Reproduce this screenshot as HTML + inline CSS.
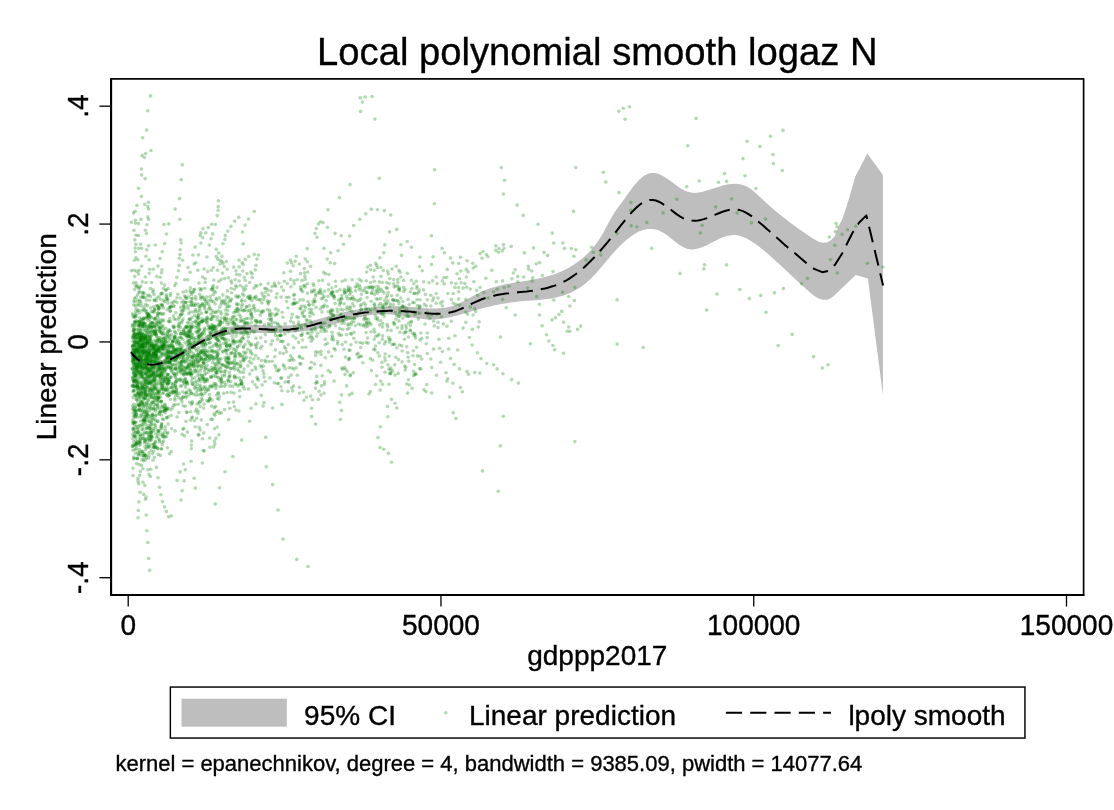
<!DOCTYPE html>
<html><head><meta charset="utf-8"><title>Local polynomial smooth logaz N</title>
<style>
html,body{margin:0;padding:0;background:#fff;width:1114px;height:810px;overflow:hidden}
svg{display:block}
text{font-family:"Liberation Sans",Arial,Helvetica,sans-serif;fill:#000;stroke:#000;stroke-width:0.35px}
.t28{font-size:28px} .t38{font-size:38.2px} .t22{font-size:22px}
.sc circle{r:1.8px;fill:#008000;fill-opacity:0.3}
</style></head><body>
<svg width="1114" height="810" viewBox="0 0 1114 810"><rect x="0" y="0" width="1114" height="810" fill="#fff"/><path d="M130.9,349.4 L134.9,354.3 L138.9,357.9 L142.9,360.3 L146.9,361.7 L150.9,362.2 L154.9,362.0 L158.9,361.1 L162.9,359.8 L166.9,358.2 L170.9,356.3 L174.9,354.3 L178.9,352.1 L182.9,349.8 L186.9,347.4 L190.9,344.9 L194.9,342.5 L198.9,340.1 L202.9,337.8 L206.9,335.5 L210.9,333.5 L214.9,331.6 L218.9,329.9 L222.9,328.5 L226.9,327.3 L230.9,326.4 L234.9,325.8 L238.9,325.3 L242.9,325.0 L246.9,324.9 L250.9,324.9 L254.9,325.0 L258.9,325.1 L262.9,325.3 L266.9,325.5 L270.9,325.6 L274.9,325.8 L278.9,325.8 L282.9,325.7 L286.9,325.5 L290.9,325.2 L294.9,324.7 L298.9,324.0 L302.9,323.2 L306.9,322.2 L310.9,321.2 L314.9,320.1 L318.9,319.0 L322.9,317.9 L326.9,316.7 L330.9,315.6 L334.9,314.4 L338.9,313.4 L342.9,312.4 L346.9,311.5 L350.9,310.7 L354.9,309.9 L358.9,309.2 L362.9,308.5 L366.9,308.0 L370.9,307.5 L374.9,307.1 L378.9,306.8 L382.9,306.5 L386.9,306.3 L390.9,306.2 L394.9,306.2 L398.9,306.2 L402.9,306.4 L406.9,306.6 L410.9,306.9 L414.9,307.2 L418.9,307.6 L422.9,307.9 L426.9,308.2 L430.9,308.4 L434.9,308.5 L438.9,308.3 L442.9,308.0 L446.9,307.4 L450.9,306.4 L454.9,305.2 L458.9,303.6 L462.9,301.6 L466.9,299.5 L470.9,297.3 L474.9,295.1 L478.9,293.0 L482.9,291.1 L486.9,289.5 L490.9,288.1 L494.9,286.9 L498.9,285.8 L502.9,284.8 L506.9,284.0 L510.9,283.3 L514.9,282.6 L518.9,281.9 L522.9,281.3 L526.9,280.7 L530.9,280.0 L534.9,279.3 L538.9,278.5 L542.9,277.6 L546.9,276.6 L550.9,275.4 L554.9,274.1 L558.9,272.5 L562.9,270.8 L566.9,268.8 L570.9,266.5 L574.9,264.0 L578.9,261.1 L582.9,257.9 L586.9,254.3 L590.9,250.3 L594.9,245.6 L598.9,240.1 L602.9,233.6 L606.9,226.0 L610.9,218.5 L614.9,212.0 L618.9,206.3 L622.9,200.9 L626.9,195.3 L630.9,189.8 L634.9,184.5 L638.9,180.0 L642.9,176.6 L646.9,174.2 L650.9,173.0 L654.9,173.0 L658.9,174.0 L662.9,175.9 L666.9,178.5 L670.9,181.3 L674.9,184.3 L678.9,187.2 L682.9,189.7 L686.9,191.5 L690.9,192.6 L694.9,192.9 L698.9,192.5 L702.9,191.8 L706.9,190.6 L710.9,189.3 L714.9,188.0 L718.9,186.7 L722.9,185.5 L726.9,184.6 L730.9,184.0 L734.9,183.8 L738.9,184.1 L742.9,185.0 L746.9,186.6 L750.9,189.1 L754.9,192.2 L758.9,195.9 L762.9,199.7 L766.9,203.4 L770.9,207.0 L774.9,210.4 L778.9,213.8 L782.9,217.0 L786.9,220.1 L790.9,223.2 L794.9,226.1 L798.9,229.0 L802.9,231.8 L806.9,234.6 L810.9,237.3 L814.9,239.8 L818.9,241.8 L822.9,242.8 L826.9,242.4 L830.9,240.3 L834.9,236.0 L837.4,229.0 L842.3,219.1 L847.3,204.3 L851.6,189.5 L855.3,176.5 L860.9,166.0 L867.3,153.6 L882.9,174.9 L882.9,394.7 L867.9,278.4 L855.7,275.1 L835.3,294.6 L834.9,295.1 L830.9,298.3 L826.9,299.8 L822.9,299.7 L818.9,298.5 L814.9,296.2 L810.9,293.3 L806.9,289.8 L802.9,286.1 L798.9,282.4 L794.9,278.7 L790.9,274.9 L786.9,271.2 L782.9,267.5 L778.9,263.8 L774.9,260.2 L770.9,256.6 L766.9,253.1 L762.9,249.7 L758.9,246.5 L754.9,243.5 L750.9,240.9 L746.9,238.6 L742.9,236.9 L738.9,235.6 L734.9,235.1 L730.9,235.2 L726.9,236.0 L722.9,237.3 L718.9,239.1 L714.9,241.1 L710.9,243.1 L706.9,245.2 L702.9,246.9 L698.9,248.3 L694.9,249.2 L690.9,249.4 L686.9,248.7 L682.9,247.1 L678.9,244.6 L674.9,241.5 L670.9,238.3 L666.9,235.1 L662.9,232.4 L658.9,230.5 L654.9,229.3 L650.9,228.9 L646.9,229.1 L642.9,230.1 L638.9,231.6 L634.9,233.7 L630.9,236.4 L626.9,239.5 L622.9,243.0 L618.9,247.0 L614.9,251.2 L610.9,255.7 L606.9,260.5 L602.9,265.2 L598.9,269.9 L594.9,274.4 L590.9,278.5 L586.9,282.2 L582.9,285.4 L578.9,288.2 L574.9,290.6 L570.9,292.6 L566.9,294.3 L562.9,295.7 L558.9,296.8 L554.9,297.7 L550.9,298.5 L546.9,299.0 L542.9,299.5 L538.9,299.9 L534.9,300.2 L530.9,300.5 L526.9,300.8 L522.9,301.1 L518.9,301.6 L514.9,302.0 L510.9,302.6 L506.9,303.2 L502.9,303.8 L498.9,304.6 L494.9,305.3 L490.9,306.2 L486.9,307.1 L482.9,308.1 L478.9,309.2 L474.9,310.3 L470.9,311.4 L466.9,312.6 L462.9,313.8 L458.9,314.9 L454.9,316.0 L450.9,316.9 L446.9,317.8 L442.9,318.5 L438.9,319.0 L434.9,319.4 L430.9,319.5 L426.9,319.4 L422.9,319.1 L418.9,318.6 L414.9,318.0 L410.9,317.4 L406.9,316.7 L402.9,316.0 L398.9,315.4 L394.9,314.9 L390.9,314.4 L386.9,314.2 L382.9,314.1 L378.9,314.3 L374.9,314.6 L370.9,315.1 L366.9,315.8 L362.9,316.6 L358.9,317.5 L354.9,318.5 L350.9,319.6 L346.9,320.7 L342.9,321.8 L338.9,323.0 L334.9,324.2 L330.9,325.3 L326.9,326.5 L322.9,327.5 L318.9,328.5 L314.9,329.4 L310.9,330.2 L306.9,330.8 L302.9,331.4 L298.9,331.8 L294.9,332.2 L290.9,332.4 L286.9,332.6 L282.9,332.8 L278.9,332.9 L274.9,332.9 L270.9,332.9 L266.9,332.9 L262.9,332.9 L258.9,332.9 L254.9,332.9 L250.9,332.9 L246.9,333.0 L242.9,333.2 L238.9,333.4 L234.9,333.8 L230.9,334.3 L226.9,334.9 L222.9,335.7 L218.9,336.7 L214.9,337.8 L210.9,339.2 L206.9,340.9 L202.9,342.7 L198.9,344.9 L194.9,347.2 L190.9,349.8 L186.9,352.5 L182.9,355.2 L178.9,357.8 L174.9,360.3 L170.9,362.5 L166.9,364.4 L162.9,366.0 L158.9,367.1 L154.9,367.6 L150.9,367.5 L146.9,366.7 L142.9,365.1 L138.9,362.6 L134.9,359.1 L130.9,354.7Z" fill="#bebebe"/><g class="sc" fill="#008000" fill-opacity="0.3"><circle cx="150.6" cy="95.9" r="1.8"/><circle cx="147.7" cy="110.7" r="1.8"/><circle cx="146.7" cy="130.1" r="1.8"/><circle cx="142.6" cy="137.8" r="1.8"/><circle cx="151.0" cy="150.5" r="1.8"/><circle cx="145.6" cy="153.5" r="1.8"/><circle cx="142.0" cy="155.4" r="1.8"/><circle cx="144.3" cy="157.4" r="1.8"/><circle cx="182.3" cy="164.9" r="1.8"/><circle cx="141.5" cy="169.1" r="1.8"/><circle cx="141.7" cy="174.9" r="1.8"/><circle cx="145.1" cy="178.6" r="1.8"/><circle cx="181.2" cy="179.8" r="1.8"/><circle cx="138.5" cy="188.3" r="1.8"/><circle cx="360.2" cy="97.9" r="1.8"/><circle cx="365.2" cy="97.0" r="1.8"/><circle cx="372.1" cy="96.5" r="1.8"/><circle cx="362.4" cy="102.1" r="1.8"/><circle cx="360.6" cy="111.4" r="1.8"/><circle cx="374.9" cy="119.1" r="1.8"/><circle cx="379.2" cy="178.2" r="1.8"/><circle cx="350.0" cy="184.6" r="1.8"/><circle cx="434.5" cy="169.7" r="1.8"/><circle cx="501.3" cy="167.6" r="1.8"/><circle cx="504.6" cy="180.3" r="1.8"/><circle cx="575.8" cy="167.6" r="1.8"/><circle cx="603.3" cy="172.3" r="1.8"/><circle cx="605.8" cy="182.0" r="1.8"/><circle cx="618.9" cy="111.2" r="1.8"/><circle cx="623.3" cy="108.3" r="1.8"/><circle cx="629.4" cy="106.7" r="1.8"/><circle cx="625.1" cy="119.3" r="1.8"/><circle cx="696.1" cy="118.4" r="1.8"/><circle cx="687.7" cy="145.7" r="1.8"/><circle cx="747.1" cy="141.2" r="1.8"/><circle cx="759.9" cy="146.6" r="1.8"/><circle cx="770.5" cy="136.2" r="1.8"/><circle cx="783.0" cy="130.4" r="1.8"/><circle cx="743.0" cy="158.6" r="1.8"/><circle cx="773.0" cy="154.5" r="1.8"/><circle cx="773.5" cy="163.5" r="1.8"/><circle cx="782.3" cy="170.5" r="1.8"/><circle cx="724.5" cy="173.5" r="1.8"/><circle cx="745.0" cy="175.8" r="1.8"/><circle cx="699.2" cy="181.0" r="1.8"/><circle cx="718.4" cy="182.3" r="1.8"/><circle cx="726.7" cy="181.4" r="1.8"/><circle cx="618.9" cy="192.6" r="1.8"/><circle cx="503.5" cy="194.0" r="1.8"/><circle cx="434.4" cy="203.7" r="1.8"/><circle cx="517.1" cy="205.1" r="1.8"/><circle cx="573.5" cy="211.4" r="1.8"/><circle cx="523.2" cy="215.4" r="1.8"/><circle cx="538.1" cy="224.3" r="1.8"/><circle cx="431.5" cy="235.7" r="1.8"/><circle cx="552.3" cy="233.1" r="1.8"/><circle cx="553.8" cy="243.0" r="1.8"/><circle cx="562.9" cy="243.0" r="1.8"/><circle cx="564.5" cy="248.4" r="1.8"/><circle cx="571.3" cy="248.6" r="1.8"/><circle cx="575.8" cy="249.7" r="1.8"/><circle cx="495.9" cy="245.9" r="1.8"/><circle cx="503.5" cy="244.6" r="1.8"/><circle cx="499.0" cy="248.6" r="1.8"/><circle cx="504.0" cy="248.2" r="1.8"/><circle cx="495.8" cy="250.4" r="1.8"/><circle cx="498.5" cy="252.2" r="1.8"/><circle cx="502.2" cy="250.9" r="1.8"/><circle cx="511.2" cy="246.4" r="1.8"/><circle cx="533.5" cy="247.9" r="1.8"/><circle cx="524.3" cy="252.9" r="1.8"/><circle cx="544.1" cy="252.4" r="1.8"/><circle cx="547.6" cy="255.4" r="1.8"/><circle cx="573.9" cy="256.3" r="1.8"/><circle cx="591.6" cy="247.3" r="1.8"/><circle cx="593.3" cy="252.2" r="1.8"/><circle cx="600.4" cy="250.9" r="1.8"/><circle cx="600.8" cy="255.0" r="1.8"/><circle cx="586.1" cy="259.9" r="1.8"/><circle cx="617.1" cy="233.5" r="1.8"/><circle cx="442.1" cy="248.4" r="1.8"/><circle cx="444.4" cy="252.7" r="1.8"/><circle cx="433.1" cy="256.7" r="1.8"/><circle cx="420.0" cy="257.2" r="1.8"/><circle cx="450.5" cy="258.1" r="1.8"/><circle cx="460.4" cy="257.2" r="1.8"/><circle cx="458.6" cy="263.5" r="1.8"/><circle cx="467.0" cy="260.8" r="1.8"/><circle cx="452.7" cy="262.9" r="1.8"/><circle cx="431.5" cy="264.4" r="1.8"/><circle cx="480.1" cy="253.6" r="1.8"/><circle cx="483.0" cy="251.5" r="1.8"/><circle cx="486.4" cy="254.5" r="1.8"/><circle cx="487.9" cy="256.8" r="1.8"/><circle cx="482.1" cy="258.3" r="1.8"/><circle cx="472.8" cy="263.3" r="1.8"/><circle cx="475.7" cy="266.2" r="1.8"/><circle cx="473.3" cy="268.0" r="1.8"/><circle cx="422.2" cy="270.7" r="1.8"/><circle cx="447.3" cy="269.4" r="1.8"/><circle cx="466.3" cy="269.4" r="1.8"/><circle cx="468.1" cy="271.9" r="1.8"/><circle cx="460.9" cy="271.0" r="1.8"/><circle cx="457.0" cy="273.7" r="1.8"/><circle cx="491.8" cy="270.3" r="1.8"/><circle cx="515.2" cy="269.8" r="1.8"/><circle cx="513.4" cy="273.0" r="1.8"/><circle cx="528.3" cy="266.2" r="1.8"/><circle cx="528.6" cy="269.2" r="1.8"/><circle cx="531.7" cy="271.0" r="1.8"/><circle cx="536.3" cy="263.7" r="1.8"/><circle cx="539.6" cy="262.6" r="1.8"/><circle cx="553.0" cy="271.6" r="1.8"/><circle cx="542.3" cy="275.5" r="1.8"/><circle cx="436.2" cy="277.0" r="1.8"/><circle cx="443.9" cy="277.5" r="1.8"/><circle cx="446.6" cy="277.5" r="1.8"/><circle cx="466.3" cy="277.0" r="1.8"/><circle cx="459.5" cy="278.7" r="1.8"/><circle cx="485.9" cy="278.2" r="1.8"/><circle cx="517.8" cy="276.4" r="1.8"/><circle cx="523.8" cy="277.0" r="1.8"/><circle cx="532.7" cy="277.8" r="1.8"/><circle cx="511.9" cy="278.7" r="1.8"/><circle cx="498.3" cy="491.3" r="1.8"/><circle cx="836.1" cy="223.5" r="1.8"/><circle cx="837.0" cy="226.7" r="1.8"/><circle cx="835.3" cy="231.6" r="1.8"/><circle cx="829.3" cy="237.1" r="1.8"/><circle cx="842.1" cy="234.3" r="1.8"/><circle cx="847.6" cy="229.7" r="1.8"/><circle cx="855.7" cy="226.2" r="1.8"/><circle cx="834.8" cy="245.2" r="1.8"/><circle cx="830.4" cy="259.6" r="1.8"/><circle cx="837.2" cy="272.9" r="1.8"/><circle cx="867.4" cy="263.2" r="1.8"/><circle cx="882.9" cy="267.0" r="1.8"/><circle cx="813.6" cy="356.6" r="1.8"/><circle cx="822.3" cy="368.0" r="1.8"/><circle cx="828.0" cy="364.8" r="1.8"/><circle cx="141.4" cy="196.5" r="1.8"/><circle cx="148.4" cy="202.3" r="1.8"/><circle cx="144.8" cy="204.4" r="1.8"/><circle cx="179.6" cy="198.6" r="1.8"/><circle cx="218.4" cy="200.8" r="1.8"/><circle cx="137.0" cy="205.4" r="1.8"/><circle cx="135.1" cy="211.2" r="1.8"/><circle cx="133.6" cy="213.1" r="1.8"/><circle cx="135.4" cy="220.2" r="1.8"/><circle cx="131.4" cy="222.3" r="1.8"/><circle cx="135.4" cy="223.3" r="1.8"/><circle cx="138.5" cy="223.6" r="1.8"/><circle cx="147.8" cy="206.6" r="1.8"/><circle cx="148.6" cy="209.1" r="1.8"/><circle cx="147.8" cy="216.9" r="1.8"/><circle cx="148.6" cy="219.3" r="1.8"/><circle cx="141.0" cy="219.3" r="1.8"/><circle cx="146.9" cy="224.8" r="1.8"/><circle cx="175.1" cy="209.1" r="1.8"/><circle cx="164.1" cy="224.5" r="1.8"/><circle cx="168.8" cy="223.9" r="1.8"/><circle cx="179.9" cy="219.2" r="1.8"/><circle cx="218.1" cy="206.6" r="1.8"/><circle cx="218.1" cy="210.3" r="1.8"/><circle cx="217.3" cy="215.6" r="1.8"/><circle cx="211.6" cy="224.3" r="1.8"/><circle cx="215.3" cy="224.5" r="1.8"/><circle cx="134.0" cy="230.3" r="1.8"/><circle cx="136.0" cy="235.2" r="1.8"/><circle cx="138.5" cy="235.5" r="1.8"/><circle cx="134.8" cy="239.9" r="1.8"/><circle cx="135.8" cy="244.3" r="1.8"/><circle cx="145.4" cy="230.3" r="1.8"/><circle cx="146.5" cy="233.5" r="1.8"/><circle cx="140.6" cy="244.3" r="1.8"/><circle cx="166.5" cy="234.0" r="1.8"/><circle cx="164.6" cy="243.6" r="1.8"/><circle cx="180.7" cy="239.7" r="1.8"/><circle cx="181.2" cy="243.0" r="1.8"/><circle cx="203.0" cy="228.7" r="1.8"/><circle cx="208.3" cy="227.6" r="1.8"/><circle cx="205.8" cy="232.9" r="1.8"/><circle cx="200.7" cy="232.7" r="1.8"/><circle cx="200.2" cy="235.6" r="1.8"/><circle cx="202.7" cy="237.7" r="1.8"/><circle cx="212.6" cy="233.9" r="1.8"/><circle cx="211.0" cy="238.8" r="1.8"/><circle cx="200.9" cy="243.0" r="1.8"/><circle cx="135.1" cy="248.0" r="1.8"/><circle cx="135.4" cy="251.7" r="1.8"/><circle cx="136.0" cy="257.8" r="1.8"/><circle cx="134.6" cy="260.3" r="1.8"/><circle cx="137.9" cy="259.7" r="1.8"/><circle cx="138.5" cy="248.2" r="1.8"/><circle cx="141.6" cy="248.2" r="1.8"/><circle cx="148.6" cy="245.7" r="1.8"/><circle cx="146.8" cy="249.9" r="1.8"/><circle cx="145.9" cy="256.2" r="1.8"/><circle cx="149.1" cy="259.9" r="1.8"/><circle cx="155.3" cy="245.0" r="1.8"/><circle cx="162.2" cy="251.8" r="1.8"/><circle cx="160.1" cy="258.5" r="1.8"/><circle cx="180.2" cy="249.7" r="1.8"/><circle cx="179.9" cy="254.5" r="1.8"/><circle cx="179.3" cy="258.2" r="1.8"/><circle cx="182.6" cy="260.2" r="1.8"/><circle cx="192.8" cy="255.0" r="1.8"/><circle cx="195.1" cy="247.1" r="1.8"/><circle cx="198.5" cy="254.9" r="1.8"/><circle cx="209.3" cy="245.1" r="1.8"/><circle cx="207.0" cy="257.0" r="1.8"/><circle cx="216.3" cy="249.2" r="1.8"/><circle cx="218.8" cy="252.9" r="1.8"/><circle cx="217.5" cy="259.1" r="1.8"/><circle cx="216.3" cy="256.6" r="1.8"/><circle cx="220.0" cy="264.0" r="1.8"/><circle cx="131.4" cy="270.6" r="1.8"/><circle cx="134.2" cy="270.2" r="1.8"/><circle cx="139.1" cy="270.4" r="1.8"/><circle cx="134.8" cy="276.4" r="1.8"/><circle cx="133.6" cy="283.1" r="1.8"/><circle cx="136.0" cy="282.5" r="1.8"/><circle cx="138.5" cy="273.9" r="1.8"/><circle cx="136.7" cy="271.4" r="1.8"/><circle cx="141.6" cy="266.2" r="1.8"/><circle cx="149.6" cy="269.3" r="1.8"/><circle cx="153.3" cy="269.3" r="1.8"/><circle cx="149.3" cy="273.3" r="1.8"/><circle cx="145.3" cy="277.0" r="1.8"/><circle cx="142.2" cy="281.9" r="1.8"/><circle cx="145.9" cy="282.5" r="1.8"/><circle cx="151.5" cy="282.5" r="1.8"/><circle cx="158.0" cy="266.1" r="1.8"/><circle cx="162.0" cy="269.8" r="1.8"/><circle cx="161.5" cy="272.7" r="1.8"/><circle cx="156.8" cy="276.4" r="1.8"/><circle cx="160.2" cy="277.3" r="1.8"/><circle cx="161.4" cy="283.1" r="1.8"/><circle cx="179.3" cy="265.4" r="1.8"/><circle cx="178.4" cy="270.7" r="1.8"/><circle cx="176.8" cy="277.3" r="1.8"/><circle cx="175.8" cy="283.4" r="1.8"/><circle cx="184.7" cy="279.8" r="1.8"/><circle cx="187.7" cy="279.8" r="1.8"/><circle cx="188.0" cy="267.5" r="1.8"/><circle cx="190.1" cy="272.3" r="1.8"/><circle cx="194.1" cy="264.0" r="1.8"/><circle cx="195.9" cy="262.8" r="1.8"/><circle cx="197.8" cy="270.2" r="1.8"/><circle cx="204.0" cy="269.0" r="1.8"/><circle cx="207.7" cy="271.4" r="1.8"/><circle cx="211.4" cy="270.2" r="1.8"/><circle cx="213.3" cy="267.5" r="1.8"/><circle cx="202.7" cy="277.0" r="1.8"/><circle cx="205.2" cy="278.8" r="1.8"/><circle cx="205.2" cy="282.5" r="1.8"/><circle cx="199.0" cy="283.1" r="1.8"/><circle cx="217.5" cy="270.2" r="1.8"/><circle cx="213.8" cy="280.1" r="1.8"/><circle cx="218.8" cy="281.3" r="1.8"/><circle cx="254.3" cy="211.5" r="1.8"/><circle cx="238.8" cy="217.3" r="1.8"/><circle cx="248.5" cy="219.0" r="1.8"/><circle cx="234.6" cy="221.2" r="1.8"/><circle cx="245.1" cy="225.1" r="1.8"/><circle cx="230.9" cy="226.4" r="1.8"/><circle cx="242.6" cy="232.0" r="1.8"/><circle cx="227.8" cy="231.3" r="1.8"/><circle cx="225.3" cy="235.4" r="1.8"/><circle cx="224.9" cy="239.4" r="1.8"/><circle cx="223.0" cy="243.8" r="1.8"/><circle cx="243.2" cy="243.9" r="1.8"/><circle cx="318.5" cy="223.9" r="1.8"/><circle cx="316.3" cy="228.5" r="1.8"/><circle cx="315.1" cy="233.5" r="1.8"/><circle cx="317.0" cy="237.3" r="1.8"/><circle cx="307.2" cy="248.6" r="1.8"/><circle cx="221.9" cy="256.4" r="1.8"/><circle cx="220.0" cy="260.3" r="1.8"/><circle cx="221.9" cy="261.5" r="1.8"/><circle cx="223.1" cy="263.4" r="1.8"/><circle cx="226.4" cy="261.5" r="1.8"/><circle cx="239.1" cy="260.1" r="1.8"/><circle cx="245.3" cy="259.3" r="1.8"/><circle cx="248.6" cy="256.5" r="1.8"/><circle cx="254.3" cy="254.4" r="1.8"/><circle cx="258.5" cy="255.0" r="1.8"/><circle cx="257.0" cy="259.1" r="1.8"/><circle cx="242.2" cy="262.5" r="1.8"/><circle cx="243.2" cy="264.6" r="1.8"/><circle cx="256.0" cy="265.4" r="1.8"/><circle cx="224.3" cy="266.5" r="1.8"/><circle cx="227.2" cy="269.2" r="1.8"/><circle cx="233.8" cy="267.1" r="1.8"/><circle cx="239.1" cy="266.9" r="1.8"/><circle cx="236.0" cy="270.9" r="1.8"/><circle cx="242.8" cy="271.0" r="1.8"/><circle cx="255.3" cy="269.9" r="1.8"/><circle cx="250.9" cy="272.0" r="1.8"/><circle cx="252.1" cy="273.9" r="1.8"/><circle cx="246.9" cy="273.6" r="1.8"/><circle cx="222.5" cy="273.1" r="1.8"/><circle cx="239.8" cy="274.9" r="1.8"/><circle cx="236.7" cy="274.5" r="1.8"/><circle cx="252.3" cy="277.6" r="1.8"/><circle cx="244.1" cy="277.3" r="1.8"/><circle cx="224.7" cy="278.6" r="1.8"/><circle cx="221.2" cy="279.4" r="1.8"/><circle cx="228.4" cy="277.8" r="1.8"/><circle cx="235.1" cy="279.8" r="1.8"/><circle cx="231.1" cy="280.7" r="1.8"/><circle cx="239.1" cy="281.0" r="1.8"/><circle cx="245.3" cy="280.3" r="1.8"/><circle cx="249.6" cy="282.5" r="1.8"/><circle cx="231.7" cy="283.1" r="1.8"/><circle cx="296.3" cy="256.2" r="1.8"/><circle cx="290.4" cy="260.3" r="1.8"/><circle cx="287.3" cy="263.1" r="1.8"/><circle cx="291.6" cy="262.8" r="1.8"/><circle cx="295.1" cy="261.3" r="1.8"/><circle cx="293.2" cy="265.7" r="1.8"/><circle cx="299.4" cy="264.0" r="1.8"/><circle cx="305.2" cy="259.1" r="1.8"/><circle cx="307.4" cy="261.8" r="1.8"/><circle cx="310.5" cy="266.2" r="1.8"/><circle cx="304.3" cy="268.6" r="1.8"/><circle cx="290.5" cy="271.2" r="1.8"/><circle cx="283.8" cy="272.8" r="1.8"/><circle cx="300.5" cy="273.6" r="1.8"/><circle cx="304.6" cy="272.9" r="1.8"/><circle cx="307.7" cy="272.0" r="1.8"/><circle cx="304.9" cy="276.4" r="1.8"/><circle cx="305.2" cy="279.4" r="1.8"/><circle cx="302.1" cy="280.4" r="1.8"/><circle cx="290.7" cy="279.4" r="1.8"/><circle cx="294.1" cy="280.7" r="1.8"/><circle cx="297.2" cy="279.8" r="1.8"/><circle cx="307.4" cy="283.8" r="1.8"/><circle cx="313.2" cy="283.8" r="1.8"/><circle cx="318.8" cy="280.7" r="1.8"/><circle cx="279.0" cy="283.1" r="1.8"/><circle cx="274.3" cy="283.1" r="1.8"/><circle cx="268.1" cy="283.5" r="1.8"/><circle cx="284.2" cy="281.3" r="1.8"/><circle cx="287.3" cy="283.5" r="1.8"/><circle cx="294.1" cy="283.8" r="1.8"/><circle cx="260.7" cy="284.4" r="1.8"/><circle cx="339.5" cy="197.6" r="1.8"/><circle cx="328.0" cy="209.7" r="1.8"/><circle cx="371.2" cy="209.3" r="1.8"/><circle cx="377.4" cy="209.8" r="1.8"/><circle cx="384.4" cy="210.6" r="1.8"/><circle cx="365.8" cy="213.8" r="1.8"/><circle cx="390.7" cy="215.0" r="1.8"/><circle cx="359.8" cy="219.2" r="1.8"/><circle cx="320.6" cy="221.8" r="1.8"/><circle cx="323.1" cy="222.7" r="1.8"/><circle cx="353.7" cy="225.5" r="1.8"/><circle cx="327.4" cy="227.2" r="1.8"/><circle cx="396.8" cy="229.4" r="1.8"/><circle cx="389.6" cy="231.9" r="1.8"/><circle cx="335.1" cy="233.4" r="1.8"/><circle cx="341.2" cy="235.7" r="1.8"/><circle cx="349.6" cy="236.0" r="1.8"/><circle cx="343.5" cy="244.3" r="1.8"/><circle cx="324.1" cy="248.2" r="1.8"/><circle cx="384.8" cy="244.8" r="1.8"/><circle cx="407.2" cy="241.5" r="1.8"/><circle cx="400.9" cy="244.8" r="1.8"/><circle cx="411.4" cy="247.3" r="1.8"/><circle cx="338.1" cy="250.8" r="1.8"/><circle cx="330.7" cy="252.8" r="1.8"/><circle cx="383.8" cy="252.8" r="1.8"/><circle cx="401.5" cy="255.4" r="1.8"/><circle cx="379.9" cy="257.8" r="1.8"/><circle cx="327.2" cy="259.1" r="1.8"/><circle cx="330.2" cy="262.8" r="1.8"/><circle cx="334.6" cy="263.6" r="1.8"/><circle cx="375.6" cy="263.4" r="1.8"/><circle cx="370.6" cy="265.2" r="1.8"/><circle cx="367.5" cy="267.1" r="1.8"/><circle cx="376.8" cy="265.2" r="1.8"/><circle cx="377.4" cy="267.7" r="1.8"/><circle cx="380.9" cy="267.5" r="1.8"/><circle cx="370.6" cy="269.6" r="1.8"/><circle cx="374.3" cy="270.2" r="1.8"/><circle cx="366.7" cy="272.0" r="1.8"/><circle cx="383.2" cy="270.6" r="1.8"/><circle cx="387.7" cy="271.2" r="1.8"/><circle cx="392.0" cy="269.0" r="1.8"/><circle cx="396.3" cy="266.2" r="1.8"/><circle cx="399.0" cy="270.2" r="1.8"/><circle cx="400.0" cy="272.3" r="1.8"/><circle cx="388.3" cy="274.1" r="1.8"/><circle cx="407.4" cy="273.3" r="1.8"/><circle cx="419.4" cy="266.5" r="1.8"/><circle cx="323.7" cy="272.4" r="1.8"/><circle cx="325.6" cy="273.9" r="1.8"/><circle cx="329.0" cy="274.5" r="1.8"/><circle cx="381.1" cy="276.4" r="1.8"/><circle cx="373.1" cy="277.0" r="1.8"/><circle cx="400.9" cy="277.0" r="1.8"/><circle cx="389.8" cy="278.6" r="1.8"/><circle cx="393.8" cy="279.6" r="1.8"/><circle cx="397.8" cy="279.4" r="1.8"/><circle cx="403.7" cy="280.3" r="1.8"/><circle cx="411.4" cy="280.3" r="1.8"/><circle cx="416.3" cy="281.3" r="1.8"/><circle cx="413.8" cy="283.8" r="1.8"/><circle cx="322.5" cy="280.4" r="1.8"/><circle cx="335.4" cy="281.3" r="1.8"/><circle cx="342.2" cy="281.3" r="1.8"/><circle cx="345.3" cy="280.1" r="1.8"/><circle cx="352.1" cy="279.8" r="1.8"/><circle cx="359.3" cy="279.4" r="1.8"/><circle cx="361.4" cy="281.0" r="1.8"/><circle cx="366.3" cy="280.7" r="1.8"/><circle cx="370.6" cy="282.5" r="1.8"/><circle cx="374.3" cy="281.3" r="1.8"/><circle cx="379.3" cy="281.9" r="1.8"/><circle cx="382.3" cy="282.5" r="1.8"/><circle cx="386.7" cy="282.5" r="1.8"/><circle cx="389.1" cy="283.8" r="1.8"/><circle cx="393.5" cy="283.8" r="1.8"/><circle cx="397.8" cy="282.5" r="1.8"/><circle cx="357.0" cy="283.8" r="1.8"/><circle cx="328.6" cy="284.4" r="1.8"/><circle cx="423.6" cy="281.8" r="1.8"/><circle cx="429.0" cy="282.7" r="1.8"/><circle cx="432.6" cy="280.9" r="1.8"/><circle cx="437.1" cy="283.6" r="1.8"/><circle cx="442.4" cy="280.9" r="1.8"/><circle cx="444.2" cy="283.9" r="1.8"/><circle cx="451.4" cy="282.7" r="1.8"/><circle cx="455.9" cy="283.6" r="1.8"/><circle cx="461.3" cy="282.7" r="1.8"/><circle cx="464.9" cy="283.6" r="1.8"/><circle cx="473.9" cy="281.8" r="1.8"/><circle cx="455.0" cy="287.5" r="1.8"/><circle cx="458.6" cy="287.5" r="1.8"/><circle cx="466.7" cy="287.2" r="1.8"/><circle cx="470.3" cy="289.0" r="1.8"/><circle cx="463.1" cy="288.1" r="1.8"/><circle cx="480.1" cy="287.5" r="1.8"/><circle cx="476.6" cy="290.4" r="1.8"/><circle cx="423.6" cy="289.9" r="1.8"/><circle cx="425.4" cy="294.4" r="1.8"/><circle cx="430.8" cy="295.3" r="1.8"/><circle cx="436.2" cy="293.5" r="1.8"/><circle cx="433.5" cy="298.0" r="1.8"/><circle cx="438.0" cy="298.0" r="1.8"/><circle cx="447.8" cy="293.5" r="1.8"/><circle cx="453.2" cy="293.5" r="1.8"/><circle cx="458.6" cy="291.7" r="1.8"/><circle cx="465.8" cy="299.4" r="1.8"/><circle cx="420.0" cy="299.7" r="1.8"/><circle cx="427.2" cy="299.7" r="1.8"/><circle cx="432.6" cy="300.6" r="1.8"/><circle cx="442.4" cy="301.5" r="1.8"/><circle cx="451.4" cy="299.4" r="1.8"/><circle cx="455.9" cy="304.2" r="1.8"/><circle cx="458.6" cy="298.9" r="1.8"/><circle cx="424.5" cy="304.2" r="1.8"/><circle cx="426.3" cy="306.0" r="1.8"/><circle cx="430.8" cy="306.0" r="1.8"/><circle cx="436.2" cy="303.3" r="1.8"/><circle cx="440.6" cy="303.3" r="1.8"/><circle cx="442.4" cy="306.0" r="1.8"/><circle cx="453.2" cy="303.3" r="1.8"/><circle cx="459.5" cy="305.1" r="1.8"/><circle cx="427.2" cy="312.3" r="1.8"/><circle cx="420.0" cy="313.2" r="1.8"/><circle cx="428.1" cy="315.9" r="1.8"/><circle cx="431.7" cy="315.0" r="1.8"/><circle cx="441.5" cy="316.8" r="1.8"/><circle cx="437.1" cy="314.1" r="1.8"/><circle cx="429.9" cy="318.6" r="1.8"/><circle cx="470.3" cy="306.9" r="1.8"/><circle cx="474.8" cy="308.7" r="1.8"/><circle cx="475.7" cy="311.4" r="1.8"/><circle cx="465.8" cy="312.3" r="1.8"/><circle cx="467.6" cy="314.1" r="1.8"/><circle cx="473.0" cy="315.0" r="1.8"/><circle cx="477.5" cy="295.3" r="1.8"/><circle cx="488.2" cy="298.0" r="1.8"/><circle cx="483.7" cy="292.6" r="1.8"/><circle cx="493.6" cy="291.7" r="1.8"/><circle cx="497.2" cy="289.3" r="1.8"/><circle cx="504.4" cy="287.5" r="1.8"/><circle cx="508.9" cy="286.3" r="1.8"/><circle cx="496.3" cy="281.8" r="1.8"/><circle cx="502.6" cy="280.9" r="1.8"/><circle cx="517.8" cy="281.8" r="1.8"/><circle cx="527.7" cy="288.1" r="1.8"/><circle cx="532.2" cy="280.9" r="1.8"/><circle cx="536.7" cy="296.5" r="1.8"/><circle cx="539.4" cy="304.2" r="1.8"/><circle cx="502.6" cy="299.4" r="1.8"/><circle cx="506.2" cy="307.8" r="1.8"/><circle cx="515.2" cy="315.0" r="1.8"/><circle cx="539.4" cy="315.0" r="1.8"/><circle cx="553.8" cy="300.1" r="1.8"/><circle cx="562.7" cy="292.2" r="1.8"/><circle cx="568.7" cy="296.5" r="1.8"/><circle cx="574.4" cy="300.6" r="1.8"/><circle cx="574.8" cy="287.5" r="1.8"/><circle cx="569.9" cy="306.0" r="1.8"/><circle cx="561.8" cy="311.4" r="1.8"/><circle cx="559.1" cy="314.5" r="1.8"/><circle cx="555.5" cy="317.7" r="1.8"/><circle cx="552.0" cy="319.9" r="1.8"/><circle cx="563.6" cy="322.2" r="1.8"/><circle cx="542.1" cy="325.8" r="1.8"/><circle cx="568.7" cy="327.0" r="1.8"/><circle cx="567.2" cy="331.2" r="1.8"/><circle cx="569.9" cy="331.2" r="1.8"/><circle cx="577.5" cy="329.4" r="1.8"/><circle cx="580.7" cy="326.1" r="1.8"/><circle cx="546.6" cy="334.8" r="1.8"/><circle cx="548.9" cy="341.0" r="1.8"/><circle cx="552.9" cy="345.5" r="1.8"/><circle cx="554.6" cy="349.7" r="1.8"/><circle cx="563.6" cy="353.2" r="1.8"/><circle cx="530.4" cy="343.7" r="1.8"/><circle cx="500.4" cy="337.1" r="1.8"/><circle cx="617.1" cy="299.7" r="1.8"/><circle cx="617.1" cy="344.1" r="1.8"/><circle cx="433.5" cy="321.3" r="1.8"/><circle cx="438.0" cy="322.2" r="1.8"/><circle cx="443.3" cy="324.0" r="1.8"/><circle cx="446.9" cy="326.3" r="1.8"/><circle cx="451.4" cy="321.3" r="1.8"/><circle cx="465.8" cy="322.2" r="1.8"/><circle cx="463.1" cy="328.1" r="1.8"/><circle cx="479.2" cy="321.7" r="1.8"/><circle cx="478.3" cy="327.0" r="1.8"/><circle cx="472.4" cy="329.4" r="1.8"/><circle cx="425.0" cy="324.0" r="1.8"/><circle cx="434.4" cy="325.8" r="1.8"/><circle cx="438.0" cy="327.6" r="1.8"/><circle cx="420.9" cy="333.0" r="1.8"/><circle cx="427.2" cy="333.0" r="1.8"/><circle cx="427.2" cy="337.5" r="1.8"/><circle cx="421.8" cy="338.3" r="1.8"/><circle cx="420.0" cy="340.1" r="1.8"/><circle cx="426.3" cy="343.7" r="1.8"/><circle cx="438.9" cy="339.2" r="1.8"/><circle cx="448.7" cy="338.3" r="1.8"/><circle cx="455.0" cy="335.7" r="1.8"/><circle cx="469.4" cy="337.5" r="1.8"/><circle cx="472.1" cy="345.0" r="1.8"/><circle cx="433.5" cy="349.1" r="1.8"/><circle cx="439.7" cy="348.2" r="1.8"/><circle cx="442.4" cy="351.5" r="1.8"/><circle cx="448.7" cy="349.1" r="1.8"/><circle cx="457.7" cy="350.0" r="1.8"/><circle cx="427.2" cy="353.6" r="1.8"/><circle cx="420.0" cy="356.3" r="1.8"/><circle cx="421.8" cy="359.0" r="1.8"/><circle cx="430.8" cy="359.0" r="1.8"/><circle cx="450.5" cy="358.5" r="1.8"/><circle cx="440.6" cy="362.2" r="1.8"/><circle cx="454.1" cy="364.4" r="1.8"/><circle cx="477.5" cy="352.7" r="1.8"/><circle cx="481.0" cy="358.6" r="1.8"/><circle cx="486.8" cy="363.5" r="1.8"/><circle cx="493.6" cy="364.7" r="1.8"/><circle cx="497.2" cy="368.9" r="1.8"/><circle cx="502.9" cy="373.7" r="1.8"/><circle cx="431.7" cy="367.6" r="1.8"/><circle cx="420.9" cy="368.9" r="1.8"/><circle cx="459.5" cy="368.9" r="1.8"/><circle cx="467.0" cy="371.6" r="1.8"/><circle cx="468.5" cy="374.3" r="1.8"/><circle cx="474.8" cy="372.5" r="1.8"/><circle cx="479.8" cy="373.0" r="1.8"/><circle cx="446.0" cy="372.8" r="1.8"/><circle cx="436.5" cy="375.2" r="1.8"/><circle cx="447.8" cy="378.7" r="1.8"/><circle cx="511.6" cy="379.6" r="1.8"/><circle cx="221.8" cy="385.9" r="1.8"/><circle cx="224.5" cy="386.4" r="1.8"/><circle cx="229.9" cy="385.9" r="1.8"/><circle cx="232.6" cy="386.4" r="1.8"/><circle cx="238.0" cy="385.9" r="1.8"/><circle cx="243.3" cy="386.4" r="1.8"/><circle cx="244.2" cy="388.9" r="1.8"/><circle cx="248.4" cy="388.9" r="1.8"/><circle cx="256.8" cy="387.5" r="1.8"/><circle cx="262.2" cy="385.0" r="1.8"/><circle cx="281.0" cy="386.8" r="1.8"/><circle cx="281.9" cy="390.7" r="1.8"/><circle cx="287.9" cy="391.3" r="1.8"/><circle cx="291.8" cy="387.7" r="1.8"/><circle cx="292.7" cy="390.9" r="1.8"/><circle cx="293.6" cy="385.9" r="1.8"/><circle cx="299.4" cy="387.2" r="1.8"/><circle cx="299.4" cy="393.1" r="1.8"/><circle cx="303.5" cy="392.2" r="1.8"/><circle cx="306.5" cy="397.2" r="1.8"/><circle cx="310.7" cy="396.1" r="1.8"/><circle cx="304.0" cy="400.3" r="1.8"/><circle cx="312.5" cy="399.7" r="1.8"/><circle cx="315.5" cy="388.1" r="1.8"/><circle cx="318.4" cy="399.4" r="1.8"/><circle cx="319.1" cy="391.3" r="1.8"/><circle cx="320.9" cy="394.9" r="1.8"/><circle cx="321.4" cy="385.9" r="1.8"/><circle cx="324.1" cy="393.1" r="1.8"/><circle cx="346.6" cy="385.9" r="1.8"/><circle cx="341.5" cy="394.9" r="1.8"/><circle cx="349.3" cy="394.9" r="1.8"/><circle cx="352.0" cy="393.4" r="1.8"/><circle cx="369.0" cy="394.0" r="1.8"/><circle cx="370.4" cy="391.6" r="1.8"/><circle cx="380.1" cy="390.0" r="1.8"/><circle cx="407.6" cy="393.1" r="1.8"/><circle cx="412.1" cy="388.2" r="1.8"/><circle cx="409.4" cy="385.0" r="1.8"/><circle cx="223.6" cy="393.4" r="1.8"/><circle cx="227.2" cy="392.5" r="1.8"/><circle cx="231.1" cy="392.2" r="1.8"/><circle cx="234.0" cy="393.1" r="1.8"/><circle cx="239.7" cy="390.7" r="1.8"/><circle cx="239.7" cy="396.7" r="1.8"/><circle cx="261.3" cy="395.4" r="1.8"/><circle cx="228.6" cy="402.6" r="1.8"/><circle cx="233.5" cy="402.1" r="1.8"/><circle cx="234.4" cy="406.5" r="1.8"/><circle cx="229.9" cy="408.3" r="1.8"/><circle cx="224.5" cy="409.6" r="1.8"/><circle cx="235.8" cy="410.1" r="1.8"/><circle cx="238.9" cy="411.0" r="1.8"/><circle cx="221.4" cy="412.8" r="1.8"/><circle cx="255.9" cy="403.9" r="1.8"/><circle cx="264.0" cy="402.6" r="1.8"/><circle cx="263.1" cy="406.0" r="1.8"/><circle cx="251.1" cy="408.3" r="1.8"/><circle cx="272.6" cy="408.0" r="1.8"/><circle cx="281.9" cy="404.4" r="1.8"/><circle cx="311.6" cy="408.3" r="1.8"/><circle cx="311.6" cy="416.4" r="1.8"/><circle cx="315.5" cy="424.1" r="1.8"/><circle cx="339.7" cy="402.2" r="1.8"/><circle cx="341.5" cy="410.5" r="1.8"/><circle cx="340.3" cy="419.5" r="1.8"/><circle cx="391.5" cy="399.4" r="1.8"/><circle cx="395.0" cy="403.3" r="1.8"/><circle cx="396.8" cy="408.0" r="1.8"/><circle cx="387.5" cy="406.5" r="1.8"/><circle cx="387.9" cy="416.8" r="1.8"/><circle cx="380.3" cy="426.7" r="1.8"/><circle cx="378.0" cy="437.6" r="1.8"/><circle cx="380.1" cy="447.5" r="1.8"/><circle cx="383.7" cy="449.3" r="1.8"/><circle cx="388.4" cy="453.4" r="1.8"/><circle cx="391.5" cy="462.2" r="1.8"/><circle cx="228.6" cy="419.6" r="1.8"/><circle cx="249.6" cy="421.3" r="1.8"/><circle cx="241.5" cy="440.1" r="1.8"/><circle cx="265.8" cy="437.4" r="1.8"/><circle cx="232.9" cy="456.5" r="1.8"/><circle cx="266.3" cy="466.7" r="1.8"/><circle cx="225.0" cy="471.7" r="1.8"/><circle cx="272.6" cy="484.6" r="1.8"/><circle cx="138.0" cy="481.4" r="1.8"/><circle cx="138.9" cy="483.9" r="1.8"/><circle cx="143.0" cy="482.2" r="1.8"/><circle cx="144.8" cy="485.4" r="1.8"/><circle cx="140.1" cy="492.2" r="1.8"/><circle cx="143.7" cy="494.4" r="1.8"/><circle cx="146.0" cy="497.1" r="1.8"/><circle cx="145.5" cy="499.2" r="1.8"/><circle cx="138.9" cy="501.9" r="1.8"/><circle cx="138.3" cy="510.5" r="1.8"/><circle cx="146.2" cy="515.0" r="1.8"/><circle cx="138.1" cy="517.7" r="1.8"/><circle cx="146.9" cy="530.8" r="1.8"/><circle cx="147.8" cy="542.5" r="1.8"/><circle cx="148.7" cy="558.5" r="1.8"/><circle cx="149.6" cy="570.3" r="1.8"/><circle cx="159.5" cy="487.2" r="1.8"/><circle cx="160.9" cy="494.7" r="1.8"/><circle cx="162.5" cy="501.5" r="1.8"/><circle cx="164.5" cy="506.9" r="1.8"/><circle cx="166.3" cy="511.4" r="1.8"/><circle cx="168.5" cy="516.8" r="1.8"/><circle cx="171.2" cy="515.9" r="1.8"/><circle cx="177.1" cy="480.4" r="1.8"/><circle cx="184.1" cy="480.9" r="1.8"/><circle cx="182.1" cy="490.8" r="1.8"/><circle cx="181.0" cy="500.1" r="1.8"/><circle cx="195.4" cy="488.1" r="1.8"/><circle cx="219.6" cy="487.7" r="1.8"/><circle cx="215.2" cy="503.9" r="1.8"/><circle cx="278.0" cy="510.0" r="1.8"/><circle cx="283.0" cy="539.1" r="1.8"/><circle cx="296.8" cy="559.4" r="1.8"/><circle cx="308.0" cy="566.5" r="1.8"/><circle cx="426.8" cy="384.5" r="1.8"/><circle cx="423.9" cy="389.7" r="1.8"/><circle cx="425.9" cy="391.5" r="1.8"/><circle cx="431.7" cy="393.0" r="1.8"/><circle cx="446.9" cy="381.3" r="1.8"/><circle cx="452.9" cy="383.3" r="1.8"/><circle cx="460.4" cy="387.6" r="1.8"/><circle cx="462.5" cy="391.7" r="1.8"/><circle cx="449.4" cy="397.1" r="1.8"/><circle cx="453.2" cy="412.7" r="1.8"/><circle cx="455.9" cy="418.6" r="1.8"/><circle cx="518.4" cy="383.1" r="1.8"/><circle cx="503.3" cy="416.3" r="1.8"/><circle cx="500.4" cy="445.9" r="1.8"/><circle cx="482.5" cy="470.9" r="1.8"/><circle cx="574.8" cy="441.6" r="1.8"/><circle cx="686.7" cy="186.8" r="1.8"/><circle cx="755.8" cy="188.6" r="1.8"/><circle cx="631.0" cy="202.4" r="1.8"/><circle cx="676.8" cy="199.2" r="1.8"/><circle cx="731.5" cy="198.9" r="1.8"/><circle cx="630.6" cy="210.2" r="1.8"/><circle cx="663.0" cy="212.9" r="1.8"/><circle cx="715.6" cy="206.9" r="1.8"/><circle cx="737.1" cy="212.9" r="1.8"/><circle cx="765.5" cy="219.1" r="1.8"/><circle cx="646.8" cy="222.5" r="1.8"/><circle cx="631.2" cy="225.8" r="1.8"/><circle cx="636.9" cy="226.7" r="1.8"/><circle cx="702.1" cy="225.2" r="1.8"/><circle cx="751.5" cy="222.7" r="1.8"/><circle cx="700.3" cy="233.0" r="1.8"/><circle cx="651.8" cy="248.2" r="1.8"/><circle cx="704.6" cy="264.7" r="1.8"/><circle cx="703.9" cy="268.9" r="1.8"/><circle cx="726.5" cy="264.9" r="1.8"/><circle cx="680.0" cy="273.4" r="1.8"/><circle cx="739.8" cy="289.5" r="1.8"/><circle cx="783.4" cy="288.6" r="1.8"/><circle cx="801.6" cy="283.8" r="1.8"/><circle cx="807.5" cy="278.4" r="1.8"/><circle cx="717.0" cy="294.0" r="1.8"/><circle cx="749.3" cy="298.6" r="1.8"/><circle cx="760.8" cy="295.6" r="1.8"/><circle cx="774.5" cy="292.9" r="1.8"/><circle cx="706.6" cy="310.0" r="1.8"/><circle cx="766.0" cy="312.3" r="1.8"/><circle cx="792.2" cy="334.4" r="1.8"/><circle cx="778.2" cy="345.5" r="1.8"/><circle cx="643.2" cy="347.5" r="1.8"/><circle cx="133.4" cy="459.1" r="1.8"/><circle cx="137.1" cy="458.3" r="1.8"/><circle cx="138.2" cy="455.0" r="1.8"/><circle cx="141.9" cy="455.7" r="1.8"/><circle cx="143.8" cy="457.2" r="1.8"/><circle cx="145.3" cy="455.6" r="1.8"/><circle cx="149.0" cy="455.7" r="1.8"/><circle cx="154.5" cy="457.2" r="1.8"/><circle cx="153.0" cy="460.3" r="1.8"/><circle cx="143.4" cy="460.6" r="1.8"/><circle cx="160.4" cy="455.4" r="1.8"/><circle cx="136.4" cy="463.5" r="1.8"/><circle cx="139.0" cy="464.6" r="1.8"/><circle cx="141.6" cy="465.4" r="1.8"/><circle cx="133.0" cy="468.2" r="1.8"/><circle cx="143.0" cy="468.7" r="1.8"/><circle cx="147.9" cy="469.8" r="1.8"/><circle cx="150.8" cy="469.2" r="1.8"/><circle cx="156.4" cy="467.4" r="1.8"/><circle cx="140.4" cy="471.4" r="1.8"/><circle cx="133.0" cy="475.6" r="1.8"/><circle cx="139.7" cy="475.4" r="1.8"/><circle cx="149.0" cy="474.4" r="1.8"/><circle cx="150.4" cy="476.5" r="1.8"/><circle cx="158.0" cy="477.8" r="1.8"/><circle cx="137.9" cy="478.6" r="1.8"/><circle cx="183.6" cy="464.0" r="1.8"/><circle cx="185.3" cy="469.8" r="1.8"/><circle cx="180.1" cy="471.9" r="1.8"/><circle cx="135.6" cy="286.2" r="1.8"/><circle cx="134.6" cy="289.6" r="1.8"/><circle cx="134.5" cy="298.4" r="1.8"/><circle cx="136.1" cy="297.4" r="1.8"/><circle cx="135.2" cy="301.8" r="1.8"/><circle cx="133.7" cy="301.1" r="1.8"/><circle cx="133.7" cy="304.9" r="1.8"/><circle cx="136.1" cy="308.5" r="1.8"/><circle cx="135.4" cy="305.7" r="1.8"/><circle cx="135.8" cy="311.3" r="1.8"/><circle cx="135.8" cy="313.9" r="1.8"/><circle cx="135.5" cy="315.2" r="1.8"/><circle cx="133.0" cy="315.4" r="1.8"/><circle cx="134.4" cy="316.8" r="1.8"/><circle cx="132.5" cy="313.7" r="1.8"/><circle cx="136.2" cy="316.3" r="1.8"/><circle cx="133.6" cy="317.2" r="1.8"/><circle cx="135.1" cy="317.3" r="1.8"/><circle cx="136.3" cy="320.7" r="1.8"/><circle cx="134.8" cy="322.3" r="1.8"/><circle cx="134.7" cy="322.7" r="1.8"/><circle cx="136.1" cy="321.8" r="1.8"/><circle cx="135.4" cy="323.8" r="1.8"/><circle cx="134.5" cy="321.3" r="1.8"/><circle cx="133.0" cy="324.9" r="1.8"/><circle cx="132.3" cy="325.0" r="1.8"/><circle cx="134.3" cy="325.7" r="1.8"/><circle cx="134.7" cy="328.2" r="1.8"/><circle cx="132.7" cy="327.0" r="1.8"/><circle cx="133.6" cy="330.6" r="1.8"/><circle cx="133.0" cy="331.7" r="1.8"/><circle cx="134.4" cy="330.0" r="1.8"/><circle cx="134.0" cy="331.8" r="1.8"/><circle cx="133.6" cy="329.3" r="1.8"/><circle cx="134.1" cy="329.8" r="1.8"/><circle cx="135.5" cy="334.0" r="1.8"/><circle cx="134.0" cy="334.5" r="1.8"/><circle cx="134.4" cy="335.3" r="1.8"/><circle cx="134.8" cy="333.3" r="1.8"/><circle cx="133.8" cy="335.8" r="1.8"/><circle cx="132.4" cy="336.0" r="1.8"/><circle cx="135.0" cy="334.6" r="1.8"/><circle cx="134.1" cy="334.1" r="1.8"/><circle cx="134.7" cy="337.8" r="1.8"/><circle cx="133.9" cy="337.7" r="1.8"/><circle cx="133.7" cy="340.6" r="1.8"/><circle cx="135.2" cy="340.4" r="1.8"/><circle cx="132.6" cy="338.2" r="1.8"/><circle cx="135.4" cy="337.2" r="1.8"/><circle cx="133.1" cy="337.3" r="1.8"/><circle cx="135.6" cy="337.9" r="1.8"/><circle cx="134.0" cy="337.1" r="1.8"/><circle cx="132.9" cy="341.8" r="1.8"/><circle cx="134.6" cy="342.4" r="1.8"/><circle cx="136.2" cy="342.1" r="1.8"/><circle cx="135.7" cy="341.4" r="1.8"/><circle cx="134.4" cy="343.2" r="1.8"/><circle cx="134.9" cy="342.6" r="1.8"/><circle cx="135.6" cy="347.6" r="1.8"/><circle cx="132.4" cy="346.9" r="1.8"/><circle cx="132.5" cy="346.3" r="1.8"/><circle cx="135.5" cy="345.5" r="1.8"/><circle cx="134.6" cy="345.2" r="1.8"/><circle cx="132.7" cy="348.8" r="1.8"/><circle cx="132.7" cy="345.7" r="1.8"/><circle cx="136.1" cy="346.2" r="1.8"/><circle cx="133.2" cy="345.4" r="1.8"/><circle cx="134.3" cy="345.2" r="1.8"/><circle cx="133.2" cy="345.9" r="1.8"/><circle cx="135.4" cy="352.1" r="1.8"/><circle cx="134.5" cy="349.5" r="1.8"/><circle cx="133.4" cy="349.9" r="1.8"/><circle cx="136.2" cy="349.9" r="1.8"/><circle cx="133.8" cy="351.8" r="1.8"/><circle cx="135.0" cy="351.2" r="1.8"/><circle cx="134.9" cy="352.5" r="1.8"/><circle cx="136.0" cy="349.4" r="1.8"/><circle cx="132.4" cy="352.7" r="1.8"/><circle cx="135.9" cy="350.5" r="1.8"/><circle cx="133.9" cy="351.7" r="1.8"/><circle cx="134.0" cy="349.4" r="1.8"/><circle cx="133.3" cy="350.2" r="1.8"/><circle cx="134.6" cy="349.7" r="1.8"/><circle cx="135.2" cy="352.9" r="1.8"/><circle cx="133.9" cy="353.9" r="1.8"/><circle cx="134.5" cy="354.0" r="1.8"/><circle cx="132.7" cy="356.2" r="1.8"/><circle cx="133.3" cy="355.2" r="1.8"/><circle cx="132.4" cy="355.3" r="1.8"/><circle cx="135.5" cy="356.1" r="1.8"/><circle cx="133.6" cy="353.5" r="1.8"/><circle cx="134.7" cy="354.2" r="1.8"/><circle cx="133.4" cy="353.8" r="1.8"/><circle cx="133.9" cy="355.7" r="1.8"/><circle cx="133.9" cy="355.6" r="1.8"/><circle cx="135.2" cy="356.2" r="1.8"/><circle cx="134.6" cy="357.0" r="1.8"/><circle cx="133.9" cy="359.6" r="1.8"/><circle cx="135.3" cy="357.9" r="1.8"/><circle cx="134.8" cy="360.0" r="1.8"/><circle cx="132.9" cy="357.1" r="1.8"/><circle cx="132.9" cy="359.7" r="1.8"/><circle cx="136.0" cy="358.5" r="1.8"/><circle cx="133.5" cy="359.5" r="1.8"/><circle cx="133.6" cy="357.2" r="1.8"/><circle cx="133.3" cy="359.4" r="1.8"/><circle cx="134.1" cy="358.4" r="1.8"/><circle cx="133.9" cy="357.5" r="1.8"/><circle cx="135.4" cy="358.5" r="1.8"/><circle cx="135.1" cy="359.3" r="1.8"/><circle cx="135.9" cy="360.2" r="1.8"/><circle cx="132.8" cy="358.8" r="1.8"/><circle cx="133.0" cy="361.2" r="1.8"/><circle cx="135.1" cy="363.7" r="1.8"/><circle cx="135.3" cy="364.1" r="1.8"/><circle cx="132.8" cy="361.3" r="1.8"/><circle cx="134.9" cy="361.0" r="1.8"/><circle cx="133.6" cy="363.4" r="1.8"/><circle cx="134.9" cy="363.5" r="1.8"/><circle cx="136.1" cy="364.9" r="1.8"/><circle cx="133.5" cy="362.3" r="1.8"/><circle cx="132.4" cy="361.5" r="1.8"/><circle cx="134.1" cy="363.6" r="1.8"/><circle cx="136.0" cy="368.7" r="1.8"/><circle cx="135.5" cy="365.9" r="1.8"/><circle cx="136.2" cy="368.2" r="1.8"/><circle cx="132.9" cy="365.1" r="1.8"/><circle cx="133.8" cy="367.3" r="1.8"/><circle cx="132.4" cy="368.8" r="1.8"/><circle cx="135.0" cy="367.1" r="1.8"/><circle cx="134.3" cy="365.4" r="1.8"/><circle cx="135.3" cy="368.0" r="1.8"/><circle cx="132.4" cy="368.2" r="1.8"/><circle cx="134.2" cy="371.2" r="1.8"/><circle cx="134.5" cy="369.5" r="1.8"/><circle cx="132.4" cy="369.6" r="1.8"/><circle cx="135.9" cy="369.5" r="1.8"/><circle cx="135.0" cy="371.2" r="1.8"/><circle cx="134.7" cy="372.7" r="1.8"/><circle cx="133.3" cy="371.8" r="1.8"/><circle cx="134.9" cy="375.3" r="1.8"/><circle cx="135.5" cy="374.6" r="1.8"/><circle cx="136.1" cy="375.9" r="1.8"/><circle cx="134.1" cy="373.5" r="1.8"/><circle cx="133.3" cy="373.5" r="1.8"/><circle cx="134.4" cy="376.2" r="1.8"/><circle cx="135.3" cy="375.5" r="1.8"/><circle cx="134.0" cy="374.1" r="1.8"/><circle cx="135.5" cy="375.7" r="1.8"/><circle cx="132.7" cy="378.9" r="1.8"/><circle cx="134.7" cy="378.4" r="1.8"/><circle cx="134.3" cy="381.0" r="1.8"/><circle cx="136.0" cy="377.3" r="1.8"/><circle cx="136.1" cy="380.2" r="1.8"/><circle cx="135.5" cy="380.2" r="1.8"/><circle cx="133.1" cy="377.5" r="1.8"/><circle cx="134.9" cy="380.3" r="1.8"/><circle cx="132.7" cy="377.1" r="1.8"/><circle cx="136.1" cy="380.6" r="1.8"/><circle cx="133.3" cy="380.3" r="1.8"/><circle cx="133.5" cy="380.4" r="1.8"/><circle cx="134.9" cy="381.4" r="1.8"/><circle cx="134.1" cy="381.3" r="1.8"/><circle cx="133.8" cy="381.6" r="1.8"/><circle cx="133.6" cy="382.9" r="1.8"/><circle cx="132.4" cy="386.4" r="1.8"/><circle cx="136.1" cy="386.9" r="1.8"/><circle cx="135.6" cy="386.5" r="1.8"/><circle cx="134.7" cy="385.3" r="1.8"/><circle cx="133.1" cy="385.4" r="1.8"/><circle cx="133.9" cy="386.3" r="1.8"/><circle cx="134.5" cy="387.6" r="1.8"/><circle cx="133.3" cy="386.1" r="1.8"/><circle cx="132.4" cy="385.5" r="1.8"/><circle cx="134.7" cy="390.7" r="1.8"/><circle cx="133.6" cy="390.6" r="1.8"/><circle cx="133.4" cy="390.6" r="1.8"/><circle cx="133.0" cy="391.9" r="1.8"/><circle cx="135.4" cy="394.8" r="1.8"/><circle cx="134.5" cy="395.6" r="1.8"/><circle cx="135.5" cy="395.1" r="1.8"/><circle cx="133.0" cy="397.6" r="1.8"/><circle cx="136.1" cy="399.3" r="1.8"/><circle cx="133.9" cy="404.3" r="1.8"/><circle cx="135.4" cy="407.0" r="1.8"/><circle cx="135.2" cy="407.3" r="1.8"/><circle cx="132.7" cy="406.1" r="1.8"/><circle cx="133.6" cy="408.1" r="1.8"/><circle cx="135.7" cy="410.8" r="1.8"/><circle cx="136.1" cy="411.9" r="1.8"/><circle cx="134.6" cy="410.7" r="1.8"/><circle cx="135.0" cy="410.0" r="1.8"/><circle cx="133.7" cy="410.3" r="1.8"/><circle cx="135.6" cy="412.8" r="1.8"/><circle cx="132.7" cy="409.1" r="1.8"/><circle cx="134.6" cy="415.5" r="1.8"/><circle cx="133.1" cy="413.1" r="1.8"/><circle cx="135.0" cy="417.0" r="1.8"/><circle cx="134.9" cy="413.8" r="1.8"/><circle cx="135.8" cy="414.3" r="1.8"/><circle cx="133.7" cy="416.3" r="1.8"/><circle cx="135.5" cy="416.7" r="1.8"/><circle cx="133.2" cy="419.3" r="1.8"/><circle cx="134.4" cy="424.8" r="1.8"/><circle cx="134.8" cy="422.3" r="1.8"/><circle cx="132.7" cy="421.5" r="1.8"/><circle cx="132.8" cy="423.8" r="1.8"/><circle cx="133.6" cy="422.7" r="1.8"/><circle cx="136.2" cy="422.3" r="1.8"/><circle cx="134.9" cy="422.4" r="1.8"/><circle cx="133.8" cy="422.7" r="1.8"/><circle cx="132.7" cy="428.9" r="1.8"/><circle cx="136.2" cy="426.1" r="1.8"/><circle cx="133.7" cy="428.1" r="1.8"/><circle cx="135.5" cy="432.5" r="1.8"/><circle cx="135.8" cy="432.2" r="1.8"/><circle cx="134.9" cy="429.1" r="1.8"/><circle cx="133.8" cy="431.8" r="1.8"/><circle cx="133.3" cy="429.3" r="1.8"/><circle cx="135.0" cy="436.6" r="1.8"/><circle cx="134.4" cy="435.3" r="1.8"/><circle cx="132.7" cy="434.3" r="1.8"/><circle cx="134.7" cy="436.2" r="1.8"/><circle cx="133.6" cy="436.3" r="1.8"/><circle cx="132.8" cy="438.7" r="1.8"/><circle cx="135.8" cy="440.5" r="1.8"/><circle cx="136.1" cy="437.8" r="1.8"/><circle cx="133.7" cy="441.9" r="1.8"/><circle cx="136.0" cy="443.9" r="1.8"/><circle cx="136.0" cy="443.9" r="1.8"/><circle cx="136.2" cy="443.9" r="1.8"/><circle cx="135.6" cy="444.7" r="1.8"/><circle cx="132.3" cy="446.4" r="1.8"/><circle cx="133.4" cy="445.0" r="1.8"/><circle cx="133.6" cy="446.0" r="1.8"/><circle cx="132.7" cy="446.0" r="1.8"/><circle cx="135.7" cy="445.9" r="1.8"/><circle cx="135.1" cy="449.5" r="1.8"/><circle cx="133.0" cy="450.2" r="1.8"/><circle cx="135.5" cy="453.3" r="1.8"/><circle cx="133.7" cy="457.0" r="1.8"/><circle cx="134.6" cy="458.3" r="1.8"/><circle cx="137.0" cy="285.2" r="1.8"/><circle cx="137.1" cy="287.0" r="1.8"/><circle cx="139.1" cy="288.4" r="1.8"/><circle cx="139.2" cy="287.6" r="1.8"/><circle cx="139.0" cy="292.3" r="1.8"/><circle cx="139.7" cy="291.9" r="1.8"/><circle cx="137.6" cy="294.8" r="1.8"/><circle cx="137.8" cy="300.3" r="1.8"/><circle cx="138.0" cy="303.9" r="1.8"/><circle cx="139.3" cy="301.0" r="1.8"/><circle cx="138.6" cy="305.4" r="1.8"/><circle cx="137.8" cy="310.7" r="1.8"/><circle cx="138.6" cy="310.4" r="1.8"/><circle cx="139.1" cy="313.0" r="1.8"/><circle cx="139.8" cy="317.8" r="1.8"/><circle cx="139.5" cy="321.2" r="1.8"/><circle cx="139.8" cy="325.0" r="1.8"/><circle cx="139.2" cy="323.4" r="1.8"/><circle cx="139.2" cy="321.3" r="1.8"/><circle cx="139.8" cy="321.3" r="1.8"/><circle cx="137.3" cy="322.1" r="1.8"/><circle cx="139.1" cy="322.6" r="1.8"/><circle cx="136.7" cy="325.5" r="1.8"/><circle cx="139.3" cy="325.3" r="1.8"/><circle cx="139.3" cy="325.0" r="1.8"/><circle cx="139.0" cy="326.0" r="1.8"/><circle cx="138.9" cy="328.0" r="1.8"/><circle cx="138.9" cy="325.3" r="1.8"/><circle cx="138.2" cy="332.3" r="1.8"/><circle cx="137.1" cy="329.5" r="1.8"/><circle cx="140.0" cy="330.7" r="1.8"/><circle cx="138.1" cy="330.2" r="1.8"/><circle cx="137.4" cy="334.1" r="1.8"/><circle cx="136.8" cy="336.2" r="1.8"/><circle cx="139.1" cy="336.2" r="1.8"/><circle cx="138.9" cy="334.0" r="1.8"/><circle cx="136.6" cy="334.0" r="1.8"/><circle cx="139.5" cy="333.1" r="1.8"/><circle cx="138.4" cy="334.3" r="1.8"/><circle cx="137.5" cy="334.3" r="1.8"/><circle cx="138.7" cy="333.7" r="1.8"/><circle cx="136.9" cy="336.4" r="1.8"/><circle cx="139.3" cy="334.4" r="1.8"/><circle cx="139.0" cy="340.5" r="1.8"/><circle cx="138.2" cy="337.6" r="1.8"/><circle cx="137.5" cy="337.8" r="1.8"/><circle cx="139.7" cy="339.9" r="1.8"/><circle cx="137.5" cy="338.2" r="1.8"/><circle cx="136.8" cy="338.8" r="1.8"/><circle cx="140.2" cy="340.0" r="1.8"/><circle cx="140.0" cy="337.3" r="1.8"/><circle cx="140.0" cy="340.7" r="1.8"/><circle cx="139.1" cy="342.2" r="1.8"/><circle cx="136.8" cy="342.2" r="1.8"/><circle cx="138.1" cy="344.4" r="1.8"/><circle cx="138.2" cy="341.5" r="1.8"/><circle cx="139.6" cy="343.7" r="1.8"/><circle cx="138.5" cy="344.6" r="1.8"/><circle cx="137.9" cy="342.5" r="1.8"/><circle cx="136.5" cy="343.8" r="1.8"/><circle cx="138.8" cy="344.8" r="1.8"/><circle cx="136.3" cy="342.7" r="1.8"/><circle cx="138.0" cy="342.7" r="1.8"/><circle cx="138.7" cy="347.2" r="1.8"/><circle cx="139.0" cy="345.4" r="1.8"/><circle cx="138.8" cy="347.6" r="1.8"/><circle cx="136.6" cy="348.9" r="1.8"/><circle cx="139.7" cy="348.2" r="1.8"/><circle cx="139.4" cy="347.0" r="1.8"/><circle cx="140.0" cy="345.6" r="1.8"/><circle cx="139.3" cy="348.9" r="1.8"/><circle cx="136.6" cy="347.6" r="1.8"/><circle cx="136.9" cy="351.0" r="1.8"/><circle cx="138.5" cy="352.0" r="1.8"/><circle cx="137.1" cy="351.2" r="1.8"/><circle cx="136.5" cy="352.9" r="1.8"/><circle cx="136.4" cy="351.2" r="1.8"/><circle cx="137.0" cy="350.1" r="1.8"/><circle cx="137.9" cy="350.0" r="1.8"/><circle cx="137.3" cy="350.2" r="1.8"/><circle cx="138.3" cy="352.8" r="1.8"/><circle cx="137.1" cy="349.7" r="1.8"/><circle cx="136.5" cy="352.7" r="1.8"/><circle cx="139.4" cy="352.3" r="1.8"/><circle cx="136.9" cy="350.8" r="1.8"/><circle cx="139.0" cy="351.1" r="1.8"/><circle cx="139.2" cy="349.8" r="1.8"/><circle cx="139.9" cy="351.4" r="1.8"/><circle cx="139.0" cy="354.6" r="1.8"/><circle cx="138.9" cy="354.0" r="1.8"/><circle cx="136.8" cy="355.7" r="1.8"/><circle cx="139.6" cy="353.8" r="1.8"/><circle cx="136.4" cy="356.5" r="1.8"/><circle cx="139.3" cy="356.1" r="1.8"/><circle cx="139.5" cy="354.7" r="1.8"/><circle cx="140.1" cy="356.2" r="1.8"/><circle cx="139.2" cy="357.2" r="1.8"/><circle cx="139.8" cy="358.2" r="1.8"/><circle cx="140.2" cy="357.2" r="1.8"/><circle cx="139.3" cy="357.4" r="1.8"/><circle cx="139.8" cy="360.3" r="1.8"/><circle cx="138.3" cy="359.3" r="1.8"/><circle cx="137.2" cy="358.5" r="1.8"/><circle cx="136.9" cy="358.6" r="1.8"/><circle cx="136.9" cy="359.5" r="1.8"/><circle cx="138.3" cy="358.4" r="1.8"/><circle cx="137.7" cy="360.8" r="1.8"/><circle cx="140.1" cy="360.9" r="1.8"/><circle cx="137.8" cy="357.3" r="1.8"/><circle cx="139.7" cy="361.1" r="1.8"/><circle cx="136.7" cy="362.7" r="1.8"/><circle cx="138.9" cy="362.6" r="1.8"/><circle cx="137.4" cy="364.3" r="1.8"/><circle cx="139.7" cy="363.6" r="1.8"/><circle cx="136.8" cy="364.0" r="1.8"/><circle cx="138.7" cy="363.9" r="1.8"/><circle cx="139.2" cy="363.3" r="1.8"/><circle cx="137.8" cy="364.3" r="1.8"/><circle cx="140.0" cy="364.8" r="1.8"/><circle cx="137.5" cy="361.8" r="1.8"/><circle cx="137.2" cy="368.1" r="1.8"/><circle cx="137.2" cy="367.2" r="1.8"/><circle cx="140.0" cy="366.7" r="1.8"/><circle cx="137.2" cy="368.5" r="1.8"/><circle cx="140.2" cy="365.3" r="1.8"/><circle cx="139.6" cy="368.9" r="1.8"/><circle cx="137.5" cy="366.4" r="1.8"/><circle cx="137.1" cy="365.9" r="1.8"/><circle cx="139.4" cy="366.8" r="1.8"/><circle cx="137.5" cy="366.5" r="1.8"/><circle cx="139.9" cy="369.0" r="1.8"/><circle cx="137.6" cy="366.1" r="1.8"/><circle cx="137.4" cy="368.1" r="1.8"/><circle cx="139.9" cy="365.8" r="1.8"/><circle cx="136.7" cy="366.3" r="1.8"/><circle cx="136.7" cy="372.7" r="1.8"/><circle cx="138.0" cy="371.0" r="1.8"/><circle cx="137.1" cy="371.1" r="1.8"/><circle cx="137.3" cy="372.8" r="1.8"/><circle cx="139.8" cy="371.9" r="1.8"/><circle cx="138.6" cy="371.9" r="1.8"/><circle cx="136.6" cy="370.4" r="1.8"/><circle cx="139.8" cy="372.2" r="1.8"/><circle cx="137.6" cy="370.5" r="1.8"/><circle cx="139.5" cy="373.7" r="1.8"/><circle cx="138.1" cy="375.2" r="1.8"/><circle cx="137.0" cy="374.1" r="1.8"/><circle cx="139.7" cy="377.9" r="1.8"/><circle cx="138.0" cy="378.6" r="1.8"/><circle cx="137.5" cy="383.9" r="1.8"/><circle cx="136.9" cy="383.5" r="1.8"/><circle cx="138.3" cy="381.3" r="1.8"/><circle cx="138.3" cy="382.4" r="1.8"/><circle cx="136.3" cy="382.8" r="1.8"/><circle cx="137.1" cy="381.4" r="1.8"/><circle cx="137.7" cy="387.2" r="1.8"/><circle cx="139.5" cy="388.5" r="1.8"/><circle cx="138.0" cy="386.1" r="1.8"/><circle cx="139.4" cy="387.8" r="1.8"/><circle cx="137.4" cy="386.8" r="1.8"/><circle cx="137.3" cy="387.1" r="1.8"/><circle cx="137.1" cy="385.3" r="1.8"/><circle cx="137.4" cy="385.3" r="1.8"/><circle cx="137.5" cy="386.3" r="1.8"/><circle cx="137.5" cy="388.7" r="1.8"/><circle cx="138.2" cy="389.3" r="1.8"/><circle cx="137.4" cy="392.8" r="1.8"/><circle cx="138.4" cy="392.9" r="1.8"/><circle cx="138.1" cy="390.3" r="1.8"/><circle cx="139.0" cy="393.3" r="1.8"/><circle cx="137.7" cy="393.5" r="1.8"/><circle cx="138.8" cy="393.5" r="1.8"/><circle cx="136.7" cy="395.9" r="1.8"/><circle cx="139.0" cy="396.4" r="1.8"/><circle cx="139.9" cy="395.9" r="1.8"/><circle cx="139.6" cy="394.2" r="1.8"/><circle cx="138.1" cy="395.2" r="1.8"/><circle cx="136.9" cy="400.1" r="1.8"/><circle cx="139.8" cy="397.8" r="1.8"/><circle cx="136.7" cy="397.9" r="1.8"/><circle cx="139.8" cy="398.8" r="1.8"/><circle cx="139.1" cy="405.0" r="1.8"/><circle cx="139.3" cy="404.3" r="1.8"/><circle cx="138.0" cy="401.2" r="1.8"/><circle cx="137.2" cy="404.4" r="1.8"/><circle cx="139.9" cy="405.3" r="1.8"/><circle cx="139.2" cy="405.1" r="1.8"/><circle cx="139.7" cy="406.3" r="1.8"/><circle cx="138.5" cy="405.2" r="1.8"/><circle cx="139.0" cy="409.0" r="1.8"/><circle cx="139.0" cy="410.1" r="1.8"/><circle cx="139.2" cy="409.3" r="1.8"/><circle cx="136.8" cy="410.3" r="1.8"/><circle cx="136.7" cy="414.5" r="1.8"/><circle cx="136.5" cy="415.2" r="1.8"/><circle cx="137.6" cy="417.2" r="1.8"/><circle cx="138.2" cy="428.3" r="1.8"/><circle cx="137.1" cy="426.9" r="1.8"/><circle cx="139.9" cy="426.1" r="1.8"/><circle cx="139.4" cy="425.3" r="1.8"/><circle cx="137.6" cy="429.8" r="1.8"/><circle cx="137.6" cy="432.4" r="1.8"/><circle cx="138.6" cy="432.4" r="1.8"/><circle cx="138.6" cy="431.7" r="1.8"/><circle cx="137.2" cy="434.3" r="1.8"/><circle cx="140.0" cy="436.9" r="1.8"/><circle cx="140.2" cy="435.2" r="1.8"/><circle cx="140.1" cy="440.5" r="1.8"/><circle cx="139.4" cy="439.1" r="1.8"/><circle cx="139.6" cy="442.8" r="1.8"/><circle cx="139.7" cy="442.0" r="1.8"/><circle cx="140.2" cy="443.9" r="1.8"/><circle cx="137.1" cy="443.7" r="1.8"/><circle cx="137.5" cy="441.4" r="1.8"/><circle cx="136.8" cy="442.7" r="1.8"/><circle cx="140.1" cy="442.0" r="1.8"/><circle cx="138.5" cy="442.8" r="1.8"/><circle cx="136.5" cy="448.4" r="1.8"/><circle cx="139.3" cy="445.2" r="1.8"/><circle cx="139.1" cy="449.2" r="1.8"/><circle cx="139.9" cy="451.6" r="1.8"/><circle cx="137.9" cy="452.3" r="1.8"/><circle cx="138.9" cy="454.7" r="1.8"/><circle cx="139.8" cy="453.6" r="1.8"/><circle cx="137.3" cy="458.8" r="1.8"/><circle cx="137.4" cy="458.5" r="1.8"/><circle cx="140.8" cy="286.1" r="1.8"/><circle cx="143.1" cy="292.5" r="1.8"/><circle cx="142.7" cy="292.8" r="1.8"/><circle cx="142.6" cy="295.6" r="1.8"/><circle cx="144.3" cy="293.6" r="1.8"/><circle cx="142.6" cy="297.3" r="1.8"/><circle cx="140.9" cy="297.2" r="1.8"/><circle cx="143.7" cy="297.5" r="1.8"/><circle cx="140.6" cy="301.0" r="1.8"/><circle cx="141.0" cy="303.3" r="1.8"/><circle cx="141.4" cy="306.1" r="1.8"/><circle cx="143.6" cy="309.4" r="1.8"/><circle cx="141.9" cy="310.7" r="1.8"/><circle cx="142.9" cy="319.6" r="1.8"/><circle cx="141.2" cy="320.0" r="1.8"/><circle cx="143.9" cy="319.4" r="1.8"/><circle cx="143.4" cy="318.1" r="1.8"/><circle cx="143.7" cy="318.3" r="1.8"/><circle cx="141.5" cy="319.3" r="1.8"/><circle cx="140.8" cy="324.4" r="1.8"/><circle cx="143.1" cy="322.3" r="1.8"/><circle cx="143.5" cy="323.7" r="1.8"/><circle cx="142.1" cy="323.1" r="1.8"/><circle cx="144.1" cy="323.2" r="1.8"/><circle cx="140.7" cy="322.8" r="1.8"/><circle cx="141.5" cy="324.8" r="1.8"/><circle cx="142.0" cy="322.6" r="1.8"/><circle cx="143.4" cy="324.1" r="1.8"/><circle cx="142.3" cy="325.8" r="1.8"/><circle cx="142.5" cy="326.6" r="1.8"/><circle cx="143.8" cy="325.3" r="1.8"/><circle cx="142.2" cy="326.2" r="1.8"/><circle cx="140.7" cy="328.4" r="1.8"/><circle cx="142.9" cy="326.4" r="1.8"/><circle cx="140.7" cy="332.4" r="1.8"/><circle cx="143.4" cy="330.2" r="1.8"/><circle cx="140.4" cy="332.5" r="1.8"/><circle cx="140.6" cy="330.0" r="1.8"/><circle cx="141.5" cy="335.9" r="1.8"/><circle cx="142.6" cy="337.0" r="1.8"/><circle cx="142.4" cy="333.8" r="1.8"/><circle cx="143.5" cy="334.8" r="1.8"/><circle cx="140.8" cy="336.8" r="1.8"/><circle cx="142.3" cy="333.7" r="1.8"/><circle cx="141.1" cy="334.0" r="1.8"/><circle cx="144.0" cy="336.3" r="1.8"/><circle cx="140.4" cy="335.8" r="1.8"/><circle cx="141.6" cy="334.8" r="1.8"/><circle cx="143.3" cy="334.2" r="1.8"/><circle cx="141.5" cy="336.7" r="1.8"/><circle cx="144.2" cy="338.9" r="1.8"/><circle cx="140.8" cy="340.4" r="1.8"/><circle cx="141.8" cy="340.8" r="1.8"/><circle cx="140.4" cy="340.0" r="1.8"/><circle cx="143.0" cy="339.9" r="1.8"/><circle cx="140.4" cy="339.0" r="1.8"/><circle cx="142.3" cy="338.2" r="1.8"/><circle cx="140.7" cy="339.5" r="1.8"/><circle cx="141.8" cy="340.9" r="1.8"/><circle cx="141.2" cy="338.6" r="1.8"/><circle cx="142.9" cy="337.5" r="1.8"/><circle cx="140.9" cy="337.4" r="1.8"/><circle cx="143.7" cy="340.1" r="1.8"/><circle cx="140.8" cy="338.1" r="1.8"/><circle cx="143.0" cy="337.2" r="1.8"/><circle cx="140.5" cy="337.8" r="1.8"/><circle cx="141.6" cy="344.6" r="1.8"/><circle cx="141.0" cy="342.6" r="1.8"/><circle cx="143.4" cy="341.3" r="1.8"/><circle cx="143.4" cy="344.6" r="1.8"/><circle cx="142.8" cy="344.7" r="1.8"/><circle cx="142.1" cy="344.1" r="1.8"/><circle cx="144.3" cy="343.0" r="1.8"/><circle cx="142.1" cy="344.8" r="1.8"/><circle cx="143.1" cy="343.0" r="1.8"/><circle cx="141.9" cy="343.9" r="1.8"/><circle cx="141.1" cy="346.1" r="1.8"/><circle cx="140.5" cy="346.7" r="1.8"/><circle cx="142.6" cy="346.4" r="1.8"/><circle cx="143.0" cy="346.5" r="1.8"/><circle cx="142.2" cy="345.8" r="1.8"/><circle cx="142.4" cy="345.9" r="1.8"/><circle cx="141.2" cy="346.7" r="1.8"/><circle cx="142.8" cy="347.1" r="1.8"/><circle cx="141.2" cy="347.3" r="1.8"/><circle cx="143.1" cy="345.9" r="1.8"/><circle cx="140.8" cy="348.5" r="1.8"/><circle cx="141.7" cy="347.2" r="1.8"/><circle cx="142.3" cy="347.0" r="1.8"/><circle cx="141.6" cy="345.6" r="1.8"/><circle cx="143.1" cy="347.7" r="1.8"/><circle cx="142.8" cy="352.8" r="1.8"/><circle cx="141.3" cy="351.0" r="1.8"/><circle cx="142.0" cy="351.0" r="1.8"/><circle cx="143.6" cy="352.5" r="1.8"/><circle cx="142.6" cy="350.9" r="1.8"/><circle cx="143.9" cy="350.8" r="1.8"/><circle cx="141.5" cy="350.9" r="1.8"/><circle cx="142.9" cy="349.9" r="1.8"/><circle cx="143.3" cy="350.5" r="1.8"/><circle cx="140.5" cy="351.8" r="1.8"/><circle cx="143.8" cy="352.6" r="1.8"/><circle cx="144.2" cy="349.2" r="1.8"/><circle cx="144.2" cy="352.6" r="1.8"/><circle cx="143.1" cy="355.1" r="1.8"/><circle cx="141.9" cy="353.3" r="1.8"/><circle cx="143.2" cy="353.0" r="1.8"/><circle cx="142.6" cy="353.4" r="1.8"/><circle cx="142.1" cy="355.3" r="1.8"/><circle cx="141.3" cy="356.0" r="1.8"/><circle cx="141.3" cy="356.5" r="1.8"/><circle cx="141.3" cy="358.9" r="1.8"/><circle cx="143.8" cy="360.2" r="1.8"/><circle cx="141.5" cy="359.4" r="1.8"/><circle cx="142.8" cy="359.9" r="1.8"/><circle cx="142.8" cy="357.3" r="1.8"/><circle cx="140.9" cy="360.2" r="1.8"/><circle cx="141.3" cy="359.3" r="1.8"/><circle cx="140.5" cy="359.3" r="1.8"/><circle cx="141.5" cy="357.2" r="1.8"/><circle cx="142.7" cy="363.8" r="1.8"/><circle cx="140.6" cy="362.0" r="1.8"/><circle cx="143.8" cy="363.7" r="1.8"/><circle cx="141.0" cy="363.2" r="1.8"/><circle cx="141.8" cy="361.6" r="1.8"/><circle cx="141.9" cy="363.1" r="1.8"/><circle cx="141.7" cy="366.3" r="1.8"/><circle cx="142.1" cy="368.8" r="1.8"/><circle cx="141.5" cy="365.9" r="1.8"/><circle cx="142.0" cy="366.3" r="1.8"/><circle cx="141.9" cy="367.1" r="1.8"/><circle cx="140.8" cy="368.0" r="1.8"/><circle cx="142.8" cy="368.0" r="1.8"/><circle cx="142.1" cy="365.7" r="1.8"/><circle cx="143.3" cy="368.5" r="1.8"/><circle cx="143.9" cy="367.9" r="1.8"/><circle cx="140.8" cy="366.2" r="1.8"/><circle cx="142.8" cy="369.0" r="1.8"/><circle cx="141.5" cy="371.9" r="1.8"/><circle cx="142.2" cy="372.0" r="1.8"/><circle cx="141.3" cy="371.9" r="1.8"/><circle cx="140.9" cy="371.5" r="1.8"/><circle cx="143.5" cy="369.3" r="1.8"/><circle cx="142.5" cy="374.8" r="1.8"/><circle cx="143.0" cy="374.1" r="1.8"/><circle cx="142.2" cy="376.5" r="1.8"/><circle cx="141.0" cy="376.6" r="1.8"/><circle cx="140.7" cy="373.7" r="1.8"/><circle cx="141.2" cy="375.2" r="1.8"/><circle cx="141.5" cy="374.9" r="1.8"/><circle cx="140.5" cy="374.2" r="1.8"/><circle cx="142.1" cy="377.1" r="1.8"/><circle cx="143.3" cy="377.4" r="1.8"/><circle cx="143.1" cy="378.6" r="1.8"/><circle cx="141.7" cy="381.6" r="1.8"/><circle cx="143.9" cy="382.4" r="1.8"/><circle cx="140.8" cy="382.9" r="1.8"/><circle cx="141.8" cy="384.3" r="1.8"/><circle cx="140.5" cy="384.1" r="1.8"/><circle cx="140.8" cy="387.2" r="1.8"/><circle cx="142.4" cy="386.4" r="1.8"/><circle cx="143.2" cy="388.5" r="1.8"/><circle cx="142.3" cy="386.5" r="1.8"/><circle cx="142.3" cy="388.0" r="1.8"/><circle cx="141.5" cy="388.3" r="1.8"/><circle cx="142.9" cy="387.8" r="1.8"/><circle cx="142.7" cy="385.3" r="1.8"/><circle cx="142.9" cy="388.5" r="1.8"/><circle cx="141.1" cy="390.0" r="1.8"/><circle cx="141.3" cy="391.6" r="1.8"/><circle cx="141.9" cy="392.7" r="1.8"/><circle cx="143.0" cy="391.8" r="1.8"/><circle cx="143.9" cy="392.4" r="1.8"/><circle cx="140.4" cy="390.7" r="1.8"/><circle cx="140.5" cy="394.7" r="1.8"/><circle cx="141.0" cy="393.1" r="1.8"/><circle cx="141.9" cy="395.5" r="1.8"/><circle cx="142.9" cy="396.4" r="1.8"/><circle cx="141.4" cy="394.1" r="1.8"/><circle cx="143.9" cy="393.2" r="1.8"/><circle cx="143.6" cy="398.2" r="1.8"/><circle cx="144.0" cy="399.5" r="1.8"/><circle cx="143.4" cy="397.8" r="1.8"/><circle cx="142.8" cy="404.9" r="1.8"/><circle cx="141.2" cy="401.5" r="1.8"/><circle cx="141.1" cy="401.4" r="1.8"/><circle cx="142.3" cy="401.8" r="1.8"/><circle cx="143.8" cy="404.6" r="1.8"/><circle cx="143.8" cy="403.1" r="1.8"/><circle cx="142.1" cy="403.7" r="1.8"/><circle cx="141.9" cy="403.3" r="1.8"/><circle cx="140.5" cy="403.2" r="1.8"/><circle cx="143.9" cy="409.0" r="1.8"/><circle cx="143.1" cy="406.3" r="1.8"/><circle cx="141.6" cy="408.7" r="1.8"/><circle cx="144.3" cy="411.8" r="1.8"/><circle cx="142.4" cy="411.3" r="1.8"/><circle cx="143.9" cy="412.4" r="1.8"/><circle cx="140.5" cy="410.3" r="1.8"/><circle cx="140.3" cy="410.7" r="1.8"/><circle cx="141.1" cy="414.3" r="1.8"/><circle cx="141.3" cy="415.9" r="1.8"/><circle cx="143.4" cy="414.2" r="1.8"/><circle cx="143.9" cy="418.4" r="1.8"/><circle cx="140.5" cy="421.0" r="1.8"/><circle cx="144.3" cy="419.7" r="1.8"/><circle cx="140.5" cy="417.0" r="1.8"/><circle cx="143.4" cy="419.8" r="1.8"/><circle cx="143.7" cy="420.8" r="1.8"/><circle cx="142.8" cy="420.3" r="1.8"/><circle cx="142.9" cy="424.5" r="1.8"/><circle cx="142.1" cy="424.6" r="1.8"/><circle cx="143.4" cy="422.0" r="1.8"/><circle cx="142.7" cy="427.3" r="1.8"/><circle cx="141.8" cy="429.5" r="1.8"/><circle cx="143.1" cy="430.0" r="1.8"/><circle cx="140.5" cy="435.0" r="1.8"/><circle cx="142.9" cy="435.8" r="1.8"/><circle cx="142.2" cy="433.7" r="1.8"/><circle cx="143.0" cy="438.4" r="1.8"/><circle cx="142.9" cy="438.7" r="1.8"/><circle cx="141.0" cy="438.9" r="1.8"/><circle cx="141.7" cy="451.4" r="1.8"/><circle cx="142.6" cy="451.5" r="1.8"/><circle cx="142.6" cy="452.9" r="1.8"/><circle cx="143.4" cy="455.2" r="1.8"/><circle cx="144.2" cy="453.5" r="1.8"/><circle cx="142.0" cy="459.8" r="1.8"/><circle cx="147.4" cy="295.9" r="1.8"/><circle cx="144.6" cy="297.7" r="1.8"/><circle cx="146.6" cy="300.1" r="1.8"/><circle cx="145.9" cy="304.3" r="1.8"/><circle cx="147.5" cy="305.7" r="1.8"/><circle cx="144.4" cy="306.9" r="1.8"/><circle cx="146.6" cy="310.9" r="1.8"/><circle cx="144.3" cy="310.1" r="1.8"/><circle cx="145.8" cy="311.9" r="1.8"/><circle cx="148.3" cy="315.4" r="1.8"/><circle cx="146.9" cy="313.9" r="1.8"/><circle cx="148.0" cy="313.6" r="1.8"/><circle cx="147.1" cy="316.7" r="1.8"/><circle cx="147.5" cy="313.9" r="1.8"/><circle cx="148.2" cy="316.4" r="1.8"/><circle cx="148.3" cy="316.2" r="1.8"/><circle cx="146.2" cy="317.7" r="1.8"/><circle cx="147.9" cy="320.3" r="1.8"/><circle cx="145.7" cy="318.0" r="1.8"/><circle cx="145.6" cy="323.8" r="1.8"/><circle cx="144.5" cy="323.2" r="1.8"/><circle cx="148.0" cy="327.1" r="1.8"/><circle cx="145.8" cy="325.7" r="1.8"/><circle cx="144.7" cy="326.3" r="1.8"/><circle cx="144.4" cy="328.5" r="1.8"/><circle cx="147.9" cy="328.4" r="1.8"/><circle cx="146.2" cy="326.4" r="1.8"/><circle cx="145.1" cy="331.1" r="1.8"/><circle cx="146.3" cy="329.6" r="1.8"/><circle cx="146.6" cy="332.6" r="1.8"/><circle cx="147.3" cy="331.2" r="1.8"/><circle cx="145.4" cy="335.8" r="1.8"/><circle cx="145.8" cy="334.6" r="1.8"/><circle cx="148.0" cy="336.5" r="1.8"/><circle cx="148.3" cy="335.2" r="1.8"/><circle cx="145.8" cy="335.4" r="1.8"/><circle cx="145.9" cy="336.9" r="1.8"/><circle cx="145.4" cy="336.3" r="1.8"/><circle cx="147.2" cy="339.3" r="1.8"/><circle cx="145.9" cy="338.1" r="1.8"/><circle cx="144.6" cy="338.0" r="1.8"/><circle cx="146.0" cy="338.7" r="1.8"/><circle cx="144.9" cy="339.8" r="1.8"/><circle cx="144.3" cy="337.7" r="1.8"/><circle cx="145.4" cy="337.7" r="1.8"/><circle cx="147.6" cy="340.8" r="1.8"/><circle cx="146.2" cy="338.3" r="1.8"/><circle cx="147.7" cy="340.0" r="1.8"/><circle cx="146.9" cy="340.7" r="1.8"/><circle cx="144.6" cy="339.4" r="1.8"/><circle cx="145.1" cy="343.5" r="1.8"/><circle cx="148.2" cy="342.0" r="1.8"/><circle cx="147.0" cy="342.1" r="1.8"/><circle cx="145.8" cy="343.5" r="1.8"/><circle cx="147.4" cy="343.0" r="1.8"/><circle cx="148.0" cy="343.6" r="1.8"/><circle cx="144.4" cy="343.5" r="1.8"/><circle cx="144.4" cy="342.0" r="1.8"/><circle cx="146.4" cy="342.6" r="1.8"/><circle cx="147.0" cy="342.6" r="1.8"/><circle cx="147.5" cy="343.2" r="1.8"/><circle cx="145.1" cy="347.8" r="1.8"/><circle cx="146.1" cy="345.6" r="1.8"/><circle cx="146.9" cy="345.7" r="1.8"/><circle cx="145.5" cy="345.8" r="1.8"/><circle cx="147.0" cy="347.0" r="1.8"/><circle cx="144.4" cy="347.8" r="1.8"/><circle cx="145.0" cy="346.0" r="1.8"/><circle cx="144.5" cy="352.2" r="1.8"/><circle cx="146.5" cy="351.9" r="1.8"/><circle cx="144.5" cy="350.9" r="1.8"/><circle cx="145.7" cy="351.1" r="1.8"/><circle cx="147.1" cy="350.0" r="1.8"/><circle cx="147.2" cy="351.8" r="1.8"/><circle cx="144.6" cy="352.4" r="1.8"/><circle cx="146.8" cy="350.1" r="1.8"/><circle cx="147.9" cy="349.2" r="1.8"/><circle cx="146.6" cy="352.4" r="1.8"/><circle cx="147.2" cy="352.7" r="1.8"/><circle cx="146.2" cy="352.7" r="1.8"/><circle cx="146.2" cy="355.6" r="1.8"/><circle cx="147.2" cy="356.8" r="1.8"/><circle cx="145.0" cy="355.1" r="1.8"/><circle cx="146.8" cy="354.6" r="1.8"/><circle cx="148.0" cy="355.0" r="1.8"/><circle cx="144.6" cy="355.6" r="1.8"/><circle cx="147.3" cy="355.8" r="1.8"/><circle cx="146.3" cy="354.9" r="1.8"/><circle cx="147.7" cy="355.8" r="1.8"/><circle cx="147.7" cy="360.3" r="1.8"/><circle cx="145.7" cy="358.6" r="1.8"/><circle cx="147.5" cy="359.6" r="1.8"/><circle cx="146.0" cy="360.8" r="1.8"/><circle cx="146.4" cy="357.4" r="1.8"/><circle cx="145.8" cy="358.4" r="1.8"/><circle cx="144.9" cy="359.5" r="1.8"/><circle cx="146.5" cy="359.8" r="1.8"/><circle cx="147.9" cy="357.8" r="1.8"/><circle cx="145.4" cy="359.6" r="1.8"/><circle cx="147.3" cy="359.8" r="1.8"/><circle cx="144.5" cy="360.2" r="1.8"/><circle cx="145.3" cy="357.3" r="1.8"/><circle cx="148.2" cy="357.5" r="1.8"/><circle cx="148.1" cy="357.9" r="1.8"/><circle cx="145.1" cy="360.7" r="1.8"/><circle cx="144.8" cy="363.2" r="1.8"/><circle cx="147.6" cy="365.0" r="1.8"/><circle cx="147.2" cy="361.0" r="1.8"/><circle cx="147.9" cy="363.4" r="1.8"/><circle cx="144.8" cy="363.8" r="1.8"/><circle cx="148.1" cy="362.1" r="1.8"/><circle cx="146.6" cy="363.5" r="1.8"/><circle cx="146.7" cy="362.3" r="1.8"/><circle cx="146.5" cy="364.7" r="1.8"/><circle cx="146.5" cy="361.7" r="1.8"/><circle cx="146.6" cy="364.0" r="1.8"/><circle cx="144.6" cy="364.4" r="1.8"/><circle cx="147.6" cy="368.0" r="1.8"/><circle cx="145.0" cy="366.3" r="1.8"/><circle cx="144.6" cy="367.2" r="1.8"/><circle cx="146.4" cy="367.5" r="1.8"/><circle cx="147.7" cy="368.4" r="1.8"/><circle cx="145.7" cy="366.7" r="1.8"/><circle cx="144.9" cy="367.3" r="1.8"/><circle cx="145.9" cy="367.8" r="1.8"/><circle cx="145.5" cy="366.4" r="1.8"/><circle cx="144.6" cy="371.7" r="1.8"/><circle cx="147.1" cy="370.0" r="1.8"/><circle cx="146.4" cy="372.3" r="1.8"/><circle cx="147.3" cy="369.0" r="1.8"/><circle cx="145.6" cy="369.9" r="1.8"/><circle cx="147.8" cy="371.8" r="1.8"/><circle cx="147.3" cy="369.1" r="1.8"/><circle cx="147.3" cy="369.6" r="1.8"/><circle cx="145.9" cy="373.4" r="1.8"/><circle cx="147.9" cy="373.5" r="1.8"/><circle cx="144.5" cy="373.1" r="1.8"/><circle cx="147.5" cy="376.5" r="1.8"/><circle cx="145.6" cy="373.8" r="1.8"/><circle cx="145.4" cy="374.7" r="1.8"/><circle cx="146.8" cy="374.1" r="1.8"/><circle cx="147.3" cy="375.9" r="1.8"/><circle cx="148.0" cy="376.8" r="1.8"/><circle cx="144.5" cy="380.1" r="1.8"/><circle cx="145.4" cy="378.2" r="1.8"/><circle cx="146.0" cy="380.3" r="1.8"/><circle cx="147.1" cy="381.0" r="1.8"/><circle cx="144.3" cy="378.7" r="1.8"/><circle cx="146.8" cy="378.8" r="1.8"/><circle cx="145.9" cy="380.6" r="1.8"/><circle cx="146.3" cy="377.6" r="1.8"/><circle cx="148.0" cy="383.5" r="1.8"/><circle cx="147.8" cy="384.6" r="1.8"/><circle cx="146.2" cy="381.8" r="1.8"/><circle cx="145.7" cy="384.5" r="1.8"/><circle cx="146.0" cy="382.6" r="1.8"/><circle cx="145.2" cy="384.1" r="1.8"/><circle cx="144.3" cy="384.5" r="1.8"/><circle cx="144.9" cy="381.9" r="1.8"/><circle cx="146.8" cy="387.3" r="1.8"/><circle cx="144.6" cy="388.9" r="1.8"/><circle cx="146.7" cy="386.9" r="1.8"/><circle cx="145.1" cy="387.1" r="1.8"/><circle cx="147.7" cy="387.8" r="1.8"/><circle cx="144.6" cy="386.3" r="1.8"/><circle cx="145.4" cy="389.9" r="1.8"/><circle cx="145.3" cy="391.7" r="1.8"/><circle cx="145.6" cy="389.1" r="1.8"/><circle cx="144.5" cy="390.6" r="1.8"/><circle cx="146.0" cy="391.2" r="1.8"/><circle cx="145.6" cy="392.2" r="1.8"/><circle cx="144.3" cy="395.1" r="1.8"/><circle cx="145.1" cy="393.7" r="1.8"/><circle cx="145.8" cy="394.6" r="1.8"/><circle cx="147.3" cy="395.8" r="1.8"/><circle cx="147.5" cy="396.1" r="1.8"/><circle cx="145.9" cy="394.4" r="1.8"/><circle cx="145.8" cy="395.1" r="1.8"/><circle cx="146.2" cy="395.3" r="1.8"/><circle cx="148.0" cy="394.4" r="1.8"/><circle cx="144.9" cy="398.4" r="1.8"/><circle cx="145.4" cy="397.7" r="1.8"/><circle cx="148.0" cy="399.8" r="1.8"/><circle cx="148.1" cy="400.8" r="1.8"/><circle cx="145.4" cy="398.2" r="1.8"/><circle cx="148.0" cy="404.4" r="1.8"/><circle cx="146.6" cy="402.5" r="1.8"/><circle cx="146.7" cy="403.2" r="1.8"/><circle cx="147.6" cy="407.9" r="1.8"/><circle cx="145.1" cy="406.3" r="1.8"/><circle cx="146.4" cy="405.6" r="1.8"/><circle cx="145.1" cy="411.3" r="1.8"/><circle cx="146.5" cy="412.4" r="1.8"/><circle cx="147.5" cy="411.9" r="1.8"/><circle cx="146.6" cy="409.9" r="1.8"/><circle cx="146.7" cy="415.3" r="1.8"/><circle cx="147.6" cy="416.2" r="1.8"/><circle cx="147.9" cy="414.9" r="1.8"/><circle cx="147.8" cy="414.8" r="1.8"/><circle cx="146.1" cy="415.0" r="1.8"/><circle cx="146.7" cy="413.1" r="1.8"/><circle cx="145.2" cy="416.4" r="1.8"/><circle cx="144.4" cy="416.6" r="1.8"/><circle cx="145.9" cy="417.7" r="1.8"/><circle cx="145.5" cy="420.9" r="1.8"/><circle cx="146.8" cy="418.3" r="1.8"/><circle cx="144.7" cy="420.4" r="1.8"/><circle cx="148.0" cy="421.0" r="1.8"/><circle cx="144.5" cy="420.2" r="1.8"/><circle cx="145.5" cy="424.7" r="1.8"/><circle cx="144.9" cy="422.5" r="1.8"/><circle cx="147.9" cy="427.4" r="1.8"/><circle cx="146.3" cy="428.4" r="1.8"/><circle cx="146.7" cy="428.6" r="1.8"/><circle cx="146.6" cy="432.5" r="1.8"/><circle cx="147.3" cy="432.8" r="1.8"/><circle cx="145.3" cy="432.4" r="1.8"/><circle cx="144.5" cy="433.8" r="1.8"/><circle cx="144.9" cy="438.2" r="1.8"/><circle cx="145.1" cy="440.1" r="1.8"/><circle cx="148.1" cy="439.2" r="1.8"/><circle cx="146.5" cy="439.3" r="1.8"/><circle cx="145.0" cy="441.3" r="1.8"/><circle cx="147.6" cy="442.8" r="1.8"/><circle cx="145.0" cy="441.2" r="1.8"/><circle cx="144.4" cy="442.7" r="1.8"/><circle cx="146.6" cy="444.7" r="1.8"/><circle cx="144.9" cy="446.8" r="1.8"/><circle cx="146.7" cy="447.7" r="1.8"/><circle cx="148.0" cy="446.4" r="1.8"/><circle cx="145.4" cy="449.8" r="1.8"/><circle cx="146.2" cy="455.6" r="1.8"/><circle cx="145.2" cy="455.1" r="1.8"/><circle cx="144.5" cy="455.6" r="1.8"/><circle cx="146.5" cy="458.1" r="1.8"/><circle cx="145.2" cy="460.0" r="1.8"/><circle cx="150.3" cy="288.6" r="1.8"/><circle cx="148.9" cy="295.0" r="1.8"/><circle cx="150.4" cy="296.5" r="1.8"/><circle cx="149.6" cy="300.3" r="1.8"/><circle cx="150.7" cy="307.9" r="1.8"/><circle cx="151.7" cy="311.6" r="1.8"/><circle cx="150.4" cy="316.6" r="1.8"/><circle cx="149.4" cy="316.1" r="1.8"/><circle cx="149.3" cy="314.0" r="1.8"/><circle cx="148.5" cy="314.6" r="1.8"/><circle cx="149.6" cy="319.1" r="1.8"/><circle cx="148.4" cy="318.1" r="1.8"/><circle cx="151.6" cy="317.4" r="1.8"/><circle cx="150.6" cy="322.4" r="1.8"/><circle cx="151.5" cy="323.2" r="1.8"/><circle cx="152.0" cy="322.4" r="1.8"/><circle cx="150.1" cy="324.3" r="1.8"/><circle cx="148.3" cy="329.0" r="1.8"/><circle cx="151.9" cy="327.6" r="1.8"/><circle cx="152.2" cy="325.6" r="1.8"/><circle cx="149.5" cy="326.6" r="1.8"/><circle cx="149.0" cy="325.7" r="1.8"/><circle cx="151.7" cy="327.0" r="1.8"/><circle cx="149.9" cy="326.6" r="1.8"/><circle cx="151.1" cy="327.8" r="1.8"/><circle cx="149.9" cy="325.4" r="1.8"/><circle cx="148.9" cy="332.7" r="1.8"/><circle cx="152.2" cy="330.5" r="1.8"/><circle cx="150.1" cy="330.1" r="1.8"/><circle cx="151.0" cy="332.6" r="1.8"/><circle cx="150.6" cy="331.8" r="1.8"/><circle cx="148.3" cy="332.4" r="1.8"/><circle cx="151.5" cy="335.5" r="1.8"/><circle cx="150.9" cy="336.6" r="1.8"/><circle cx="151.9" cy="334.3" r="1.8"/><circle cx="148.9" cy="335.8" r="1.8"/><circle cx="149.1" cy="337.1" r="1.8"/><circle cx="150.1" cy="339.8" r="1.8"/><circle cx="149.2" cy="337.5" r="1.8"/><circle cx="150.3" cy="337.9" r="1.8"/><circle cx="150.6" cy="338.7" r="1.8"/><circle cx="149.4" cy="340.3" r="1.8"/><circle cx="149.4" cy="339.2" r="1.8"/><circle cx="152.0" cy="343.6" r="1.8"/><circle cx="151.1" cy="341.2" r="1.8"/><circle cx="149.8" cy="343.4" r="1.8"/><circle cx="149.3" cy="344.0" r="1.8"/><circle cx="150.6" cy="341.8" r="1.8"/><circle cx="151.8" cy="343.6" r="1.8"/><circle cx="149.3" cy="342.4" r="1.8"/><circle cx="149.6" cy="347.0" r="1.8"/><circle cx="150.0" cy="345.6" r="1.8"/><circle cx="151.5" cy="345.5" r="1.8"/><circle cx="149.4" cy="348.0" r="1.8"/><circle cx="151.8" cy="345.4" r="1.8"/><circle cx="151.4" cy="346.0" r="1.8"/><circle cx="152.0" cy="345.4" r="1.8"/><circle cx="152.3" cy="346.1" r="1.8"/><circle cx="149.3" cy="348.3" r="1.8"/><circle cx="149.6" cy="345.6" r="1.8"/><circle cx="149.0" cy="352.7" r="1.8"/><circle cx="150.3" cy="350.1" r="1.8"/><circle cx="150.7" cy="350.6" r="1.8"/><circle cx="148.5" cy="352.8" r="1.8"/><circle cx="149.7" cy="350.9" r="1.8"/><circle cx="149.7" cy="352.2" r="1.8"/><circle cx="149.7" cy="350.3" r="1.8"/><circle cx="150.1" cy="352.9" r="1.8"/><circle cx="148.5" cy="353.7" r="1.8"/><circle cx="148.8" cy="353.9" r="1.8"/><circle cx="151.1" cy="355.2" r="1.8"/><circle cx="150.2" cy="355.2" r="1.8"/><circle cx="149.0" cy="353.7" r="1.8"/><circle cx="150.8" cy="356.9" r="1.8"/><circle cx="149.1" cy="355.1" r="1.8"/><circle cx="149.1" cy="353.2" r="1.8"/><circle cx="152.2" cy="356.1" r="1.8"/><circle cx="151.5" cy="355.6" r="1.8"/><circle cx="148.6" cy="354.4" r="1.8"/><circle cx="152.2" cy="354.9" r="1.8"/><circle cx="151.1" cy="356.8" r="1.8"/><circle cx="149.8" cy="358.8" r="1.8"/><circle cx="149.2" cy="360.6" r="1.8"/><circle cx="150.9" cy="360.8" r="1.8"/><circle cx="150.8" cy="357.8" r="1.8"/><circle cx="148.6" cy="358.2" r="1.8"/><circle cx="150.5" cy="360.5" r="1.8"/><circle cx="151.6" cy="360.7" r="1.8"/><circle cx="151.3" cy="359.1" r="1.8"/><circle cx="148.8" cy="361.1" r="1.8"/><circle cx="150.1" cy="362.0" r="1.8"/><circle cx="151.7" cy="361.3" r="1.8"/><circle cx="150.3" cy="362.9" r="1.8"/><circle cx="151.0" cy="361.8" r="1.8"/><circle cx="150.2" cy="368.4" r="1.8"/><circle cx="148.7" cy="368.4" r="1.8"/><circle cx="151.0" cy="368.0" r="1.8"/><circle cx="151.3" cy="365.1" r="1.8"/><circle cx="149.9" cy="368.3" r="1.8"/><circle cx="151.1" cy="368.0" r="1.8"/><circle cx="148.9" cy="372.2" r="1.8"/><circle cx="149.4" cy="370.6" r="1.8"/><circle cx="151.4" cy="371.7" r="1.8"/><circle cx="148.5" cy="370.6" r="1.8"/><circle cx="149.2" cy="370.8" r="1.8"/><circle cx="149.9" cy="370.5" r="1.8"/><circle cx="151.4" cy="370.9" r="1.8"/><circle cx="150.8" cy="369.8" r="1.8"/><circle cx="149.5" cy="370.9" r="1.8"/><circle cx="152.2" cy="376.6" r="1.8"/><circle cx="150.9" cy="375.1" r="1.8"/><circle cx="151.8" cy="375.7" r="1.8"/><circle cx="150.7" cy="373.2" r="1.8"/><circle cx="150.4" cy="376.4" r="1.8"/><circle cx="150.0" cy="376.8" r="1.8"/><circle cx="149.8" cy="374.7" r="1.8"/><circle cx="151.5" cy="374.7" r="1.8"/><circle cx="149.1" cy="375.5" r="1.8"/><circle cx="149.9" cy="377.1" r="1.8"/><circle cx="151.7" cy="380.4" r="1.8"/><circle cx="148.6" cy="378.4" r="1.8"/><circle cx="149.3" cy="379.6" r="1.8"/><circle cx="149.6" cy="383.3" r="1.8"/><circle cx="148.5" cy="383.1" r="1.8"/><circle cx="148.7" cy="383.4" r="1.8"/><circle cx="152.1" cy="381.1" r="1.8"/><circle cx="149.6" cy="381.1" r="1.8"/><circle cx="149.7" cy="382.4" r="1.8"/><circle cx="148.3" cy="381.6" r="1.8"/><circle cx="150.8" cy="382.9" r="1.8"/><circle cx="151.0" cy="382.4" r="1.8"/><circle cx="151.2" cy="383.6" r="1.8"/><circle cx="151.4" cy="382.2" r="1.8"/><circle cx="151.6" cy="388.7" r="1.8"/><circle cx="151.3" cy="386.1" r="1.8"/><circle cx="149.9" cy="388.0" r="1.8"/><circle cx="149.9" cy="391.2" r="1.8"/><circle cx="151.2" cy="390.5" r="1.8"/><circle cx="152.2" cy="389.6" r="1.8"/><circle cx="149.9" cy="389.8" r="1.8"/><circle cx="149.0" cy="392.4" r="1.8"/><circle cx="152.0" cy="392.8" r="1.8"/><circle cx="150.5" cy="389.2" r="1.8"/><circle cx="148.5" cy="390.0" r="1.8"/><circle cx="151.4" cy="395.9" r="1.8"/><circle cx="150.6" cy="395.2" r="1.8"/><circle cx="151.1" cy="393.7" r="1.8"/><circle cx="149.7" cy="394.6" r="1.8"/><circle cx="151.8" cy="397.3" r="1.8"/><circle cx="149.8" cy="397.8" r="1.8"/><circle cx="151.4" cy="397.7" r="1.8"/><circle cx="151.3" cy="403.9" r="1.8"/><circle cx="151.8" cy="402.4" r="1.8"/><circle cx="150.9" cy="408.7" r="1.8"/><circle cx="149.5" cy="407.2" r="1.8"/><circle cx="150.6" cy="405.3" r="1.8"/><circle cx="150.8" cy="408.1" r="1.8"/><circle cx="149.7" cy="410.7" r="1.8"/><circle cx="151.9" cy="415.2" r="1.8"/><circle cx="150.0" cy="416.1" r="1.8"/><circle cx="149.9" cy="418.6" r="1.8"/><circle cx="152.0" cy="417.6" r="1.8"/><circle cx="151.0" cy="422.0" r="1.8"/><circle cx="151.3" cy="422.8" r="1.8"/><circle cx="149.3" cy="421.6" r="1.8"/><circle cx="151.3" cy="424.7" r="1.8"/><circle cx="148.4" cy="425.4" r="1.8"/><circle cx="150.8" cy="428.8" r="1.8"/><circle cx="150.2" cy="428.7" r="1.8"/><circle cx="149.1" cy="427.8" r="1.8"/><circle cx="150.9" cy="425.5" r="1.8"/><circle cx="149.5" cy="427.9" r="1.8"/><circle cx="151.6" cy="432.4" r="1.8"/><circle cx="150.9" cy="433.0" r="1.8"/><circle cx="150.9" cy="432.5" r="1.8"/><circle cx="150.4" cy="432.3" r="1.8"/><circle cx="149.7" cy="430.7" r="1.8"/><circle cx="149.4" cy="434.3" r="1.8"/><circle cx="150.2" cy="436.3" r="1.8"/><circle cx="151.8" cy="435.5" r="1.8"/><circle cx="148.6" cy="434.6" r="1.8"/><circle cx="151.1" cy="436.5" r="1.8"/><circle cx="148.9" cy="436.5" r="1.8"/><circle cx="151.5" cy="436.2" r="1.8"/><circle cx="151.4" cy="439.8" r="1.8"/><circle cx="148.4" cy="437.5" r="1.8"/><circle cx="151.8" cy="437.2" r="1.8"/><circle cx="150.0" cy="439.2" r="1.8"/><circle cx="151.7" cy="437.9" r="1.8"/><circle cx="149.6" cy="440.4" r="1.8"/><circle cx="150.0" cy="440.0" r="1.8"/><circle cx="150.3" cy="444.8" r="1.8"/><circle cx="149.1" cy="447.5" r="1.8"/><circle cx="148.9" cy="446.3" r="1.8"/><circle cx="148.9" cy="452.7" r="1.8"/><circle cx="151.2" cy="450.5" r="1.8"/><circle cx="148.6" cy="458.0" r="1.8"/><circle cx="153.2" cy="289.9" r="1.8"/><circle cx="153.0" cy="291.9" r="1.8"/><circle cx="154.0" cy="294.6" r="1.8"/><circle cx="154.3" cy="300.0" r="1.8"/><circle cx="156.2" cy="300.8" r="1.8"/><circle cx="154.4" cy="300.4" r="1.8"/><circle cx="154.6" cy="308.7" r="1.8"/><circle cx="153.6" cy="306.6" r="1.8"/><circle cx="154.1" cy="312.2" r="1.8"/><circle cx="154.4" cy="310.4" r="1.8"/><circle cx="152.7" cy="311.7" r="1.8"/><circle cx="154.7" cy="309.5" r="1.8"/><circle cx="155.1" cy="318.3" r="1.8"/><circle cx="155.1" cy="319.7" r="1.8"/><circle cx="155.5" cy="318.1" r="1.8"/><circle cx="154.0" cy="318.7" r="1.8"/><circle cx="153.2" cy="322.7" r="1.8"/><circle cx="153.2" cy="323.3" r="1.8"/><circle cx="155.8" cy="327.1" r="1.8"/><circle cx="154.5" cy="325.1" r="1.8"/><circle cx="154.3" cy="326.8" r="1.8"/><circle cx="152.6" cy="326.7" r="1.8"/><circle cx="154.2" cy="326.9" r="1.8"/><circle cx="156.3" cy="325.3" r="1.8"/><circle cx="153.5" cy="331.4" r="1.8"/><circle cx="155.1" cy="331.4" r="1.8"/><circle cx="153.4" cy="331.7" r="1.8"/><circle cx="154.2" cy="330.9" r="1.8"/><circle cx="156.0" cy="330.1" r="1.8"/><circle cx="155.7" cy="331.8" r="1.8"/><circle cx="155.1" cy="333.1" r="1.8"/><circle cx="154.2" cy="333.4" r="1.8"/><circle cx="155.0" cy="334.2" r="1.8"/><circle cx="154.8" cy="334.5" r="1.8"/><circle cx="155.6" cy="333.1" r="1.8"/><circle cx="156.2" cy="335.8" r="1.8"/><circle cx="154.2" cy="340.6" r="1.8"/><circle cx="153.2" cy="344.1" r="1.8"/><circle cx="154.6" cy="344.5" r="1.8"/><circle cx="155.6" cy="341.1" r="1.8"/><circle cx="154.7" cy="345.8" r="1.8"/><circle cx="152.7" cy="347.9" r="1.8"/><circle cx="154.2" cy="345.7" r="1.8"/><circle cx="156.2" cy="345.1" r="1.8"/><circle cx="155.0" cy="348.6" r="1.8"/><circle cx="155.3" cy="346.9" r="1.8"/><circle cx="153.3" cy="347.6" r="1.8"/><circle cx="152.9" cy="348.8" r="1.8"/><circle cx="154.4" cy="346.6" r="1.8"/><circle cx="154.1" cy="348.9" r="1.8"/><circle cx="152.8" cy="347.9" r="1.8"/><circle cx="152.9" cy="346.0" r="1.8"/><circle cx="153.3" cy="347.7" r="1.8"/><circle cx="154.8" cy="346.1" r="1.8"/><circle cx="154.4" cy="348.3" r="1.8"/><circle cx="155.3" cy="351.6" r="1.8"/><circle cx="156.1" cy="352.5" r="1.8"/><circle cx="154.9" cy="350.7" r="1.8"/><circle cx="154.0" cy="352.8" r="1.8"/><circle cx="153.3" cy="350.0" r="1.8"/><circle cx="152.4" cy="349.3" r="1.8"/><circle cx="155.6" cy="350.2" r="1.8"/><circle cx="153.8" cy="352.8" r="1.8"/><circle cx="153.3" cy="352.5" r="1.8"/><circle cx="153.7" cy="352.4" r="1.8"/><circle cx="156.1" cy="351.1" r="1.8"/><circle cx="155.9" cy="350.3" r="1.8"/><circle cx="153.0" cy="353.6" r="1.8"/><circle cx="155.5" cy="355.2" r="1.8"/><circle cx="155.6" cy="353.3" r="1.8"/><circle cx="153.0" cy="355.9" r="1.8"/><circle cx="154.4" cy="353.6" r="1.8"/><circle cx="155.1" cy="355.2" r="1.8"/><circle cx="153.3" cy="354.0" r="1.8"/><circle cx="154.8" cy="357.0" r="1.8"/><circle cx="153.7" cy="353.9" r="1.8"/><circle cx="154.9" cy="355.8" r="1.8"/><circle cx="155.0" cy="354.7" r="1.8"/><circle cx="155.6" cy="354.1" r="1.8"/><circle cx="155.7" cy="356.7" r="1.8"/><circle cx="156.2" cy="355.1" r="1.8"/><circle cx="153.2" cy="355.7" r="1.8"/><circle cx="154.6" cy="361.0" r="1.8"/><circle cx="155.8" cy="358.7" r="1.8"/><circle cx="154.3" cy="357.5" r="1.8"/><circle cx="154.6" cy="357.8" r="1.8"/><circle cx="152.6" cy="358.9" r="1.8"/><circle cx="152.5" cy="358.4" r="1.8"/><circle cx="154.5" cy="360.3" r="1.8"/><circle cx="155.9" cy="362.7" r="1.8"/><circle cx="154.7" cy="363.2" r="1.8"/><circle cx="154.5" cy="361.2" r="1.8"/><circle cx="152.4" cy="362.2" r="1.8"/><circle cx="155.8" cy="361.1" r="1.8"/><circle cx="154.6" cy="361.6" r="1.8"/><circle cx="152.3" cy="361.6" r="1.8"/><circle cx="153.1" cy="368.3" r="1.8"/><circle cx="153.2" cy="366.4" r="1.8"/><circle cx="155.3" cy="367.3" r="1.8"/><circle cx="153.8" cy="365.8" r="1.8"/><circle cx="152.5" cy="366.7" r="1.8"/><circle cx="154.8" cy="368.1" r="1.8"/><circle cx="152.7" cy="366.6" r="1.8"/><circle cx="152.9" cy="368.5" r="1.8"/><circle cx="152.5" cy="371.3" r="1.8"/><circle cx="154.4" cy="372.4" r="1.8"/><circle cx="155.7" cy="371.6" r="1.8"/><circle cx="154.1" cy="369.5" r="1.8"/><circle cx="153.5" cy="372.4" r="1.8"/><circle cx="153.7" cy="374.1" r="1.8"/><circle cx="153.3" cy="373.1" r="1.8"/><circle cx="153.9" cy="374.6" r="1.8"/><circle cx="155.8" cy="375.9" r="1.8"/><circle cx="154.5" cy="376.8" r="1.8"/><circle cx="153.1" cy="375.1" r="1.8"/><circle cx="156.2" cy="373.1" r="1.8"/><circle cx="153.0" cy="373.6" r="1.8"/><circle cx="153.0" cy="374.9" r="1.8"/><circle cx="154.8" cy="376.9" r="1.8"/><circle cx="154.4" cy="380.6" r="1.8"/><circle cx="153.6" cy="380.7" r="1.8"/><circle cx="154.8" cy="378.0" r="1.8"/><circle cx="153.0" cy="379.4" r="1.8"/><circle cx="154.8" cy="379.3" r="1.8"/><circle cx="153.3" cy="378.7" r="1.8"/><circle cx="155.1" cy="378.8" r="1.8"/><circle cx="154.4" cy="384.0" r="1.8"/><circle cx="154.6" cy="381.6" r="1.8"/><circle cx="154.4" cy="384.9" r="1.8"/><circle cx="154.2" cy="381.3" r="1.8"/><circle cx="153.2" cy="385.9" r="1.8"/><circle cx="154.6" cy="388.0" r="1.8"/><circle cx="153.6" cy="388.7" r="1.8"/><circle cx="154.5" cy="386.9" r="1.8"/><circle cx="154.8" cy="387.2" r="1.8"/><circle cx="155.3" cy="388.7" r="1.8"/><circle cx="155.2" cy="389.2" r="1.8"/><circle cx="153.0" cy="390.5" r="1.8"/><circle cx="153.1" cy="391.6" r="1.8"/><circle cx="154.5" cy="393.5" r="1.8"/><circle cx="153.5" cy="394.6" r="1.8"/><circle cx="155.4" cy="395.9" r="1.8"/><circle cx="155.8" cy="400.0" r="1.8"/><circle cx="154.2" cy="398.5" r="1.8"/><circle cx="154.0" cy="398.2" r="1.8"/><circle cx="154.4" cy="397.1" r="1.8"/><circle cx="154.2" cy="401.9" r="1.8"/><circle cx="153.0" cy="401.8" r="1.8"/><circle cx="153.1" cy="402.5" r="1.8"/><circle cx="155.7" cy="404.8" r="1.8"/><circle cx="153.7" cy="408.2" r="1.8"/><circle cx="153.6" cy="408.1" r="1.8"/><circle cx="154.3" cy="405.1" r="1.8"/><circle cx="153.5" cy="409.8" r="1.8"/><circle cx="155.4" cy="409.2" r="1.8"/><circle cx="155.6" cy="411.2" r="1.8"/><circle cx="156.2" cy="415.1" r="1.8"/><circle cx="152.4" cy="413.9" r="1.8"/><circle cx="152.9" cy="415.0" r="1.8"/><circle cx="153.1" cy="415.6" r="1.8"/><circle cx="155.5" cy="415.8" r="1.8"/><circle cx="152.4" cy="420.3" r="1.8"/><circle cx="154.9" cy="418.9" r="1.8"/><circle cx="155.6" cy="420.7" r="1.8"/><circle cx="153.0" cy="418.7" r="1.8"/><circle cx="154.2" cy="424.4" r="1.8"/><circle cx="155.6" cy="427.7" r="1.8"/><circle cx="155.3" cy="425.4" r="1.8"/><circle cx="153.3" cy="428.5" r="1.8"/><circle cx="154.1" cy="430.5" r="1.8"/><circle cx="152.6" cy="431.1" r="1.8"/><circle cx="155.6" cy="433.7" r="1.8"/><circle cx="155.4" cy="441.4" r="1.8"/><circle cx="155.5" cy="442.5" r="1.8"/><circle cx="153.3" cy="444.7" r="1.8"/><circle cx="154.0" cy="443.5" r="1.8"/><circle cx="153.9" cy="444.5" r="1.8"/><circle cx="152.9" cy="447.2" r="1.8"/><circle cx="155.2" cy="446.0" r="1.8"/><circle cx="155.4" cy="447.8" r="1.8"/><circle cx="155.2" cy="447.3" r="1.8"/><circle cx="154.2" cy="447.3" r="1.8"/><circle cx="154.2" cy="447.2" r="1.8"/><circle cx="153.7" cy="451.2" r="1.8"/><circle cx="152.5" cy="453.8" r="1.8"/><circle cx="158.9" cy="296.7" r="1.8"/><circle cx="156.8" cy="298.1" r="1.8"/><circle cx="157.8" cy="306.6" r="1.8"/><circle cx="158.5" cy="308.1" r="1.8"/><circle cx="159.0" cy="306.7" r="1.8"/><circle cx="159.0" cy="308.8" r="1.8"/><circle cx="156.6" cy="305.5" r="1.8"/><circle cx="157.6" cy="305.7" r="1.8"/><circle cx="159.5" cy="308.3" r="1.8"/><circle cx="158.1" cy="309.8" r="1.8"/><circle cx="160.2" cy="313.5" r="1.8"/><circle cx="157.6" cy="315.4" r="1.8"/><circle cx="158.3" cy="313.1" r="1.8"/><circle cx="157.5" cy="315.7" r="1.8"/><circle cx="157.6" cy="313.2" r="1.8"/><circle cx="157.0" cy="321.0" r="1.8"/><circle cx="158.6" cy="318.9" r="1.8"/><circle cx="158.4" cy="322.0" r="1.8"/><circle cx="158.9" cy="322.5" r="1.8"/><circle cx="156.5" cy="323.0" r="1.8"/><circle cx="156.8" cy="324.0" r="1.8"/><circle cx="159.1" cy="325.0" r="1.8"/><circle cx="159.5" cy="328.9" r="1.8"/><circle cx="159.6" cy="327.8" r="1.8"/><circle cx="158.7" cy="326.8" r="1.8"/><circle cx="156.6" cy="330.2" r="1.8"/><circle cx="160.1" cy="331.5" r="1.8"/><circle cx="160.0" cy="331.9" r="1.8"/><circle cx="159.4" cy="331.0" r="1.8"/><circle cx="156.4" cy="334.7" r="1.8"/><circle cx="156.5" cy="333.7" r="1.8"/><circle cx="157.4" cy="340.6" r="1.8"/><circle cx="157.0" cy="337.2" r="1.8"/><circle cx="158.0" cy="339.8" r="1.8"/><circle cx="159.1" cy="337.4" r="1.8"/><circle cx="158.0" cy="339.2" r="1.8"/><circle cx="159.2" cy="339.8" r="1.8"/><circle cx="159.0" cy="341.1" r="1.8"/><circle cx="157.2" cy="345.0" r="1.8"/><circle cx="159.7" cy="343.0" r="1.8"/><circle cx="156.7" cy="342.5" r="1.8"/><circle cx="157.1" cy="342.0" r="1.8"/><circle cx="158.8" cy="348.6" r="1.8"/><circle cx="158.6" cy="346.5" r="1.8"/><circle cx="157.5" cy="348.0" r="1.8"/><circle cx="159.0" cy="347.6" r="1.8"/><circle cx="158.9" cy="347.5" r="1.8"/><circle cx="158.3" cy="348.9" r="1.8"/><circle cx="156.7" cy="345.2" r="1.8"/><circle cx="158.3" cy="348.7" r="1.8"/><circle cx="158.9" cy="351.5" r="1.8"/><circle cx="159.9" cy="352.5" r="1.8"/><circle cx="158.9" cy="351.3" r="1.8"/><circle cx="159.3" cy="349.8" r="1.8"/><circle cx="156.4" cy="351.7" r="1.8"/><circle cx="157.9" cy="350.6" r="1.8"/><circle cx="156.9" cy="349.8" r="1.8"/><circle cx="158.5" cy="350.6" r="1.8"/><circle cx="160.1" cy="351.2" r="1.8"/><circle cx="157.5" cy="350.3" r="1.8"/><circle cx="156.4" cy="352.2" r="1.8"/><circle cx="156.3" cy="352.0" r="1.8"/><circle cx="156.6" cy="349.6" r="1.8"/><circle cx="156.7" cy="354.2" r="1.8"/><circle cx="156.6" cy="355.6" r="1.8"/><circle cx="158.5" cy="356.4" r="1.8"/><circle cx="156.4" cy="355.5" r="1.8"/><circle cx="156.8" cy="356.9" r="1.8"/><circle cx="156.4" cy="359.1" r="1.8"/><circle cx="160.0" cy="357.6" r="1.8"/><circle cx="157.6" cy="358.9" r="1.8"/><circle cx="158.5" cy="360.8" r="1.8"/><circle cx="157.4" cy="358.4" r="1.8"/><circle cx="159.1" cy="358.5" r="1.8"/><circle cx="158.8" cy="362.2" r="1.8"/><circle cx="158.3" cy="363.8" r="1.8"/><circle cx="156.9" cy="361.7" r="1.8"/><circle cx="157.2" cy="363.9" r="1.8"/><circle cx="158.7" cy="365.0" r="1.8"/><circle cx="157.7" cy="363.0" r="1.8"/><circle cx="159.8" cy="367.1" r="1.8"/><circle cx="159.3" cy="368.7" r="1.8"/><circle cx="159.4" cy="365.6" r="1.8"/><circle cx="157.0" cy="367.8" r="1.8"/><circle cx="158.8" cy="368.5" r="1.8"/><circle cx="159.2" cy="366.2" r="1.8"/><circle cx="158.7" cy="367.4" r="1.8"/><circle cx="160.1" cy="368.9" r="1.8"/><circle cx="157.9" cy="371.1" r="1.8"/><circle cx="159.2" cy="369.7" r="1.8"/><circle cx="157.4" cy="372.1" r="1.8"/><circle cx="157.5" cy="370.4" r="1.8"/><circle cx="159.9" cy="369.1" r="1.8"/><circle cx="157.8" cy="369.7" r="1.8"/><circle cx="160.2" cy="372.7" r="1.8"/><circle cx="158.4" cy="376.0" r="1.8"/><circle cx="160.0" cy="375.7" r="1.8"/><circle cx="158.8" cy="377.0" r="1.8"/><circle cx="156.4" cy="375.9" r="1.8"/><circle cx="156.7" cy="375.2" r="1.8"/><circle cx="157.3" cy="374.5" r="1.8"/><circle cx="159.6" cy="374.3" r="1.8"/><circle cx="159.9" cy="375.5" r="1.8"/><circle cx="159.9" cy="375.5" r="1.8"/><circle cx="158.7" cy="375.2" r="1.8"/><circle cx="157.2" cy="380.6" r="1.8"/><circle cx="160.2" cy="377.7" r="1.8"/><circle cx="157.0" cy="384.2" r="1.8"/><circle cx="156.9" cy="383.4" r="1.8"/><circle cx="159.7" cy="381.9" r="1.8"/><circle cx="156.8" cy="386.7" r="1.8"/><circle cx="159.0" cy="391.6" r="1.8"/><circle cx="158.6" cy="391.5" r="1.8"/><circle cx="157.3" cy="391.9" r="1.8"/><circle cx="159.3" cy="391.4" r="1.8"/><circle cx="157.7" cy="390.4" r="1.8"/><circle cx="157.4" cy="389.2" r="1.8"/><circle cx="158.7" cy="393.1" r="1.8"/><circle cx="157.7" cy="397.0" r="1.8"/><circle cx="159.7" cy="394.6" r="1.8"/><circle cx="157.1" cy="393.3" r="1.8"/><circle cx="156.9" cy="393.9" r="1.8"/><circle cx="156.9" cy="400.1" r="1.8"/><circle cx="158.8" cy="397.4" r="1.8"/><circle cx="158.0" cy="398.2" r="1.8"/><circle cx="158.2" cy="397.9" r="1.8"/><circle cx="157.1" cy="397.0" r="1.8"/><circle cx="158.9" cy="398.2" r="1.8"/><circle cx="157.5" cy="399.5" r="1.8"/><circle cx="157.2" cy="404.2" r="1.8"/><circle cx="157.9" cy="401.6" r="1.8"/><circle cx="159.5" cy="401.3" r="1.8"/><circle cx="157.5" cy="408.4" r="1.8"/><circle cx="157.8" cy="405.4" r="1.8"/><circle cx="160.0" cy="408.2" r="1.8"/><circle cx="157.6" cy="406.7" r="1.8"/><circle cx="159.5" cy="412.0" r="1.8"/><circle cx="159.0" cy="413.4" r="1.8"/><circle cx="159.3" cy="414.4" r="1.8"/><circle cx="157.6" cy="421.4" r="1.8"/><circle cx="157.8" cy="421.4" r="1.8"/><circle cx="158.2" cy="430.9" r="1.8"/><circle cx="159.9" cy="431.1" r="1.8"/><circle cx="157.9" cy="430.2" r="1.8"/><circle cx="158.3" cy="431.4" r="1.8"/><circle cx="158.1" cy="433.4" r="1.8"/><circle cx="157.8" cy="436.4" r="1.8"/><circle cx="156.5" cy="437.1" r="1.8"/><circle cx="158.7" cy="439.3" r="1.8"/><circle cx="159.6" cy="440.0" r="1.8"/><circle cx="159.3" cy="442.0" r="1.8"/><circle cx="157.7" cy="448.6" r="1.8"/><circle cx="156.8" cy="447.0" r="1.8"/><circle cx="158.0" cy="448.7" r="1.8"/><circle cx="158.1" cy="454.4" r="1.8"/><circle cx="163.2" cy="288.5" r="1.8"/><circle cx="161.3" cy="293.4" r="1.8"/><circle cx="161.0" cy="294.1" r="1.8"/><circle cx="162.5" cy="293.4" r="1.8"/><circle cx="160.4" cy="299.3" r="1.8"/><circle cx="163.5" cy="300.4" r="1.8"/><circle cx="161.9" cy="305.0" r="1.8"/><circle cx="161.0" cy="304.3" r="1.8"/><circle cx="163.4" cy="307.9" r="1.8"/><circle cx="162.4" cy="305.0" r="1.8"/><circle cx="162.1" cy="306.0" r="1.8"/><circle cx="163.8" cy="313.6" r="1.8"/><circle cx="162.5" cy="314.4" r="1.8"/><circle cx="160.4" cy="313.4" r="1.8"/><circle cx="161.1" cy="320.3" r="1.8"/><circle cx="162.9" cy="319.7" r="1.8"/><circle cx="163.7" cy="321.0" r="1.8"/><circle cx="160.5" cy="323.1" r="1.8"/><circle cx="160.6" cy="322.3" r="1.8"/><circle cx="162.8" cy="325.8" r="1.8"/><circle cx="161.9" cy="326.2" r="1.8"/><circle cx="160.3" cy="328.9" r="1.8"/><circle cx="163.1" cy="328.2" r="1.8"/><circle cx="160.3" cy="327.7" r="1.8"/><circle cx="163.1" cy="330.7" r="1.8"/><circle cx="161.7" cy="332.7" r="1.8"/><circle cx="161.5" cy="333.0" r="1.8"/><circle cx="163.0" cy="333.8" r="1.8"/><circle cx="162.3" cy="334.2" r="1.8"/><circle cx="163.3" cy="338.4" r="1.8"/><circle cx="163.4" cy="338.2" r="1.8"/><circle cx="160.7" cy="340.6" r="1.8"/><circle cx="163.3" cy="340.9" r="1.8"/><circle cx="164.3" cy="337.7" r="1.8"/><circle cx="160.6" cy="338.0" r="1.8"/><circle cx="161.4" cy="340.1" r="1.8"/><circle cx="163.8" cy="344.9" r="1.8"/><circle cx="163.2" cy="344.1" r="1.8"/><circle cx="161.0" cy="342.5" r="1.8"/><circle cx="164.3" cy="342.4" r="1.8"/><circle cx="163.5" cy="342.9" r="1.8"/><circle cx="163.7" cy="344.8" r="1.8"/><circle cx="163.7" cy="344.7" r="1.8"/><circle cx="161.8" cy="341.5" r="1.8"/><circle cx="162.8" cy="348.9" r="1.8"/><circle cx="161.8" cy="345.1" r="1.8"/><circle cx="161.9" cy="347.3" r="1.8"/><circle cx="161.3" cy="348.6" r="1.8"/><circle cx="160.3" cy="346.2" r="1.8"/><circle cx="163.5" cy="346.0" r="1.8"/><circle cx="161.0" cy="346.2" r="1.8"/><circle cx="161.1" cy="347.9" r="1.8"/><circle cx="163.8" cy="345.9" r="1.8"/><circle cx="163.7" cy="348.4" r="1.8"/><circle cx="161.9" cy="346.6" r="1.8"/><circle cx="163.8" cy="346.1" r="1.8"/><circle cx="163.0" cy="348.8" r="1.8"/><circle cx="162.6" cy="346.0" r="1.8"/><circle cx="162.5" cy="347.3" r="1.8"/><circle cx="162.2" cy="345.8" r="1.8"/><circle cx="163.0" cy="350.1" r="1.8"/><circle cx="161.5" cy="349.2" r="1.8"/><circle cx="162.0" cy="356.0" r="1.8"/><circle cx="164.2" cy="355.0" r="1.8"/><circle cx="161.6" cy="353.7" r="1.8"/><circle cx="163.3" cy="353.8" r="1.8"/><circle cx="161.0" cy="355.4" r="1.8"/><circle cx="162.3" cy="353.2" r="1.8"/><circle cx="164.0" cy="362.7" r="1.8"/><circle cx="162.6" cy="364.0" r="1.8"/><circle cx="160.8" cy="361.7" r="1.8"/><circle cx="163.7" cy="362.0" r="1.8"/><circle cx="164.1" cy="367.6" r="1.8"/><circle cx="161.2" cy="366.6" r="1.8"/><circle cx="160.8" cy="365.0" r="1.8"/><circle cx="162.4" cy="366.6" r="1.8"/><circle cx="161.7" cy="368.3" r="1.8"/><circle cx="163.4" cy="368.4" r="1.8"/><circle cx="163.0" cy="368.7" r="1.8"/><circle cx="162.1" cy="370.1" r="1.8"/><circle cx="161.8" cy="371.8" r="1.8"/><circle cx="160.4" cy="371.7" r="1.8"/><circle cx="161.8" cy="369.2" r="1.8"/><circle cx="162.3" cy="372.0" r="1.8"/><circle cx="163.0" cy="373.7" r="1.8"/><circle cx="162.0" cy="375.6" r="1.8"/><circle cx="161.5" cy="373.3" r="1.8"/><circle cx="163.4" cy="375.9" r="1.8"/><circle cx="161.2" cy="374.4" r="1.8"/><circle cx="161.1" cy="375.1" r="1.8"/><circle cx="163.1" cy="378.4" r="1.8"/><circle cx="160.4" cy="378.4" r="1.8"/><circle cx="163.9" cy="379.5" r="1.8"/><circle cx="162.0" cy="377.2" r="1.8"/><circle cx="163.3" cy="379.2" r="1.8"/><circle cx="160.9" cy="379.6" r="1.8"/><circle cx="160.9" cy="381.5" r="1.8"/><circle cx="160.7" cy="384.6" r="1.8"/><circle cx="164.2" cy="381.2" r="1.8"/><circle cx="162.1" cy="383.4" r="1.8"/><circle cx="162.5" cy="383.4" r="1.8"/><circle cx="163.0" cy="381.8" r="1.8"/><circle cx="160.3" cy="383.8" r="1.8"/><circle cx="162.1" cy="385.9" r="1.8"/><circle cx="163.2" cy="386.0" r="1.8"/><circle cx="162.5" cy="387.3" r="1.8"/><circle cx="162.6" cy="388.6" r="1.8"/><circle cx="160.7" cy="387.8" r="1.8"/><circle cx="162.2" cy="385.5" r="1.8"/><circle cx="163.6" cy="389.4" r="1.8"/><circle cx="163.2" cy="392.9" r="1.8"/><circle cx="161.2" cy="389.3" r="1.8"/><circle cx="161.7" cy="389.4" r="1.8"/><circle cx="160.5" cy="397.0" r="1.8"/><circle cx="162.7" cy="393.3" r="1.8"/><circle cx="161.3" cy="401.0" r="1.8"/><circle cx="161.3" cy="401.6" r="1.8"/><circle cx="161.2" cy="401.9" r="1.8"/><circle cx="162.2" cy="407.0" r="1.8"/><circle cx="164.2" cy="406.7" r="1.8"/><circle cx="162.0" cy="405.6" r="1.8"/><circle cx="163.9" cy="408.2" r="1.8"/><circle cx="160.3" cy="411.7" r="1.8"/><circle cx="163.3" cy="411.3" r="1.8"/><circle cx="162.5" cy="411.2" r="1.8"/><circle cx="160.5" cy="411.2" r="1.8"/><circle cx="161.3" cy="415.1" r="1.8"/><circle cx="162.7" cy="419.0" r="1.8"/><circle cx="163.4" cy="419.5" r="1.8"/><circle cx="161.7" cy="423.5" r="1.8"/><circle cx="161.6" cy="424.4" r="1.8"/><circle cx="161.4" cy="426.3" r="1.8"/><circle cx="161.3" cy="426.1" r="1.8"/><circle cx="160.7" cy="428.1" r="1.8"/><circle cx="161.8" cy="428.4" r="1.8"/><circle cx="162.9" cy="436.9" r="1.8"/><circle cx="160.9" cy="434.8" r="1.8"/><circle cx="162.6" cy="436.1" r="1.8"/><circle cx="162.6" cy="433.8" r="1.8"/><circle cx="163.8" cy="435.0" r="1.8"/><circle cx="164.2" cy="437.1" r="1.8"/><circle cx="162.2" cy="444.7" r="1.8"/><circle cx="163.6" cy="441.1" r="1.8"/><circle cx="162.0" cy="442.3" r="1.8"/><circle cx="161.7" cy="448.8" r="1.8"/><circle cx="161.3" cy="449.0" r="1.8"/><circle cx="164.6" cy="285.1" r="1.8"/><circle cx="168.2" cy="288.5" r="1.8"/><circle cx="165.6" cy="290.4" r="1.8"/><circle cx="166.2" cy="289.8" r="1.8"/><circle cx="166.4" cy="294.9" r="1.8"/><circle cx="166.3" cy="296.6" r="1.8"/><circle cx="167.7" cy="298.7" r="1.8"/><circle cx="166.7" cy="298.1" r="1.8"/><circle cx="167.8" cy="300.3" r="1.8"/><circle cx="166.2" cy="299.6" r="1.8"/><circle cx="167.8" cy="303.1" r="1.8"/><circle cx="164.6" cy="301.8" r="1.8"/><circle cx="167.3" cy="309.7" r="1.8"/><circle cx="165.8" cy="328.4" r="1.8"/><circle cx="167.7" cy="331.6" r="1.8"/><circle cx="168.0" cy="331.8" r="1.8"/><circle cx="167.2" cy="336.7" r="1.8"/><circle cx="164.9" cy="333.8" r="1.8"/><circle cx="165.6" cy="335.3" r="1.8"/><circle cx="167.8" cy="333.6" r="1.8"/><circle cx="168.1" cy="334.9" r="1.8"/><circle cx="167.9" cy="337.1" r="1.8"/><circle cx="165.5" cy="339.2" r="1.8"/><circle cx="165.7" cy="339.0" r="1.8"/><circle cx="165.7" cy="344.0" r="1.8"/><circle cx="165.3" cy="341.9" r="1.8"/><circle cx="165.1" cy="341.1" r="1.8"/><circle cx="166.6" cy="341.7" r="1.8"/><circle cx="164.9" cy="348.4" r="1.8"/><circle cx="166.8" cy="346.9" r="1.8"/><circle cx="164.8" cy="346.3" r="1.8"/><circle cx="166.8" cy="345.6" r="1.8"/><circle cx="166.5" cy="348.5" r="1.8"/><circle cx="167.9" cy="352.7" r="1.8"/><circle cx="168.0" cy="352.5" r="1.8"/><circle cx="165.3" cy="351.4" r="1.8"/><circle cx="167.3" cy="350.7" r="1.8"/><circle cx="167.1" cy="351.5" r="1.8"/><circle cx="168.0" cy="356.0" r="1.8"/><circle cx="167.0" cy="353.2" r="1.8"/><circle cx="165.3" cy="354.3" r="1.8"/><circle cx="166.1" cy="354.2" r="1.8"/><circle cx="167.5" cy="357.0" r="1.8"/><circle cx="165.9" cy="356.2" r="1.8"/><circle cx="167.9" cy="357.5" r="1.8"/><circle cx="167.9" cy="357.9" r="1.8"/><circle cx="165.2" cy="359.8" r="1.8"/><circle cx="167.0" cy="357.6" r="1.8"/><circle cx="166.7" cy="358.5" r="1.8"/><circle cx="166.7" cy="358.7" r="1.8"/><circle cx="167.6" cy="362.2" r="1.8"/><circle cx="167.0" cy="362.7" r="1.8"/><circle cx="166.3" cy="362.0" r="1.8"/><circle cx="165.5" cy="361.6" r="1.8"/><circle cx="165.1" cy="368.3" r="1.8"/><circle cx="166.0" cy="365.9" r="1.8"/><circle cx="166.5" cy="368.7" r="1.8"/><circle cx="167.8" cy="367.2" r="1.8"/><circle cx="164.7" cy="370.1" r="1.8"/><circle cx="165.5" cy="371.1" r="1.8"/><circle cx="164.5" cy="369.9" r="1.8"/><circle cx="164.3" cy="372.4" r="1.8"/><circle cx="167.3" cy="374.9" r="1.8"/><circle cx="167.1" cy="374.4" r="1.8"/><circle cx="168.0" cy="374.2" r="1.8"/><circle cx="165.6" cy="377.4" r="1.8"/><circle cx="168.0" cy="380.1" r="1.8"/><circle cx="165.3" cy="380.5" r="1.8"/><circle cx="166.6" cy="377.4" r="1.8"/><circle cx="165.6" cy="377.9" r="1.8"/><circle cx="167.4" cy="380.3" r="1.8"/><circle cx="166.8" cy="378.7" r="1.8"/><circle cx="167.7" cy="378.6" r="1.8"/><circle cx="166.9" cy="383.1" r="1.8"/><circle cx="168.0" cy="383.7" r="1.8"/><circle cx="167.7" cy="383.5" r="1.8"/><circle cx="164.6" cy="381.3" r="1.8"/><circle cx="165.3" cy="383.4" r="1.8"/><circle cx="167.8" cy="384.6" r="1.8"/><circle cx="166.4" cy="387.0" r="1.8"/><circle cx="168.0" cy="388.6" r="1.8"/><circle cx="164.5" cy="388.3" r="1.8"/><circle cx="165.7" cy="390.0" r="1.8"/><circle cx="165.2" cy="389.8" r="1.8"/><circle cx="167.0" cy="390.5" r="1.8"/><circle cx="165.3" cy="390.3" r="1.8"/><circle cx="167.7" cy="389.6" r="1.8"/><circle cx="168.3" cy="396.3" r="1.8"/><circle cx="166.8" cy="395.1" r="1.8"/><circle cx="166.8" cy="394.6" r="1.8"/><circle cx="164.7" cy="404.0" r="1.8"/><circle cx="165.2" cy="405.4" r="1.8"/><circle cx="167.2" cy="408.5" r="1.8"/><circle cx="165.2" cy="408.4" r="1.8"/><circle cx="166.0" cy="407.3" r="1.8"/><circle cx="166.6" cy="409.2" r="1.8"/><circle cx="165.1" cy="412.8" r="1.8"/><circle cx="165.0" cy="410.6" r="1.8"/><circle cx="165.1" cy="409.9" r="1.8"/><circle cx="165.9" cy="409.4" r="1.8"/><circle cx="167.3" cy="409.9" r="1.8"/><circle cx="164.9" cy="410.8" r="1.8"/><circle cx="168.2" cy="416.8" r="1.8"/><circle cx="167.0" cy="418.0" r="1.8"/><circle cx="166.5" cy="417.6" r="1.8"/><circle cx="168.1" cy="424.1" r="1.8"/><circle cx="165.1" cy="426.8" r="1.8"/><circle cx="165.3" cy="429.8" r="1.8"/><circle cx="164.6" cy="432.3" r="1.8"/><circle cx="167.8" cy="432.4" r="1.8"/><circle cx="166.7" cy="436.7" r="1.8"/><circle cx="165.1" cy="436.8" r="1.8"/><circle cx="167.2" cy="433.5" r="1.8"/><circle cx="167.5" cy="447.8" r="1.8"/><circle cx="170.2" cy="295.5" r="1.8"/><circle cx="170.5" cy="293.6" r="1.8"/><circle cx="171.5" cy="303.1" r="1.8"/><circle cx="169.3" cy="307.5" r="1.8"/><circle cx="170.9" cy="307.2" r="1.8"/><circle cx="169.3" cy="308.0" r="1.8"/><circle cx="170.9" cy="306.8" r="1.8"/><circle cx="170.5" cy="306.2" r="1.8"/><circle cx="170.3" cy="311.4" r="1.8"/><circle cx="170.3" cy="310.8" r="1.8"/><circle cx="169.8" cy="318.6" r="1.8"/><circle cx="168.5" cy="321.2" r="1.8"/><circle cx="169.2" cy="321.7" r="1.8"/><circle cx="170.2" cy="321.5" r="1.8"/><circle cx="169.1" cy="329.6" r="1.8"/><circle cx="170.5" cy="330.7" r="1.8"/><circle cx="169.6" cy="331.0" r="1.8"/><circle cx="170.0" cy="335.8" r="1.8"/><circle cx="171.5" cy="334.6" r="1.8"/><circle cx="169.4" cy="339.4" r="1.8"/><circle cx="170.2" cy="338.1" r="1.8"/><circle cx="168.4" cy="342.3" r="1.8"/><circle cx="171.5" cy="344.4" r="1.8"/><circle cx="172.0" cy="342.6" r="1.8"/><circle cx="172.0" cy="347.2" r="1.8"/><circle cx="169.8" cy="347.6" r="1.8"/><circle cx="169.2" cy="347.0" r="1.8"/><circle cx="170.1" cy="346.0" r="1.8"/><circle cx="168.4" cy="345.5" r="1.8"/><circle cx="171.5" cy="345.1" r="1.8"/><circle cx="169.6" cy="345.8" r="1.8"/><circle cx="169.0" cy="352.0" r="1.8"/><circle cx="168.5" cy="350.9" r="1.8"/><circle cx="170.2" cy="352.2" r="1.8"/><circle cx="170.8" cy="352.0" r="1.8"/><circle cx="168.6" cy="349.7" r="1.8"/><circle cx="170.6" cy="351.1" r="1.8"/><circle cx="172.0" cy="352.8" r="1.8"/><circle cx="171.3" cy="353.1" r="1.8"/><circle cx="171.6" cy="356.3" r="1.8"/><circle cx="168.7" cy="356.4" r="1.8"/><circle cx="169.0" cy="355.6" r="1.8"/><circle cx="168.5" cy="354.1" r="1.8"/><circle cx="170.6" cy="356.8" r="1.8"/><circle cx="170.8" cy="353.7" r="1.8"/><circle cx="168.5" cy="356.2" r="1.8"/><circle cx="170.7" cy="358.7" r="1.8"/><circle cx="168.4" cy="360.7" r="1.8"/><circle cx="169.8" cy="360.9" r="1.8"/><circle cx="170.2" cy="359.1" r="1.8"/><circle cx="169.5" cy="357.2" r="1.8"/><circle cx="171.4" cy="358.0" r="1.8"/><circle cx="171.6" cy="359.5" r="1.8"/><circle cx="169.5" cy="363.4" r="1.8"/><circle cx="170.5" cy="362.0" r="1.8"/><circle cx="168.5" cy="361.2" r="1.8"/><circle cx="169.7" cy="362.4" r="1.8"/><circle cx="170.0" cy="362.8" r="1.8"/><circle cx="169.6" cy="361.8" r="1.8"/><circle cx="169.2" cy="363.0" r="1.8"/><circle cx="172.1" cy="364.8" r="1.8"/><circle cx="168.4" cy="366.6" r="1.8"/><circle cx="168.6" cy="366.9" r="1.8"/><circle cx="170.7" cy="369.0" r="1.8"/><circle cx="170.1" cy="368.0" r="1.8"/><circle cx="171.3" cy="367.7" r="1.8"/><circle cx="170.5" cy="367.6" r="1.8"/><circle cx="171.7" cy="365.8" r="1.8"/><circle cx="171.3" cy="370.7" r="1.8"/><circle cx="172.1" cy="371.6" r="1.8"/><circle cx="168.6" cy="374.8" r="1.8"/><circle cx="171.2" cy="377.0" r="1.8"/><circle cx="170.6" cy="377.3" r="1.8"/><circle cx="168.9" cy="380.6" r="1.8"/><circle cx="169.5" cy="379.7" r="1.8"/><circle cx="169.6" cy="377.8" r="1.8"/><circle cx="168.3" cy="383.1" r="1.8"/><circle cx="168.7" cy="382.3" r="1.8"/><circle cx="168.6" cy="381.2" r="1.8"/><circle cx="171.4" cy="383.2" r="1.8"/><circle cx="172.0" cy="388.0" r="1.8"/><circle cx="170.8" cy="387.4" r="1.8"/><circle cx="171.7" cy="387.4" r="1.8"/><circle cx="170.8" cy="391.9" r="1.8"/><circle cx="172.1" cy="392.4" r="1.8"/><circle cx="169.6" cy="395.3" r="1.8"/><circle cx="169.2" cy="394.1" r="1.8"/><circle cx="168.5" cy="393.0" r="1.8"/><circle cx="172.3" cy="393.2" r="1.8"/><circle cx="168.8" cy="395.7" r="1.8"/><circle cx="170.5" cy="399.5" r="1.8"/><circle cx="168.7" cy="408.3" r="1.8"/><circle cx="171.0" cy="409.8" r="1.8"/><circle cx="171.1" cy="415.5" r="1.8"/><circle cx="171.7" cy="428.8" r="1.8"/><circle cx="171.3" cy="451.5" r="1.8"/><circle cx="169.6" cy="453.8" r="1.8"/><circle cx="174.8" cy="285.8" r="1.8"/><circle cx="175.0" cy="301.1" r="1.8"/><circle cx="173.3" cy="302.1" r="1.8"/><circle cx="174.1" cy="306.5" r="1.8"/><circle cx="173.4" cy="305.6" r="1.8"/><circle cx="175.7" cy="312.6" r="1.8"/><circle cx="173.5" cy="315.9" r="1.8"/><circle cx="175.8" cy="319.6" r="1.8"/><circle cx="174.1" cy="318.9" r="1.8"/><circle cx="174.1" cy="327.7" r="1.8"/><circle cx="174.2" cy="326.1" r="1.8"/><circle cx="172.9" cy="326.3" r="1.8"/><circle cx="173.8" cy="327.4" r="1.8"/><circle cx="174.7" cy="331.6" r="1.8"/><circle cx="175.2" cy="332.2" r="1.8"/><circle cx="176.1" cy="334.2" r="1.8"/><circle cx="174.6" cy="336.5" r="1.8"/><circle cx="174.9" cy="336.7" r="1.8"/><circle cx="174.9" cy="339.1" r="1.8"/><circle cx="174.0" cy="337.4" r="1.8"/><circle cx="174.9" cy="337.2" r="1.8"/><circle cx="173.0" cy="341.0" r="1.8"/><circle cx="172.5" cy="340.7" r="1.8"/><circle cx="174.3" cy="338.4" r="1.8"/><circle cx="172.9" cy="341.5" r="1.8"/><circle cx="173.0" cy="341.3" r="1.8"/><circle cx="176.3" cy="342.0" r="1.8"/><circle cx="176.1" cy="342.0" r="1.8"/><circle cx="172.9" cy="346.7" r="1.8"/><circle cx="172.6" cy="345.4" r="1.8"/><circle cx="173.8" cy="347.4" r="1.8"/><circle cx="173.3" cy="347.5" r="1.8"/><circle cx="175.3" cy="350.7" r="1.8"/><circle cx="172.7" cy="352.5" r="1.8"/><circle cx="172.8" cy="352.8" r="1.8"/><circle cx="175.5" cy="350.9" r="1.8"/><circle cx="176.2" cy="349.6" r="1.8"/><circle cx="173.5" cy="349.4" r="1.8"/><circle cx="173.0" cy="350.7" r="1.8"/><circle cx="172.6" cy="351.8" r="1.8"/><circle cx="174.1" cy="350.6" r="1.8"/><circle cx="174.0" cy="350.2" r="1.8"/><circle cx="175.6" cy="349.7" r="1.8"/><circle cx="175.1" cy="349.5" r="1.8"/><circle cx="175.4" cy="354.4" r="1.8"/><circle cx="173.1" cy="353.3" r="1.8"/><circle cx="175.8" cy="353.3" r="1.8"/><circle cx="175.7" cy="353.9" r="1.8"/><circle cx="173.6" cy="360.5" r="1.8"/><circle cx="176.2" cy="359.3" r="1.8"/><circle cx="175.0" cy="360.4" r="1.8"/><circle cx="175.2" cy="360.2" r="1.8"/><circle cx="172.4" cy="359.0" r="1.8"/><circle cx="175.9" cy="359.5" r="1.8"/><circle cx="175.2" cy="357.5" r="1.8"/><circle cx="174.9" cy="363.8" r="1.8"/><circle cx="172.8" cy="364.7" r="1.8"/><circle cx="174.9" cy="368.9" r="1.8"/><circle cx="175.3" cy="365.7" r="1.8"/><circle cx="175.5" cy="368.7" r="1.8"/><circle cx="173.0" cy="368.7" r="1.8"/><circle cx="175.9" cy="368.1" r="1.8"/><circle cx="175.9" cy="369.4" r="1.8"/><circle cx="174.9" cy="375.8" r="1.8"/><circle cx="174.3" cy="374.7" r="1.8"/><circle cx="173.5" cy="373.3" r="1.8"/><circle cx="174.0" cy="373.7" r="1.8"/><circle cx="176.2" cy="379.0" r="1.8"/><circle cx="175.3" cy="377.3" r="1.8"/><circle cx="173.1" cy="384.1" r="1.8"/><circle cx="175.9" cy="381.3" r="1.8"/><circle cx="175.3" cy="383.2" r="1.8"/><circle cx="175.6" cy="382.1" r="1.8"/><circle cx="175.5" cy="386.1" r="1.8"/><circle cx="175.5" cy="385.9" r="1.8"/><circle cx="174.8" cy="387.3" r="1.8"/><circle cx="173.1" cy="385.0" r="1.8"/><circle cx="175.9" cy="391.7" r="1.8"/><circle cx="174.3" cy="391.5" r="1.8"/><circle cx="173.0" cy="391.2" r="1.8"/><circle cx="174.1" cy="392.6" r="1.8"/><circle cx="173.6" cy="390.6" r="1.8"/><circle cx="176.0" cy="393.2" r="1.8"/><circle cx="175.7" cy="395.7" r="1.8"/><circle cx="174.6" cy="398.2" r="1.8"/><circle cx="174.9" cy="400.2" r="1.8"/><circle cx="175.1" cy="404.6" r="1.8"/><circle cx="172.6" cy="407.6" r="1.8"/><circle cx="173.6" cy="405.2" r="1.8"/><circle cx="175.2" cy="430.9" r="1.8"/><circle cx="177.8" cy="294.2" r="1.8"/><circle cx="180.3" cy="298.0" r="1.8"/><circle cx="176.9" cy="297.8" r="1.8"/><circle cx="177.0" cy="302.6" r="1.8"/><circle cx="178.6" cy="319.1" r="1.8"/><circle cx="179.3" cy="317.3" r="1.8"/><circle cx="179.4" cy="324.4" r="1.8"/><circle cx="179.1" cy="322.9" r="1.8"/><circle cx="178.0" cy="326.1" r="1.8"/><circle cx="178.7" cy="326.6" r="1.8"/><circle cx="178.4" cy="330.0" r="1.8"/><circle cx="179.6" cy="337.3" r="1.8"/><circle cx="177.8" cy="340.5" r="1.8"/><circle cx="177.3" cy="338.9" r="1.8"/><circle cx="178.8" cy="342.7" r="1.8"/><circle cx="179.0" cy="341.6" r="1.8"/><circle cx="179.2" cy="343.9" r="1.8"/><circle cx="176.8" cy="344.1" r="1.8"/><circle cx="177.4" cy="348.2" r="1.8"/><circle cx="179.7" cy="345.1" r="1.8"/><circle cx="178.5" cy="348.9" r="1.8"/><circle cx="177.8" cy="349.8" r="1.8"/><circle cx="176.3" cy="351.9" r="1.8"/><circle cx="178.6" cy="352.2" r="1.8"/><circle cx="177.1" cy="350.2" r="1.8"/><circle cx="179.0" cy="351.3" r="1.8"/><circle cx="177.8" cy="355.0" r="1.8"/><circle cx="177.2" cy="356.7" r="1.8"/><circle cx="179.1" cy="357.0" r="1.8"/><circle cx="176.7" cy="357.4" r="1.8"/><circle cx="179.0" cy="357.5" r="1.8"/><circle cx="177.6" cy="357.8" r="1.8"/><circle cx="176.6" cy="358.1" r="1.8"/><circle cx="177.1" cy="364.7" r="1.8"/><circle cx="177.6" cy="362.1" r="1.8"/><circle cx="179.6" cy="362.6" r="1.8"/><circle cx="179.2" cy="367.0" r="1.8"/><circle cx="178.1" cy="368.4" r="1.8"/><circle cx="179.7" cy="368.3" r="1.8"/><circle cx="179.9" cy="365.8" r="1.8"/><circle cx="180.2" cy="370.6" r="1.8"/><circle cx="178.0" cy="371.8" r="1.8"/><circle cx="180.3" cy="371.2" r="1.8"/><circle cx="176.6" cy="373.2" r="1.8"/><circle cx="176.6" cy="374.8" r="1.8"/><circle cx="179.9" cy="380.4" r="1.8"/><circle cx="179.8" cy="379.4" r="1.8"/><circle cx="178.0" cy="379.7" r="1.8"/><circle cx="176.5" cy="381.4" r="1.8"/><circle cx="176.3" cy="388.2" r="1.8"/><circle cx="176.5" cy="392.2" r="1.8"/><circle cx="176.3" cy="391.0" r="1.8"/><circle cx="176.6" cy="389.5" r="1.8"/><circle cx="179.3" cy="393.4" r="1.8"/><circle cx="177.4" cy="395.1" r="1.8"/><circle cx="178.7" cy="397.6" r="1.8"/><circle cx="178.2" cy="404.2" r="1.8"/><circle cx="178.9" cy="412.5" r="1.8"/><circle cx="177.1" cy="416.9" r="1.8"/><circle cx="183.2" cy="292.1" r="1.8"/><circle cx="183.2" cy="300.8" r="1.8"/><circle cx="181.9" cy="302.6" r="1.8"/><circle cx="183.4" cy="305.3" r="1.8"/><circle cx="183.9" cy="306.1" r="1.8"/><circle cx="180.5" cy="307.4" r="1.8"/><circle cx="183.6" cy="307.4" r="1.8"/><circle cx="181.3" cy="310.8" r="1.8"/><circle cx="183.4" cy="310.3" r="1.8"/><circle cx="182.6" cy="310.9" r="1.8"/><circle cx="181.0" cy="315.1" r="1.8"/><circle cx="180.4" cy="315.0" r="1.8"/><circle cx="182.5" cy="313.7" r="1.8"/><circle cx="181.2" cy="314.3" r="1.8"/><circle cx="182.1" cy="321.0" r="1.8"/><circle cx="183.0" cy="319.1" r="1.8"/><circle cx="181.6" cy="322.7" r="1.8"/><circle cx="180.4" cy="327.4" r="1.8"/><circle cx="181.4" cy="331.5" r="1.8"/><circle cx="183.7" cy="329.8" r="1.8"/><circle cx="184.2" cy="329.1" r="1.8"/><circle cx="183.8" cy="331.3" r="1.8"/><circle cx="184.3" cy="332.0" r="1.8"/><circle cx="184.0" cy="334.2" r="1.8"/><circle cx="180.9" cy="334.0" r="1.8"/><circle cx="180.8" cy="333.7" r="1.8"/><circle cx="184.2" cy="334.2" r="1.8"/><circle cx="180.7" cy="333.6" r="1.8"/><circle cx="183.2" cy="333.4" r="1.8"/><circle cx="182.9" cy="339.5" r="1.8"/><circle cx="181.4" cy="337.7" r="1.8"/><circle cx="180.6" cy="337.7" r="1.8"/><circle cx="180.6" cy="344.0" r="1.8"/><circle cx="182.6" cy="345.9" r="1.8"/><circle cx="181.4" cy="349.0" r="1.8"/><circle cx="180.3" cy="347.9" r="1.8"/><circle cx="181.6" cy="348.0" r="1.8"/><circle cx="182.8" cy="350.7" r="1.8"/><circle cx="181.4" cy="352.3" r="1.8"/><circle cx="180.8" cy="351.8" r="1.8"/><circle cx="180.6" cy="349.6" r="1.8"/><circle cx="180.4" cy="349.5" r="1.8"/><circle cx="180.9" cy="356.1" r="1.8"/><circle cx="180.7" cy="354.4" r="1.8"/><circle cx="183.2" cy="355.5" r="1.8"/><circle cx="183.4" cy="356.3" r="1.8"/><circle cx="182.9" cy="353.0" r="1.8"/><circle cx="182.4" cy="354.4" r="1.8"/><circle cx="182.8" cy="360.8" r="1.8"/><circle cx="181.0" cy="359.6" r="1.8"/><circle cx="183.4" cy="358.4" r="1.8"/><circle cx="183.8" cy="359.5" r="1.8"/><circle cx="182.4" cy="357.6" r="1.8"/><circle cx="181.1" cy="364.2" r="1.8"/><circle cx="181.4" cy="361.7" r="1.8"/><circle cx="180.5" cy="363.0" r="1.8"/><circle cx="182.4" cy="361.8" r="1.8"/><circle cx="184.1" cy="361.5" r="1.8"/><circle cx="181.5" cy="361.7" r="1.8"/><circle cx="181.7" cy="364.6" r="1.8"/><circle cx="182.8" cy="367.4" r="1.8"/><circle cx="183.2" cy="366.9" r="1.8"/><circle cx="180.9" cy="366.1" r="1.8"/><circle cx="183.6" cy="370.2" r="1.8"/><circle cx="183.9" cy="371.4" r="1.8"/><circle cx="181.5" cy="369.5" r="1.8"/><circle cx="182.2" cy="370.2" r="1.8"/><circle cx="181.2" cy="369.3" r="1.8"/><circle cx="180.7" cy="372.7" r="1.8"/><circle cx="183.6" cy="374.7" r="1.8"/><circle cx="183.8" cy="374.9" r="1.8"/><circle cx="182.4" cy="373.7" r="1.8"/><circle cx="182.1" cy="381.0" r="1.8"/><circle cx="181.1" cy="379.1" r="1.8"/><circle cx="184.1" cy="382.0" r="1.8"/><circle cx="183.6" cy="383.1" r="1.8"/><circle cx="181.5" cy="385.7" r="1.8"/><circle cx="180.5" cy="386.3" r="1.8"/><circle cx="182.7" cy="391.8" r="1.8"/><circle cx="181.0" cy="399.3" r="1.8"/><circle cx="181.9" cy="398.4" r="1.8"/><circle cx="183.3" cy="397.0" r="1.8"/><circle cx="183.3" cy="397.0" r="1.8"/><circle cx="182.0" cy="401.9" r="1.8"/><circle cx="183.2" cy="405.7" r="1.8"/><circle cx="183.8" cy="428.4" r="1.8"/><circle cx="182.9" cy="429.2" r="1.8"/><circle cx="182.0" cy="434.4" r="1.8"/><circle cx="186.2" cy="291.1" r="1.8"/><circle cx="185.6" cy="296.9" r="1.8"/><circle cx="184.6" cy="296.0" r="1.8"/><circle cx="186.0" cy="298.0" r="1.8"/><circle cx="186.7" cy="298.5" r="1.8"/><circle cx="184.6" cy="302.8" r="1.8"/><circle cx="186.0" cy="302.2" r="1.8"/><circle cx="185.8" cy="302.6" r="1.8"/><circle cx="184.5" cy="308.5" r="1.8"/><circle cx="187.3" cy="305.9" r="1.8"/><circle cx="188.0" cy="308.4" r="1.8"/><circle cx="187.5" cy="322.7" r="1.8"/><circle cx="186.3" cy="327.1" r="1.8"/><circle cx="186.4" cy="326.3" r="1.8"/><circle cx="187.2" cy="326.9" r="1.8"/><circle cx="185.6" cy="327.0" r="1.8"/><circle cx="187.2" cy="327.7" r="1.8"/><circle cx="185.7" cy="332.9" r="1.8"/><circle cx="188.0" cy="330.9" r="1.8"/><circle cx="188.2" cy="332.4" r="1.8"/><circle cx="187.3" cy="335.9" r="1.8"/><circle cx="185.7" cy="335.4" r="1.8"/><circle cx="186.8" cy="335.2" r="1.8"/><circle cx="186.3" cy="333.8" r="1.8"/><circle cx="188.1" cy="336.3" r="1.8"/><circle cx="187.7" cy="340.8" r="1.8"/><circle cx="186.8" cy="337.1" r="1.8"/><circle cx="187.0" cy="344.6" r="1.8"/><circle cx="185.0" cy="342.6" r="1.8"/><circle cx="188.0" cy="341.5" r="1.8"/><circle cx="188.1" cy="346.3" r="1.8"/><circle cx="185.0" cy="350.4" r="1.8"/><circle cx="185.1" cy="351.6" r="1.8"/><circle cx="184.9" cy="351.1" r="1.8"/><circle cx="187.0" cy="354.1" r="1.8"/><circle cx="187.7" cy="354.4" r="1.8"/><circle cx="185.0" cy="355.0" r="1.8"/><circle cx="188.3" cy="356.4" r="1.8"/><circle cx="187.6" cy="357.7" r="1.8"/><circle cx="187.0" cy="360.7" r="1.8"/><circle cx="186.4" cy="358.7" r="1.8"/><circle cx="184.8" cy="362.3" r="1.8"/><circle cx="185.6" cy="361.3" r="1.8"/><circle cx="187.8" cy="365.1" r="1.8"/><circle cx="185.3" cy="367.5" r="1.8"/><circle cx="186.3" cy="368.2" r="1.8"/><circle cx="187.2" cy="366.6" r="1.8"/><circle cx="188.1" cy="367.5" r="1.8"/><circle cx="186.3" cy="367.8" r="1.8"/><circle cx="187.8" cy="369.2" r="1.8"/><circle cx="185.5" cy="372.1" r="1.8"/><circle cx="184.9" cy="370.0" r="1.8"/><circle cx="187.1" cy="374.2" r="1.8"/><circle cx="187.3" cy="373.4" r="1.8"/><circle cx="186.5" cy="374.1" r="1.8"/><circle cx="184.3" cy="373.6" r="1.8"/><circle cx="186.3" cy="373.2" r="1.8"/><circle cx="184.4" cy="380.5" r="1.8"/><circle cx="185.0" cy="379.3" r="1.8"/><circle cx="185.4" cy="378.6" r="1.8"/><circle cx="186.7" cy="381.4" r="1.8"/><circle cx="187.5" cy="384.3" r="1.8"/><circle cx="186.7" cy="382.2" r="1.8"/><circle cx="186.5" cy="382.0" r="1.8"/><circle cx="187.2" cy="383.3" r="1.8"/><circle cx="186.5" cy="383.0" r="1.8"/><circle cx="184.7" cy="384.7" r="1.8"/><circle cx="185.7" cy="387.3" r="1.8"/><circle cx="186.6" cy="392.1" r="1.8"/><circle cx="186.4" cy="392.7" r="1.8"/><circle cx="185.1" cy="393.2" r="1.8"/><circle cx="186.6" cy="396.2" r="1.8"/><circle cx="185.9" cy="397.6" r="1.8"/><circle cx="185.3" cy="406.3" r="1.8"/><circle cx="187.1" cy="412.3" r="1.8"/><circle cx="186.5" cy="412.4" r="1.8"/><circle cx="185.9" cy="421.4" r="1.8"/><circle cx="187.4" cy="432.1" r="1.8"/><circle cx="184.5" cy="435.9" r="1.8"/><circle cx="190.4" cy="287.9" r="1.8"/><circle cx="189.9" cy="290.9" r="1.8"/><circle cx="190.9" cy="292.6" r="1.8"/><circle cx="188.8" cy="296.7" r="1.8"/><circle cx="191.5" cy="294.5" r="1.8"/><circle cx="191.4" cy="298.8" r="1.8"/><circle cx="192.2" cy="302.4" r="1.8"/><circle cx="189.9" cy="301.8" r="1.8"/><circle cx="191.5" cy="301.9" r="1.8"/><circle cx="191.4" cy="304.8" r="1.8"/><circle cx="190.5" cy="305.5" r="1.8"/><circle cx="190.0" cy="311.8" r="1.8"/><circle cx="188.9" cy="313.8" r="1.8"/><circle cx="190.6" cy="319.4" r="1.8"/><circle cx="192.1" cy="317.5" r="1.8"/><circle cx="189.5" cy="318.9" r="1.8"/><circle cx="189.0" cy="319.8" r="1.8"/><circle cx="189.2" cy="323.1" r="1.8"/><circle cx="191.9" cy="327.5" r="1.8"/><circle cx="192.0" cy="327.2" r="1.8"/><circle cx="191.1" cy="327.0" r="1.8"/><circle cx="191.2" cy="325.6" r="1.8"/><circle cx="189.1" cy="326.2" r="1.8"/><circle cx="190.0" cy="327.0" r="1.8"/><circle cx="189.4" cy="332.1" r="1.8"/><circle cx="189.6" cy="329.6" r="1.8"/><circle cx="190.4" cy="332.7" r="1.8"/><circle cx="188.5" cy="332.6" r="1.8"/><circle cx="190.7" cy="330.7" r="1.8"/><circle cx="190.8" cy="329.1" r="1.8"/><circle cx="190.0" cy="331.0" r="1.8"/><circle cx="192.1" cy="335.1" r="1.8"/><circle cx="188.8" cy="336.4" r="1.8"/><circle cx="188.5" cy="336.0" r="1.8"/><circle cx="189.8" cy="335.9" r="1.8"/><circle cx="189.0" cy="335.9" r="1.8"/><circle cx="192.1" cy="334.1" r="1.8"/><circle cx="188.9" cy="335.1" r="1.8"/><circle cx="188.8" cy="340.8" r="1.8"/><circle cx="189.7" cy="338.6" r="1.8"/><circle cx="189.7" cy="340.6" r="1.8"/><circle cx="191.6" cy="338.1" r="1.8"/><circle cx="191.1" cy="337.5" r="1.8"/><circle cx="188.5" cy="343.4" r="1.8"/><circle cx="190.1" cy="342.9" r="1.8"/><circle cx="191.6" cy="342.9" r="1.8"/><circle cx="190.4" cy="344.2" r="1.8"/><circle cx="189.6" cy="343.8" r="1.8"/><circle cx="189.5" cy="345.0" r="1.8"/><circle cx="189.8" cy="348.1" r="1.8"/><circle cx="192.1" cy="346.3" r="1.8"/><circle cx="189.5" cy="348.9" r="1.8"/><circle cx="192.2" cy="347.7" r="1.8"/><circle cx="188.9" cy="352.5" r="1.8"/><circle cx="189.7" cy="351.3" r="1.8"/><circle cx="191.3" cy="351.8" r="1.8"/><circle cx="191.1" cy="356.8" r="1.8"/><circle cx="189.8" cy="354.7" r="1.8"/><circle cx="191.6" cy="356.6" r="1.8"/><circle cx="189.3" cy="359.4" r="1.8"/><circle cx="188.6" cy="363.5" r="1.8"/><circle cx="189.0" cy="364.2" r="1.8"/><circle cx="191.2" cy="364.6" r="1.8"/><circle cx="190.8" cy="361.2" r="1.8"/><circle cx="191.8" cy="364.0" r="1.8"/><circle cx="191.7" cy="362.7" r="1.8"/><circle cx="189.0" cy="366.1" r="1.8"/><circle cx="190.1" cy="368.6" r="1.8"/><circle cx="191.1" cy="365.4" r="1.8"/><circle cx="192.3" cy="365.9" r="1.8"/><circle cx="189.0" cy="366.5" r="1.8"/><circle cx="190.2" cy="370.0" r="1.8"/><circle cx="188.5" cy="372.5" r="1.8"/><circle cx="189.9" cy="372.5" r="1.8"/><circle cx="191.2" cy="370.7" r="1.8"/><circle cx="190.6" cy="373.5" r="1.8"/><circle cx="191.4" cy="373.8" r="1.8"/><circle cx="190.2" cy="373.7" r="1.8"/><circle cx="191.1" cy="375.0" r="1.8"/><circle cx="191.4" cy="375.6" r="1.8"/><circle cx="189.2" cy="374.2" r="1.8"/><circle cx="190.0" cy="373.1" r="1.8"/><circle cx="191.8" cy="381.4" r="1.8"/><circle cx="190.5" cy="390.9" r="1.8"/><circle cx="189.1" cy="389.9" r="1.8"/><circle cx="191.0" cy="393.2" r="1.8"/><circle cx="191.5" cy="393.2" r="1.8"/><circle cx="189.0" cy="395.0" r="1.8"/><circle cx="189.6" cy="402.2" r="1.8"/><circle cx="192.2" cy="403.1" r="1.8"/><circle cx="192.3" cy="401.9" r="1.8"/><circle cx="191.4" cy="404.6" r="1.8"/><circle cx="190.7" cy="411.8" r="1.8"/><circle cx="190.6" cy="420.3" r="1.8"/><circle cx="191.9" cy="418.0" r="1.8"/><circle cx="191.7" cy="441.0" r="1.8"/><circle cx="191.4" cy="448.7" r="1.8"/><circle cx="191.4" cy="445.1" r="1.8"/><circle cx="192.6" cy="292.4" r="1.8"/><circle cx="194.0" cy="289.7" r="1.8"/><circle cx="194.4" cy="289.3" r="1.8"/><circle cx="193.8" cy="291.7" r="1.8"/><circle cx="195.5" cy="296.9" r="1.8"/><circle cx="195.9" cy="299.3" r="1.8"/><circle cx="192.4" cy="298.2" r="1.8"/><circle cx="195.5" cy="303.8" r="1.8"/><circle cx="193.7" cy="305.1" r="1.8"/><circle cx="195.5" cy="305.3" r="1.8"/><circle cx="193.2" cy="305.6" r="1.8"/><circle cx="195.5" cy="309.6" r="1.8"/><circle cx="193.1" cy="312.0" r="1.8"/><circle cx="195.4" cy="311.6" r="1.8"/><circle cx="194.6" cy="315.5" r="1.8"/><circle cx="195.7" cy="322.0" r="1.8"/><circle cx="195.1" cy="321.2" r="1.8"/><circle cx="192.6" cy="322.5" r="1.8"/><circle cx="196.0" cy="327.9" r="1.8"/><circle cx="193.0" cy="326.0" r="1.8"/><circle cx="196.1" cy="325.7" r="1.8"/><circle cx="195.8" cy="332.1" r="1.8"/><circle cx="194.9" cy="337.9" r="1.8"/><circle cx="193.1" cy="337.7" r="1.8"/><circle cx="196.1" cy="339.8" r="1.8"/><circle cx="193.7" cy="340.0" r="1.8"/><circle cx="194.8" cy="342.2" r="1.8"/><circle cx="194.1" cy="342.5" r="1.8"/><circle cx="192.9" cy="345.1" r="1.8"/><circle cx="195.7" cy="348.8" r="1.8"/><circle cx="193.9" cy="345.5" r="1.8"/><circle cx="193.7" cy="347.4" r="1.8"/><circle cx="194.2" cy="347.4" r="1.8"/><circle cx="192.4" cy="347.6" r="1.8"/><circle cx="193.6" cy="353.8" r="1.8"/><circle cx="195.9" cy="356.8" r="1.8"/><circle cx="194.9" cy="355.7" r="1.8"/><circle cx="194.0" cy="355.2" r="1.8"/><circle cx="193.1" cy="356.5" r="1.8"/><circle cx="192.5" cy="357.7" r="1.8"/><circle cx="196.1" cy="359.6" r="1.8"/><circle cx="192.5" cy="357.4" r="1.8"/><circle cx="193.0" cy="359.7" r="1.8"/><circle cx="195.5" cy="359.8" r="1.8"/><circle cx="193.9" cy="362.5" r="1.8"/><circle cx="195.5" cy="364.8" r="1.8"/><circle cx="196.0" cy="362.1" r="1.8"/><circle cx="193.8" cy="364.4" r="1.8"/><circle cx="193.6" cy="363.1" r="1.8"/><circle cx="193.6" cy="361.2" r="1.8"/><circle cx="194.4" cy="368.9" r="1.8"/><circle cx="193.9" cy="366.0" r="1.8"/><circle cx="193.9" cy="366.2" r="1.8"/><circle cx="195.1" cy="371.6" r="1.8"/><circle cx="195.1" cy="370.8" r="1.8"/><circle cx="192.8" cy="373.1" r="1.8"/><circle cx="194.6" cy="377.9" r="1.8"/><circle cx="192.3" cy="378.5" r="1.8"/><circle cx="192.4" cy="384.1" r="1.8"/><circle cx="195.0" cy="382.2" r="1.8"/><circle cx="192.4" cy="384.1" r="1.8"/><circle cx="194.5" cy="385.2" r="1.8"/><circle cx="195.7" cy="387.3" r="1.8"/><circle cx="194.7" cy="388.4" r="1.8"/><circle cx="193.5" cy="394.2" r="1.8"/><circle cx="195.9" cy="395.2" r="1.8"/><circle cx="195.6" cy="411.3" r="1.8"/><circle cx="194.4" cy="420.8" r="1.8"/><circle cx="192.3" cy="417.1" r="1.8"/><circle cx="195.3" cy="426.8" r="1.8"/><circle cx="199.8" cy="288.7" r="1.8"/><circle cx="199.7" cy="294.2" r="1.8"/><circle cx="198.1" cy="304.0" r="1.8"/><circle cx="199.7" cy="308.0" r="1.8"/><circle cx="199.2" cy="306.5" r="1.8"/><circle cx="197.9" cy="311.4" r="1.8"/><circle cx="199.9" cy="310.3" r="1.8"/><circle cx="198.3" cy="315.6" r="1.8"/><circle cx="198.7" cy="314.3" r="1.8"/><circle cx="196.9" cy="316.8" r="1.8"/><circle cx="197.4" cy="317.3" r="1.8"/><circle cx="198.6" cy="317.6" r="1.8"/><circle cx="198.4" cy="318.7" r="1.8"/><circle cx="197.0" cy="319.7" r="1.8"/><circle cx="198.4" cy="323.7" r="1.8"/><circle cx="199.1" cy="324.6" r="1.8"/><circle cx="196.8" cy="323.1" r="1.8"/><circle cx="198.9" cy="322.4" r="1.8"/><circle cx="198.9" cy="324.6" r="1.8"/><circle cx="199.9" cy="322.5" r="1.8"/><circle cx="198.6" cy="326.3" r="1.8"/><circle cx="200.0" cy="329.0" r="1.8"/><circle cx="198.0" cy="327.4" r="1.8"/><circle cx="198.9" cy="330.1" r="1.8"/><circle cx="197.2" cy="332.1" r="1.8"/><circle cx="198.5" cy="331.5" r="1.8"/><circle cx="199.5" cy="330.0" r="1.8"/><circle cx="197.5" cy="331.3" r="1.8"/><circle cx="198.5" cy="336.2" r="1.8"/><circle cx="199.0" cy="336.7" r="1.8"/><circle cx="200.1" cy="335.9" r="1.8"/><circle cx="199.4" cy="333.9" r="1.8"/><circle cx="197.9" cy="335.0" r="1.8"/><circle cx="199.8" cy="339.2" r="1.8"/><circle cx="198.7" cy="337.8" r="1.8"/><circle cx="198.1" cy="338.2" r="1.8"/><circle cx="199.1" cy="341.7" r="1.8"/><circle cx="197.9" cy="342.2" r="1.8"/><circle cx="198.5" cy="342.6" r="1.8"/><circle cx="198.5" cy="347.5" r="1.8"/><circle cx="196.7" cy="350.5" r="1.8"/><circle cx="199.0" cy="350.3" r="1.8"/><circle cx="197.5" cy="354.9" r="1.8"/><circle cx="199.6" cy="355.6" r="1.8"/><circle cx="198.2" cy="353.3" r="1.8"/><circle cx="199.5" cy="355.3" r="1.8"/><circle cx="197.4" cy="355.1" r="1.8"/><circle cx="198.5" cy="353.7" r="1.8"/><circle cx="197.6" cy="360.3" r="1.8"/><circle cx="196.9" cy="357.6" r="1.8"/><circle cx="198.3" cy="357.2" r="1.8"/><circle cx="199.5" cy="360.4" r="1.8"/><circle cx="198.8" cy="361.0" r="1.8"/><circle cx="197.9" cy="362.5" r="1.8"/><circle cx="198.1" cy="362.3" r="1.8"/><circle cx="197.9" cy="366.1" r="1.8"/><circle cx="198.5" cy="365.2" r="1.8"/><circle cx="197.2" cy="366.7" r="1.8"/><circle cx="200.2" cy="370.9" r="1.8"/><circle cx="197.2" cy="372.3" r="1.8"/><circle cx="197.2" cy="370.0" r="1.8"/><circle cx="197.5" cy="375.8" r="1.8"/><circle cx="199.7" cy="374.2" r="1.8"/><circle cx="199.7" cy="378.1" r="1.8"/><circle cx="198.7" cy="379.9" r="1.8"/><circle cx="199.8" cy="379.1" r="1.8"/><circle cx="196.5" cy="381.3" r="1.8"/><circle cx="197.5" cy="384.4" r="1.8"/><circle cx="200.2" cy="387.0" r="1.8"/><circle cx="200.1" cy="385.4" r="1.8"/><circle cx="197.4" cy="388.2" r="1.8"/><circle cx="198.4" cy="390.3" r="1.8"/><circle cx="196.5" cy="392.1" r="1.8"/><circle cx="198.5" cy="394.9" r="1.8"/><circle cx="198.9" cy="403.1" r="1.8"/><circle cx="197.2" cy="404.0" r="1.8"/><circle cx="199.6" cy="401.9" r="1.8"/><circle cx="200.2" cy="406.6" r="1.8"/><circle cx="196.4" cy="409.0" r="1.8"/><circle cx="198.1" cy="411.0" r="1.8"/><circle cx="198.0" cy="413.4" r="1.8"/><circle cx="196.7" cy="418.2" r="1.8"/><circle cx="199.3" cy="427.3" r="1.8"/><circle cx="200.2" cy="429.9" r="1.8"/><circle cx="198.7" cy="435.2" r="1.8"/><circle cx="198.4" cy="434.4" r="1.8"/><circle cx="201.7" cy="289.0" r="1.8"/><circle cx="200.6" cy="290.3" r="1.8"/><circle cx="202.2" cy="297.3" r="1.8"/><circle cx="203.2" cy="297.0" r="1.8"/><circle cx="200.9" cy="298.9" r="1.8"/><circle cx="200.8" cy="297.1" r="1.8"/><circle cx="202.3" cy="303.9" r="1.8"/><circle cx="203.1" cy="304.1" r="1.8"/><circle cx="200.4" cy="305.9" r="1.8"/><circle cx="201.7" cy="305.1" r="1.8"/><circle cx="204.1" cy="306.8" r="1.8"/><circle cx="201.4" cy="313.4" r="1.8"/><circle cx="204.0" cy="319.9" r="1.8"/><circle cx="201.9" cy="318.9" r="1.8"/><circle cx="202.8" cy="320.8" r="1.8"/><circle cx="202.0" cy="321.6" r="1.8"/><circle cx="202.5" cy="321.9" r="1.8"/><circle cx="201.8" cy="321.3" r="1.8"/><circle cx="200.9" cy="321.7" r="1.8"/><circle cx="204.3" cy="331.2" r="1.8"/><circle cx="203.3" cy="331.3" r="1.8"/><circle cx="201.7" cy="336.7" r="1.8"/><circle cx="201.6" cy="334.0" r="1.8"/><circle cx="202.0" cy="333.9" r="1.8"/><circle cx="202.2" cy="333.2" r="1.8"/><circle cx="200.5" cy="335.2" r="1.8"/><circle cx="202.0" cy="341.0" r="1.8"/><circle cx="203.6" cy="344.4" r="1.8"/><circle cx="201.0" cy="343.3" r="1.8"/><circle cx="204.2" cy="343.3" r="1.8"/><circle cx="202.2" cy="342.5" r="1.8"/><circle cx="202.0" cy="342.8" r="1.8"/><circle cx="201.6" cy="345.9" r="1.8"/><circle cx="203.3" cy="346.2" r="1.8"/><circle cx="202.6" cy="350.6" r="1.8"/><circle cx="202.6" cy="353.0" r="1.8"/><circle cx="203.3" cy="351.0" r="1.8"/><circle cx="204.1" cy="352.3" r="1.8"/><circle cx="201.1" cy="352.1" r="1.8"/><circle cx="200.7" cy="352.6" r="1.8"/><circle cx="201.0" cy="352.8" r="1.8"/><circle cx="201.9" cy="350.0" r="1.8"/><circle cx="201.0" cy="352.1" r="1.8"/><circle cx="203.9" cy="355.5" r="1.8"/><circle cx="201.7" cy="360.0" r="1.8"/><circle cx="200.8" cy="359.0" r="1.8"/><circle cx="200.9" cy="358.1" r="1.8"/><circle cx="203.3" cy="359.7" r="1.8"/><circle cx="201.5" cy="358.6" r="1.8"/><circle cx="201.1" cy="357.2" r="1.8"/><circle cx="203.5" cy="363.4" r="1.8"/><circle cx="203.4" cy="362.7" r="1.8"/><circle cx="204.1" cy="363.3" r="1.8"/><circle cx="203.3" cy="362.2" r="1.8"/><circle cx="201.3" cy="366.3" r="1.8"/><circle cx="201.0" cy="365.8" r="1.8"/><circle cx="201.0" cy="368.6" r="1.8"/><circle cx="203.9" cy="367.8" r="1.8"/><circle cx="201.5" cy="375.2" r="1.8"/><circle cx="202.2" cy="375.7" r="1.8"/><circle cx="202.9" cy="376.9" r="1.8"/><circle cx="203.0" cy="378.9" r="1.8"/><circle cx="203.3" cy="379.6" r="1.8"/><circle cx="202.7" cy="378.0" r="1.8"/><circle cx="204.3" cy="381.9" r="1.8"/><circle cx="200.4" cy="381.4" r="1.8"/><circle cx="200.7" cy="388.9" r="1.8"/><circle cx="203.8" cy="387.0" r="1.8"/><circle cx="202.0" cy="389.4" r="1.8"/><circle cx="200.9" cy="390.4" r="1.8"/><circle cx="201.1" cy="393.9" r="1.8"/><circle cx="201.2" cy="394.1" r="1.8"/><circle cx="202.6" cy="395.3" r="1.8"/><circle cx="201.4" cy="398.3" r="1.8"/><circle cx="202.6" cy="400.0" r="1.8"/><circle cx="204.0" cy="404.3" r="1.8"/><circle cx="200.6" cy="401.5" r="1.8"/><circle cx="203.6" cy="408.1" r="1.8"/><circle cx="201.3" cy="419.9" r="1.8"/><circle cx="203.6" cy="432.9" r="1.8"/><circle cx="202.4" cy="438.7" r="1.8"/><circle cx="204.2" cy="450.9" r="1.8"/><circle cx="203.2" cy="450.5" r="1.8"/><circle cx="204.8" cy="288.2" r="1.8"/><circle cx="204.9" cy="299.7" r="1.8"/><circle cx="206.8" cy="297.0" r="1.8"/><circle cx="208.3" cy="300.9" r="1.8"/><circle cx="204.7" cy="299.4" r="1.8"/><circle cx="205.9" cy="301.8" r="1.8"/><circle cx="206.5" cy="303.4" r="1.8"/><circle cx="204.8" cy="305.5" r="1.8"/><circle cx="204.9" cy="308.9" r="1.8"/><circle cx="206.5" cy="312.0" r="1.8"/><circle cx="205.8" cy="312.5" r="1.8"/><circle cx="206.9" cy="312.0" r="1.8"/><circle cx="206.5" cy="319.1" r="1.8"/><circle cx="207.3" cy="320.2" r="1.8"/><circle cx="207.2" cy="317.1" r="1.8"/><circle cx="205.3" cy="320.6" r="1.8"/><circle cx="207.3" cy="318.3" r="1.8"/><circle cx="207.1" cy="322.7" r="1.8"/><circle cx="206.6" cy="322.3" r="1.8"/><circle cx="204.4" cy="328.3" r="1.8"/><circle cx="208.0" cy="325.2" r="1.8"/><circle cx="205.0" cy="329.3" r="1.8"/><circle cx="207.7" cy="336.2" r="1.8"/><circle cx="204.5" cy="334.0" r="1.8"/><circle cx="205.5" cy="340.0" r="1.8"/><circle cx="207.9" cy="339.5" r="1.8"/><circle cx="207.3" cy="343.4" r="1.8"/><circle cx="204.5" cy="342.4" r="1.8"/><circle cx="205.4" cy="344.2" r="1.8"/><circle cx="204.8" cy="348.6" r="1.8"/><circle cx="205.5" cy="345.4" r="1.8"/><circle cx="205.3" cy="350.8" r="1.8"/><circle cx="207.3" cy="350.7" r="1.8"/><circle cx="205.8" cy="352.1" r="1.8"/><circle cx="207.3" cy="355.6" r="1.8"/><circle cx="207.6" cy="356.3" r="1.8"/><circle cx="207.2" cy="356.7" r="1.8"/><circle cx="204.8" cy="353.0" r="1.8"/><circle cx="204.6" cy="354.3" r="1.8"/><circle cx="205.4" cy="354.1" r="1.8"/><circle cx="205.9" cy="355.8" r="1.8"/><circle cx="204.4" cy="359.7" r="1.8"/><circle cx="205.3" cy="358.7" r="1.8"/><circle cx="205.2" cy="359.4" r="1.8"/><circle cx="207.2" cy="358.2" r="1.8"/><circle cx="206.9" cy="361.4" r="1.8"/><circle cx="207.1" cy="365.2" r="1.8"/><circle cx="206.0" cy="367.7" r="1.8"/><circle cx="204.4" cy="365.8" r="1.8"/><circle cx="205.6" cy="369.0" r="1.8"/><circle cx="208.0" cy="369.3" r="1.8"/><circle cx="204.6" cy="371.0" r="1.8"/><circle cx="204.7" cy="374.5" r="1.8"/><circle cx="206.1" cy="373.5" r="1.8"/><circle cx="204.7" cy="378.6" r="1.8"/><circle cx="206.7" cy="379.8" r="1.8"/><circle cx="207.3" cy="379.0" r="1.8"/><circle cx="205.7" cy="380.2" r="1.8"/><circle cx="205.2" cy="381.6" r="1.8"/><circle cx="207.4" cy="381.1" r="1.8"/><circle cx="205.2" cy="387.0" r="1.8"/><circle cx="206.1" cy="391.4" r="1.8"/><circle cx="206.8" cy="389.0" r="1.8"/><circle cx="204.6" cy="389.3" r="1.8"/><circle cx="208.1" cy="390.2" r="1.8"/><circle cx="204.6" cy="393.2" r="1.8"/><circle cx="206.9" cy="400.6" r="1.8"/><circle cx="207.3" cy="424.5" r="1.8"/><circle cx="211.3" cy="289.4" r="1.8"/><circle cx="212.2" cy="289.6" r="1.8"/><circle cx="210.2" cy="296.4" r="1.8"/><circle cx="210.6" cy="299.5" r="1.8"/><circle cx="208.7" cy="304.1" r="1.8"/><circle cx="211.6" cy="301.3" r="1.8"/><circle cx="209.5" cy="306.8" r="1.8"/><circle cx="210.2" cy="308.7" r="1.8"/><circle cx="208.7" cy="309.0" r="1.8"/><circle cx="212.0" cy="310.2" r="1.8"/><circle cx="210.8" cy="314.1" r="1.8"/><circle cx="211.7" cy="319.4" r="1.8"/><circle cx="211.1" cy="319.1" r="1.8"/><circle cx="210.1" cy="319.0" r="1.8"/><circle cx="211.6" cy="324.9" r="1.8"/><circle cx="211.0" cy="327.1" r="1.8"/><circle cx="211.0" cy="327.1" r="1.8"/><circle cx="212.2" cy="328.9" r="1.8"/><circle cx="210.5" cy="328.6" r="1.8"/><circle cx="209.7" cy="328.3" r="1.8"/><circle cx="208.9" cy="326.9" r="1.8"/><circle cx="209.9" cy="327.4" r="1.8"/><circle cx="211.3" cy="332.3" r="1.8"/><circle cx="210.7" cy="332.7" r="1.8"/><circle cx="208.6" cy="329.4" r="1.8"/><circle cx="209.9" cy="332.2" r="1.8"/><circle cx="210.4" cy="335.0" r="1.8"/><circle cx="210.8" cy="336.6" r="1.8"/><circle cx="210.2" cy="334.0" r="1.8"/><circle cx="208.6" cy="339.3" r="1.8"/><circle cx="208.5" cy="339.2" r="1.8"/><circle cx="210.4" cy="338.7" r="1.8"/><circle cx="209.9" cy="342.7" r="1.8"/><circle cx="210.0" cy="342.7" r="1.8"/><circle cx="209.6" cy="347.8" r="1.8"/><circle cx="211.9" cy="346.7" r="1.8"/><circle cx="211.1" cy="350.9" r="1.8"/><circle cx="211.8" cy="351.2" r="1.8"/><circle cx="208.4" cy="352.1" r="1.8"/><circle cx="210.8" cy="355.3" r="1.8"/><circle cx="211.1" cy="355.4" r="1.8"/><circle cx="208.4" cy="355.4" r="1.8"/><circle cx="211.8" cy="356.8" r="1.8"/><circle cx="210.3" cy="359.1" r="1.8"/><circle cx="210.1" cy="358.4" r="1.8"/><circle cx="209.0" cy="360.1" r="1.8"/><circle cx="209.5" cy="357.2" r="1.8"/><circle cx="211.3" cy="367.5" r="1.8"/><circle cx="209.6" cy="370.2" r="1.8"/><circle cx="211.9" cy="369.9" r="1.8"/><circle cx="212.0" cy="370.8" r="1.8"/><circle cx="208.4" cy="371.9" r="1.8"/><circle cx="210.8" cy="376.8" r="1.8"/><circle cx="211.4" cy="376.9" r="1.8"/><circle cx="211.0" cy="377.5" r="1.8"/><circle cx="209.4" cy="386.8" r="1.8"/><circle cx="208.9" cy="389.0" r="1.8"/><circle cx="211.3" cy="386.6" r="1.8"/><circle cx="210.9" cy="385.7" r="1.8"/><circle cx="209.4" cy="394.6" r="1.8"/><circle cx="212.0" cy="400.1" r="1.8"/><circle cx="209.5" cy="400.1" r="1.8"/><circle cx="210.0" cy="398.0" r="1.8"/><circle cx="209.8" cy="398.6" r="1.8"/><circle cx="208.8" cy="400.7" r="1.8"/><circle cx="208.4" cy="401.5" r="1.8"/><circle cx="211.7" cy="406.2" r="1.8"/><circle cx="211.1" cy="419.2" r="1.8"/><circle cx="212.3" cy="419.4" r="1.8"/><circle cx="209.7" cy="438.0" r="1.8"/><circle cx="210.1" cy="447.3" r="1.8"/><circle cx="213.2" cy="285.5" r="1.8"/><circle cx="213.0" cy="288.4" r="1.8"/><circle cx="212.4" cy="287.6" r="1.8"/><circle cx="215.4" cy="292.4" r="1.8"/><circle cx="214.0" cy="291.3" r="1.8"/><circle cx="213.2" cy="294.6" r="1.8"/><circle cx="216.2" cy="298.4" r="1.8"/><circle cx="213.4" cy="301.5" r="1.8"/><circle cx="215.1" cy="303.7" r="1.8"/><circle cx="215.2" cy="312.0" r="1.8"/><circle cx="212.9" cy="312.5" r="1.8"/><circle cx="215.9" cy="312.3" r="1.8"/><circle cx="212.6" cy="316.4" r="1.8"/><circle cx="214.6" cy="316.6" r="1.8"/><circle cx="212.6" cy="317.0" r="1.8"/><circle cx="214.9" cy="326.2" r="1.8"/><circle cx="213.4" cy="326.5" r="1.8"/><circle cx="212.8" cy="328.0" r="1.8"/><circle cx="212.7" cy="325.1" r="1.8"/><circle cx="213.2" cy="327.2" r="1.8"/><circle cx="214.5" cy="326.8" r="1.8"/><circle cx="214.9" cy="326.2" r="1.8"/><circle cx="212.3" cy="329.3" r="1.8"/><circle cx="214.4" cy="329.2" r="1.8"/><circle cx="215.4" cy="332.8" r="1.8"/><circle cx="216.0" cy="329.1" r="1.8"/><circle cx="213.1" cy="331.0" r="1.8"/><circle cx="213.0" cy="329.5" r="1.8"/><circle cx="214.4" cy="329.0" r="1.8"/><circle cx="216.2" cy="336.5" r="1.8"/><circle cx="214.3" cy="335.4" r="1.8"/><circle cx="215.1" cy="337.9" r="1.8"/><circle cx="216.3" cy="338.5" r="1.8"/><circle cx="215.9" cy="344.2" r="1.8"/><circle cx="216.1" cy="343.2" r="1.8"/><circle cx="213.9" cy="345.6" r="1.8"/><circle cx="212.5" cy="350.2" r="1.8"/><circle cx="214.7" cy="351.5" r="1.8"/><circle cx="213.7" cy="352.2" r="1.8"/><circle cx="212.8" cy="357.0" r="1.8"/><circle cx="213.9" cy="357.5" r="1.8"/><circle cx="213.3" cy="358.5" r="1.8"/><circle cx="213.4" cy="359.8" r="1.8"/><circle cx="215.8" cy="364.0" r="1.8"/><circle cx="215.0" cy="364.1" r="1.8"/><circle cx="212.7" cy="362.6" r="1.8"/><circle cx="214.8" cy="368.7" r="1.8"/><circle cx="214.3" cy="367.1" r="1.8"/><circle cx="215.2" cy="368.1" r="1.8"/><circle cx="213.2" cy="369.1" r="1.8"/><circle cx="216.3" cy="372.6" r="1.8"/><circle cx="216.3" cy="372.4" r="1.8"/><circle cx="215.2" cy="370.7" r="1.8"/><circle cx="213.3" cy="375.7" r="1.8"/><circle cx="215.1" cy="376.5" r="1.8"/><circle cx="216.0" cy="373.7" r="1.8"/><circle cx="215.4" cy="383.5" r="1.8"/><circle cx="214.2" cy="383.6" r="1.8"/><circle cx="212.6" cy="386.9" r="1.8"/><circle cx="215.8" cy="386.0" r="1.8"/><circle cx="215.9" cy="388.5" r="1.8"/><circle cx="213.6" cy="385.5" r="1.8"/><circle cx="214.3" cy="407.8" r="1.8"/><circle cx="215.7" cy="406.4" r="1.8"/><circle cx="215.0" cy="415.3" r="1.8"/><circle cx="214.1" cy="413.9" r="1.8"/><circle cx="214.4" cy="428.7" r="1.8"/><circle cx="216.0" cy="438.1" r="1.8"/><circle cx="214.5" cy="441.1" r="1.8"/><circle cx="214.8" cy="444.1" r="1.8"/><circle cx="213.7" cy="446.9" r="1.8"/><circle cx="217.0" cy="287.4" r="1.8"/><circle cx="219.4" cy="297.9" r="1.8"/><circle cx="216.6" cy="299.7" r="1.8"/><circle cx="219.6" cy="307.2" r="1.8"/><circle cx="218.0" cy="310.9" r="1.8"/><circle cx="217.6" cy="316.7" r="1.8"/><circle cx="219.7" cy="320.9" r="1.8"/><circle cx="217.1" cy="319.9" r="1.8"/><circle cx="219.8" cy="324.9" r="1.8"/><circle cx="218.4" cy="324.6" r="1.8"/><circle cx="216.9" cy="327.1" r="1.8"/><circle cx="218.9" cy="325.3" r="1.8"/><circle cx="216.7" cy="331.2" r="1.8"/><circle cx="218.8" cy="334.5" r="1.8"/><circle cx="217.1" cy="337.4" r="1.8"/><circle cx="217.0" cy="339.8" r="1.8"/><circle cx="218.2" cy="340.4" r="1.8"/><circle cx="218.2" cy="340.3" r="1.8"/><circle cx="217.3" cy="339.0" r="1.8"/><circle cx="219.4" cy="341.3" r="1.8"/><circle cx="216.8" cy="343.9" r="1.8"/><circle cx="216.9" cy="346.0" r="1.8"/><circle cx="219.9" cy="345.9" r="1.8"/><circle cx="217.4" cy="346.2" r="1.8"/><circle cx="219.0" cy="349.8" r="1.8"/><circle cx="216.9" cy="352.9" r="1.8"/><circle cx="216.6" cy="351.2" r="1.8"/><circle cx="216.4" cy="356.2" r="1.8"/><circle cx="218.2" cy="354.3" r="1.8"/><circle cx="217.5" cy="355.8" r="1.8"/><circle cx="217.4" cy="356.1" r="1.8"/><circle cx="217.8" cy="353.3" r="1.8"/><circle cx="216.6" cy="358.9" r="1.8"/><circle cx="216.5" cy="358.3" r="1.8"/><circle cx="219.4" cy="359.6" r="1.8"/><circle cx="218.8" cy="358.6" r="1.8"/><circle cx="217.8" cy="361.9" r="1.8"/><circle cx="218.4" cy="361.4" r="1.8"/><circle cx="218.6" cy="363.7" r="1.8"/><circle cx="219.6" cy="367.7" r="1.8"/><circle cx="216.8" cy="366.1" r="1.8"/><circle cx="217.9" cy="370.3" r="1.8"/><circle cx="217.2" cy="372.8" r="1.8"/><circle cx="217.2" cy="369.6" r="1.8"/><circle cx="219.4" cy="380.3" r="1.8"/><circle cx="217.1" cy="377.0" r="1.8"/><circle cx="218.4" cy="377.5" r="1.8"/><circle cx="216.7" cy="385.0" r="1.8"/><circle cx="219.9" cy="386.8" r="1.8"/><circle cx="218.1" cy="392.8" r="1.8"/><circle cx="219.6" cy="396.2" r="1.8"/><circle cx="216.7" cy="395.0" r="1.8"/><circle cx="218.2" cy="393.5" r="1.8"/><circle cx="217.4" cy="398.5" r="1.8"/><circle cx="218.8" cy="399.3" r="1.8"/><circle cx="216.5" cy="412.1" r="1.8"/><circle cx="217.7" cy="411.2" r="1.8"/><circle cx="219.6" cy="413.4" r="1.8"/><circle cx="217.1" cy="427.1" r="1.8"/><circle cx="219.0" cy="434.8" r="1.8"/><circle cx="222.9" cy="294.9" r="1.8"/><circle cx="222.0" cy="300.6" r="1.8"/><circle cx="223.7" cy="301.6" r="1.8"/><circle cx="221.1" cy="304.6" r="1.8"/><circle cx="221.7" cy="302.4" r="1.8"/><circle cx="220.8" cy="311.7" r="1.8"/><circle cx="221.2" cy="314.1" r="1.8"/><circle cx="221.3" cy="318.1" r="1.8"/><circle cx="220.1" cy="322.1" r="1.8"/><circle cx="220.4" cy="324.6" r="1.8"/><circle cx="220.5" cy="322.2" r="1.8"/><circle cx="222.6" cy="322.6" r="1.8"/><circle cx="220.4" cy="321.8" r="1.8"/><circle cx="223.5" cy="328.1" r="1.8"/><circle cx="221.9" cy="328.7" r="1.8"/><circle cx="221.8" cy="330.5" r="1.8"/><circle cx="221.1" cy="331.8" r="1.8"/><circle cx="221.3" cy="332.3" r="1.8"/><circle cx="222.5" cy="334.2" r="1.8"/><circle cx="220.4" cy="335.1" r="1.8"/><circle cx="223.5" cy="334.6" r="1.8"/><circle cx="221.5" cy="333.6" r="1.8"/><circle cx="223.2" cy="334.4" r="1.8"/><circle cx="220.6" cy="337.2" r="1.8"/><circle cx="223.0" cy="338.6" r="1.8"/><circle cx="222.3" cy="337.6" r="1.8"/><circle cx="221.9" cy="338.5" r="1.8"/><circle cx="223.6" cy="343.5" r="1.8"/><circle cx="220.3" cy="344.2" r="1.8"/><circle cx="220.3" cy="347.9" r="1.8"/><circle cx="222.7" cy="351.2" r="1.8"/><circle cx="223.0" cy="351.9" r="1.8"/><circle cx="221.0" cy="358.9" r="1.8"/><circle cx="220.1" cy="362.9" r="1.8"/><circle cx="223.0" cy="364.7" r="1.8"/><circle cx="221.7" cy="365.0" r="1.8"/><circle cx="222.6" cy="365.1" r="1.8"/><circle cx="220.6" cy="368.2" r="1.8"/><circle cx="221.4" cy="371.7" r="1.8"/><circle cx="220.4" cy="371.6" r="1.8"/><circle cx="222.3" cy="375.5" r="1.8"/><circle cx="221.1" cy="379.8" r="1.8"/><circle cx="221.0" cy="378.4" r="1.8"/><circle cx="221.2" cy="378.6" r="1.8"/><circle cx="221.1" cy="383.0" r="1.8"/><circle cx="221.4" cy="381.1" r="1.8"/><circle cx="221.9" cy="382.2" r="1.8"/><circle cx="227.5" cy="290.9" r="1.8"/><circle cx="226.8" cy="296.8" r="1.8"/><circle cx="225.4" cy="300.0" r="1.8"/><circle cx="227.6" cy="303.1" r="1.8"/><circle cx="225.3" cy="304.2" r="1.8"/><circle cx="224.3" cy="303.0" r="1.8"/><circle cx="226.9" cy="307.3" r="1.8"/><circle cx="225.3" cy="310.0" r="1.8"/><circle cx="227.8" cy="310.6" r="1.8"/><circle cx="227.6" cy="314.5" r="1.8"/><circle cx="225.9" cy="313.9" r="1.8"/><circle cx="224.7" cy="317.1" r="1.8"/><circle cx="224.5" cy="319.0" r="1.8"/><circle cx="227.0" cy="319.9" r="1.8"/><circle cx="225.0" cy="320.5" r="1.8"/><circle cx="224.5" cy="318.8" r="1.8"/><circle cx="226.6" cy="318.5" r="1.8"/><circle cx="228.0" cy="324.8" r="1.8"/><circle cx="226.8" cy="322.4" r="1.8"/><circle cx="225.1" cy="328.7" r="1.8"/><circle cx="225.9" cy="328.3" r="1.8"/><circle cx="225.7" cy="332.8" r="1.8"/><circle cx="224.2" cy="329.4" r="1.8"/><circle cx="224.7" cy="333.8" r="1.8"/><circle cx="224.2" cy="338.3" r="1.8"/><circle cx="224.5" cy="340.0" r="1.8"/><circle cx="225.3" cy="339.5" r="1.8"/><circle cx="226.7" cy="343.4" r="1.8"/><circle cx="225.8" cy="342.3" r="1.8"/><circle cx="226.0" cy="344.3" r="1.8"/><circle cx="226.8" cy="346.3" r="1.8"/><circle cx="226.6" cy="345.8" r="1.8"/><circle cx="226.5" cy="346.3" r="1.8"/><circle cx="225.6" cy="350.7" r="1.8"/><circle cx="226.3" cy="350.8" r="1.8"/><circle cx="227.3" cy="350.0" r="1.8"/><circle cx="225.2" cy="349.7" r="1.8"/><circle cx="226.6" cy="353.6" r="1.8"/><circle cx="225.1" cy="357.9" r="1.8"/><circle cx="226.8" cy="357.4" r="1.8"/><circle cx="225.7" cy="360.0" r="1.8"/><circle cx="227.5" cy="358.4" r="1.8"/><circle cx="227.2" cy="362.7" r="1.8"/><circle cx="226.3" cy="361.3" r="1.8"/><circle cx="225.2" cy="366.1" r="1.8"/><circle cx="227.7" cy="367.4" r="1.8"/><circle cx="225.3" cy="365.9" r="1.8"/><circle cx="226.3" cy="367.3" r="1.8"/><circle cx="225.7" cy="370.7" r="1.8"/><circle cx="224.4" cy="371.4" r="1.8"/><circle cx="224.7" cy="376.0" r="1.8"/><circle cx="224.8" cy="373.9" r="1.8"/><circle cx="227.8" cy="380.0" r="1.8"/><circle cx="224.5" cy="382.1" r="1.8"/><circle cx="225.9" cy="384.5" r="1.8"/><circle cx="231.2" cy="288.3" r="1.8"/><circle cx="231.6" cy="292.8" r="1.8"/><circle cx="228.6" cy="297.9" r="1.8"/><circle cx="230.4" cy="300.5" r="1.8"/><circle cx="231.8" cy="299.0" r="1.8"/><circle cx="230.0" cy="301.2" r="1.8"/><circle cx="229.7" cy="306.4" r="1.8"/><circle cx="228.0" cy="306.1" r="1.8"/><circle cx="230.4" cy="319.5" r="1.8"/><circle cx="229.5" cy="322.7" r="1.8"/><circle cx="228.7" cy="333.2" r="1.8"/><circle cx="228.2" cy="339.9" r="1.8"/><circle cx="231.3" cy="344.6" r="1.8"/><circle cx="229.6" cy="344.9" r="1.8"/><circle cx="229.6" cy="345.6" r="1.8"/><circle cx="230.4" cy="347.1" r="1.8"/><circle cx="229.5" cy="345.8" r="1.8"/><circle cx="231.6" cy="352.9" r="1.8"/><circle cx="228.9" cy="349.5" r="1.8"/><circle cx="228.7" cy="356.9" r="1.8"/><circle cx="230.4" cy="353.8" r="1.8"/><circle cx="228.8" cy="359.0" r="1.8"/><circle cx="229.0" cy="360.3" r="1.8"/><circle cx="228.6" cy="358.2" r="1.8"/><circle cx="230.9" cy="362.9" r="1.8"/><circle cx="229.7" cy="363.6" r="1.8"/><circle cx="228.1" cy="362.2" r="1.8"/><circle cx="228.2" cy="363.7" r="1.8"/><circle cx="228.3" cy="362.9" r="1.8"/><circle cx="228.5" cy="366.5" r="1.8"/><circle cx="230.6" cy="368.7" r="1.8"/><circle cx="231.1" cy="368.6" r="1.8"/><circle cx="229.3" cy="372.5" r="1.8"/><circle cx="230.0" cy="375.7" r="1.8"/><circle cx="229.2" cy="376.3" r="1.8"/><circle cx="228.3" cy="380.1" r="1.8"/><circle cx="229.2" cy="377.2" r="1.8"/><circle cx="230.8" cy="381.6" r="1.8"/><circle cx="228.6" cy="381.8" r="1.8"/><circle cx="235.6" cy="285.8" r="1.8"/><circle cx="234.3" cy="289.3" r="1.8"/><circle cx="235.8" cy="296.0" r="1.8"/><circle cx="235.8" cy="311.8" r="1.8"/><circle cx="233.7" cy="312.5" r="1.8"/><circle cx="235.3" cy="310.9" r="1.8"/><circle cx="234.9" cy="316.0" r="1.8"/><circle cx="233.2" cy="316.9" r="1.8"/><circle cx="232.1" cy="320.3" r="1.8"/><circle cx="232.4" cy="317.4" r="1.8"/><circle cx="235.3" cy="319.4" r="1.8"/><circle cx="232.5" cy="323.6" r="1.8"/><circle cx="233.6" cy="322.3" r="1.8"/><circle cx="234.2" cy="324.6" r="1.8"/><circle cx="233.2" cy="322.2" r="1.8"/><circle cx="234.5" cy="324.3" r="1.8"/><circle cx="234.5" cy="323.4" r="1.8"/><circle cx="234.7" cy="328.6" r="1.8"/><circle cx="235.7" cy="328.5" r="1.8"/><circle cx="233.2" cy="330.8" r="1.8"/><circle cx="232.1" cy="329.4" r="1.8"/><circle cx="235.5" cy="330.2" r="1.8"/><circle cx="233.9" cy="332.7" r="1.8"/><circle cx="232.0" cy="331.4" r="1.8"/><circle cx="236.0" cy="336.1" r="1.8"/><circle cx="232.1" cy="335.8" r="1.8"/><circle cx="232.8" cy="338.9" r="1.8"/><circle cx="233.7" cy="340.9" r="1.8"/><circle cx="232.4" cy="341.6" r="1.8"/><circle cx="234.2" cy="343.6" r="1.8"/><circle cx="233.8" cy="341.7" r="1.8"/><circle cx="234.0" cy="341.3" r="1.8"/><circle cx="233.2" cy="348.9" r="1.8"/><circle cx="235.7" cy="352.6" r="1.8"/><circle cx="232.3" cy="352.7" r="1.8"/><circle cx="235.0" cy="349.5" r="1.8"/><circle cx="235.5" cy="355.4" r="1.8"/><circle cx="234.6" cy="353.9" r="1.8"/><circle cx="235.7" cy="356.6" r="1.8"/><circle cx="234.6" cy="360.4" r="1.8"/><circle cx="234.5" cy="357.1" r="1.8"/><circle cx="232.1" cy="363.0" r="1.8"/><circle cx="234.3" cy="364.9" r="1.8"/><circle cx="233.2" cy="362.4" r="1.8"/><circle cx="235.7" cy="363.4" r="1.8"/><circle cx="233.1" cy="368.0" r="1.8"/><circle cx="234.5" cy="367.0" r="1.8"/><circle cx="234.7" cy="369.6" r="1.8"/><circle cx="234.2" cy="376.8" r="1.8"/><circle cx="234.6" cy="375.9" r="1.8"/><circle cx="234.7" cy="378.1" r="1.8"/><circle cx="235.3" cy="383.8" r="1.8"/><circle cx="236.0" cy="384.6" r="1.8"/><circle cx="236.7" cy="286.9" r="1.8"/><circle cx="238.1" cy="296.1" r="1.8"/><circle cx="239.2" cy="296.7" r="1.8"/><circle cx="237.2" cy="297.5" r="1.8"/><circle cx="236.4" cy="303.6" r="1.8"/><circle cx="238.5" cy="304.3" r="1.8"/><circle cx="237.9" cy="308.9" r="1.8"/><circle cx="237.0" cy="305.0" r="1.8"/><circle cx="237.3" cy="311.8" r="1.8"/><circle cx="236.4" cy="309.0" r="1.8"/><circle cx="238.9" cy="310.9" r="1.8"/><circle cx="237.7" cy="309.0" r="1.8"/><circle cx="239.1" cy="314.8" r="1.8"/><circle cx="236.9" cy="319.6" r="1.8"/><circle cx="238.4" cy="327.4" r="1.8"/><circle cx="236.7" cy="325.3" r="1.8"/><circle cx="236.8" cy="333.1" r="1.8"/><circle cx="239.8" cy="340.6" r="1.8"/><circle cx="236.1" cy="341.9" r="1.8"/><circle cx="238.1" cy="341.7" r="1.8"/><circle cx="239.7" cy="345.1" r="1.8"/><circle cx="237.4" cy="347.1" r="1.8"/><circle cx="237.5" cy="346.7" r="1.8"/><circle cx="236.3" cy="350.5" r="1.8"/><circle cx="239.3" cy="353.4" r="1.8"/><circle cx="238.8" cy="353.7" r="1.8"/><circle cx="239.8" cy="356.5" r="1.8"/><circle cx="237.8" cy="364.3" r="1.8"/><circle cx="236.9" cy="363.2" r="1.8"/><circle cx="237.7" cy="368.9" r="1.8"/><circle cx="238.6" cy="370.8" r="1.8"/><circle cx="236.4" cy="377.2" r="1.8"/><circle cx="239.4" cy="378.1" r="1.8"/><circle cx="239.6" cy="384.6" r="1.8"/><circle cx="240.2" cy="285.5" r="1.8"/><circle cx="242.9" cy="287.2" r="1.8"/><circle cx="243.7" cy="290.2" r="1.8"/><circle cx="242.6" cy="293.9" r="1.8"/><circle cx="243.8" cy="295.6" r="1.8"/><circle cx="241.8" cy="299.9" r="1.8"/><circle cx="242.4" cy="304.2" r="1.8"/><circle cx="241.7" cy="301.2" r="1.8"/><circle cx="241.7" cy="306.4" r="1.8"/><circle cx="242.9" cy="310.6" r="1.8"/><circle cx="241.1" cy="309.6" r="1.8"/><circle cx="240.6" cy="316.5" r="1.8"/><circle cx="241.0" cy="319.1" r="1.8"/><circle cx="240.2" cy="321.3" r="1.8"/><circle cx="243.5" cy="321.5" r="1.8"/><circle cx="241.4" cy="321.0" r="1.8"/><circle cx="240.2" cy="328.8" r="1.8"/><circle cx="241.6" cy="327.9" r="1.8"/><circle cx="243.6" cy="327.4" r="1.8"/><circle cx="241.7" cy="332.5" r="1.8"/><circle cx="243.5" cy="334.6" r="1.8"/><circle cx="240.4" cy="333.5" r="1.8"/><circle cx="243.6" cy="338.6" r="1.8"/><circle cx="242.6" cy="337.5" r="1.8"/><circle cx="241.7" cy="338.8" r="1.8"/><circle cx="241.2" cy="342.0" r="1.8"/><circle cx="240.7" cy="341.3" r="1.8"/><circle cx="243.5" cy="347.1" r="1.8"/><circle cx="243.4" cy="347.0" r="1.8"/><circle cx="243.7" cy="352.0" r="1.8"/><circle cx="240.6" cy="354.9" r="1.8"/><circle cx="242.4" cy="356.0" r="1.8"/><circle cx="243.4" cy="357.2" r="1.8"/><circle cx="242.9" cy="359.3" r="1.8"/><circle cx="243.8" cy="360.1" r="1.8"/><circle cx="243.6" cy="361.0" r="1.8"/><circle cx="240.6" cy="361.5" r="1.8"/><circle cx="240.6" cy="364.2" r="1.8"/><circle cx="240.1" cy="366.6" r="1.8"/><circle cx="241.0" cy="366.6" r="1.8"/><circle cx="243.4" cy="372.4" r="1.8"/><circle cx="244.0" cy="369.1" r="1.8"/><circle cx="240.5" cy="372.3" r="1.8"/><circle cx="241.2" cy="380.9" r="1.8"/><circle cx="240.9" cy="380.5" r="1.8"/><circle cx="243.4" cy="377.2" r="1.8"/><circle cx="241.3" cy="383.9" r="1.8"/><circle cx="241.2" cy="384.2" r="1.8"/><circle cx="241.4" cy="382.9" r="1.8"/><circle cx="242.1" cy="383.4" r="1.8"/><circle cx="245.4" cy="289.0" r="1.8"/><circle cx="246.1" cy="285.7" r="1.8"/><circle cx="247.5" cy="297.4" r="1.8"/><circle cx="245.1" cy="300.8" r="1.8"/><circle cx="246.7" cy="306.9" r="1.8"/><circle cx="246.6" cy="306.8" r="1.8"/><circle cx="247.4" cy="311.0" r="1.8"/><circle cx="244.2" cy="310.6" r="1.8"/><circle cx="244.7" cy="309.9" r="1.8"/><circle cx="244.0" cy="319.7" r="1.8"/><circle cx="246.0" cy="318.5" r="1.8"/><circle cx="244.7" cy="324.3" r="1.8"/><circle cx="246.5" cy="322.8" r="1.8"/><circle cx="245.2" cy="323.1" r="1.8"/><circle cx="245.0" cy="323.1" r="1.8"/><circle cx="247.7" cy="323.0" r="1.8"/><circle cx="247.0" cy="332.9" r="1.8"/><circle cx="245.4" cy="330.3" r="1.8"/><circle cx="244.0" cy="332.8" r="1.8"/><circle cx="245.0" cy="329.5" r="1.8"/><circle cx="246.2" cy="332.3" r="1.8"/><circle cx="247.1" cy="333.6" r="1.8"/><circle cx="245.2" cy="344.5" r="1.8"/><circle cx="247.8" cy="349.2" r="1.8"/><circle cx="246.0" cy="352.3" r="1.8"/><circle cx="245.0" cy="354.0" r="1.8"/><circle cx="246.5" cy="357.4" r="1.8"/><circle cx="245.1" cy="358.9" r="1.8"/><circle cx="249.9" cy="295.7" r="1.8"/><circle cx="248.5" cy="296.5" r="1.8"/><circle cx="249.5" cy="298.5" r="1.8"/><circle cx="251.9" cy="300.8" r="1.8"/><circle cx="250.6" cy="298.5" r="1.8"/><circle cx="250.6" cy="297.1" r="1.8"/><circle cx="249.6" cy="298.8" r="1.8"/><circle cx="249.6" cy="305.6" r="1.8"/><circle cx="251.4" cy="309.7" r="1.8"/><circle cx="249.3" cy="310.4" r="1.8"/><circle cx="250.7" cy="312.9" r="1.8"/><circle cx="251.5" cy="315.8" r="1.8"/><circle cx="251.1" cy="314.8" r="1.8"/><circle cx="251.5" cy="313.6" r="1.8"/><circle cx="248.0" cy="318.5" r="1.8"/><circle cx="251.3" cy="318.9" r="1.8"/><circle cx="248.1" cy="323.7" r="1.8"/><circle cx="251.3" cy="322.9" r="1.8"/><circle cx="251.4" cy="330.5" r="1.8"/><circle cx="249.4" cy="333.4" r="1.8"/><circle cx="248.2" cy="336.9" r="1.8"/><circle cx="248.0" cy="341.2" r="1.8"/><circle cx="251.7" cy="344.3" r="1.8"/><circle cx="249.5" cy="343.3" r="1.8"/><circle cx="250.9" cy="345.4" r="1.8"/><circle cx="250.5" cy="350.7" r="1.8"/><circle cx="250.7" cy="352.8" r="1.8"/><circle cx="250.3" cy="358.0" r="1.8"/><circle cx="249.4" cy="361.6" r="1.8"/><circle cx="251.5" cy="363.2" r="1.8"/><circle cx="248.0" cy="365.9" r="1.8"/><circle cx="249.8" cy="374.1" r="1.8"/><circle cx="253.8" cy="288.2" r="1.8"/><circle cx="255.4" cy="285.9" r="1.8"/><circle cx="254.0" cy="298.1" r="1.8"/><circle cx="255.0" cy="297.2" r="1.8"/><circle cx="254.6" cy="308.6" r="1.8"/><circle cx="253.5" cy="307.2" r="1.8"/><circle cx="253.8" cy="305.3" r="1.8"/><circle cx="255.1" cy="311.0" r="1.8"/><circle cx="252.6" cy="317.3" r="1.8"/><circle cx="255.1" cy="320.6" r="1.8"/><circle cx="255.8" cy="320.7" r="1.8"/><circle cx="255.6" cy="325.3" r="1.8"/><circle cx="254.6" cy="331.6" r="1.8"/><circle cx="253.3" cy="332.1" r="1.8"/><circle cx="255.5" cy="344.5" r="1.8"/><circle cx="255.7" cy="355.6" r="1.8"/><circle cx="252.3" cy="354.0" r="1.8"/><circle cx="253.8" cy="359.0" r="1.8"/><circle cx="255.2" cy="367.0" r="1.8"/><circle cx="252.1" cy="370.2" r="1.8"/><circle cx="255.9" cy="369.1" r="1.8"/><circle cx="252.5" cy="381.8" r="1.8"/><circle cx="255.0" cy="384.7" r="1.8"/><circle cx="257.1" cy="285.9" r="1.8"/><circle cx="256.1" cy="296.4" r="1.8"/><circle cx="256.9" cy="299.5" r="1.8"/><circle cx="259.2" cy="299.9" r="1.8"/><circle cx="258.0" cy="310.5" r="1.8"/><circle cx="257.1" cy="320.9" r="1.8"/><circle cx="257.6" cy="322.3" r="1.8"/><circle cx="256.6" cy="321.9" r="1.8"/><circle cx="256.0" cy="338.3" r="1.8"/><circle cx="257.8" cy="342.9" r="1.8"/><circle cx="256.4" cy="348.0" r="1.8"/><circle cx="256.1" cy="345.9" r="1.8"/><circle cx="258.2" cy="358.4" r="1.8"/><circle cx="257.5" cy="379.0" r="1.8"/><circle cx="258.2" cy="379.9" r="1.8"/><circle cx="257.0" cy="377.2" r="1.8"/><circle cx="262.0" cy="293.4" r="1.8"/><circle cx="263.0" cy="296.0" r="1.8"/><circle cx="263.7" cy="299.5" r="1.8"/><circle cx="260.5" cy="299.6" r="1.8"/><circle cx="261.9" cy="302.9" r="1.8"/><circle cx="261.3" cy="311.6" r="1.8"/><circle cx="263.3" cy="310.6" r="1.8"/><circle cx="261.2" cy="312.5" r="1.8"/><circle cx="263.2" cy="311.7" r="1.8"/><circle cx="260.2" cy="315.3" r="1.8"/><circle cx="260.5" cy="321.4" r="1.8"/><circle cx="260.1" cy="321.7" r="1.8"/><circle cx="260.9" cy="322.5" r="1.8"/><circle cx="260.8" cy="337.7" r="1.8"/><circle cx="260.6" cy="348.2" r="1.8"/><circle cx="261.9" cy="346.3" r="1.8"/><circle cx="261.5" cy="360.5" r="1.8"/><circle cx="260.3" cy="365.8" r="1.8"/><circle cx="263.3" cy="366.0" r="1.8"/><circle cx="261.6" cy="367.1" r="1.8"/><circle cx="263.0" cy="370.9" r="1.8"/><circle cx="263.8" cy="373.8" r="1.8"/><circle cx="264.0" cy="377.1" r="1.8"/><circle cx="266.1" cy="288.6" r="1.8"/><circle cx="264.7" cy="288.3" r="1.8"/><circle cx="265.5" cy="292.2" r="1.8"/><circle cx="268.0" cy="290.1" r="1.8"/><circle cx="264.8" cy="296.8" r="1.8"/><circle cx="267.3" cy="300.7" r="1.8"/><circle cx="267.9" cy="302.6" r="1.8"/><circle cx="267.3" cy="309.6" r="1.8"/><circle cx="264.3" cy="324.7" r="1.8"/><circle cx="266.0" cy="329.4" r="1.8"/><circle cx="265.4" cy="334.6" r="1.8"/><circle cx="265.5" cy="341.6" r="1.8"/><circle cx="267.4" cy="356.5" r="1.8"/><circle cx="265.1" cy="360.3" r="1.8"/><circle cx="265.7" cy="361.8" r="1.8"/><circle cx="265.1" cy="381.5" r="1.8"/><circle cx="271.1" cy="291.0" r="1.8"/><circle cx="268.4" cy="294.7" r="1.8"/><circle cx="268.4" cy="303.9" r="1.8"/><circle cx="269.5" cy="301.2" r="1.8"/><circle cx="269.8" cy="310.4" r="1.8"/><circle cx="269.7" cy="313.0" r="1.8"/><circle cx="269.9" cy="315.1" r="1.8"/><circle cx="269.8" cy="315.4" r="1.8"/><circle cx="271.9" cy="313.9" r="1.8"/><circle cx="270.8" cy="320.3" r="1.8"/><circle cx="271.2" cy="319.6" r="1.8"/><circle cx="271.2" cy="317.8" r="1.8"/><circle cx="268.8" cy="319.0" r="1.8"/><circle cx="268.8" cy="323.5" r="1.8"/><circle cx="271.2" cy="324.9" r="1.8"/><circle cx="268.6" cy="324.8" r="1.8"/><circle cx="268.6" cy="330.9" r="1.8"/><circle cx="271.6" cy="331.5" r="1.8"/><circle cx="271.1" cy="344.4" r="1.8"/><circle cx="269.0" cy="361.6" r="1.8"/><circle cx="270.0" cy="377.9" r="1.8"/><circle cx="272.1" cy="286.4" r="1.8"/><circle cx="275.7" cy="286.2" r="1.8"/><circle cx="274.8" cy="285.4" r="1.8"/><circle cx="275.6" cy="308.9" r="1.8"/><circle cx="275.0" cy="315.5" r="1.8"/><circle cx="275.4" cy="322.8" r="1.8"/><circle cx="272.4" cy="322.3" r="1.8"/><circle cx="275.9" cy="329.4" r="1.8"/><circle cx="272.8" cy="329.8" r="1.8"/><circle cx="274.8" cy="332.6" r="1.8"/><circle cx="274.9" cy="330.0" r="1.8"/><circle cx="275.8" cy="329.6" r="1.8"/><circle cx="275.4" cy="335.4" r="1.8"/><circle cx="272.2" cy="340.9" r="1.8"/><circle cx="275.4" cy="349.9" r="1.8"/><circle cx="274.7" cy="356.7" r="1.8"/><circle cx="272.2" cy="361.3" r="1.8"/><circle cx="274.9" cy="365.3" r="1.8"/><circle cx="275.8" cy="367.6" r="1.8"/><circle cx="274.3" cy="382.7" r="1.8"/><circle cx="277.0" cy="293.8" r="1.8"/><circle cx="276.2" cy="297.6" r="1.8"/><circle cx="278.2" cy="310.4" r="1.8"/><circle cx="277.2" cy="313.7" r="1.8"/><circle cx="276.3" cy="314.2" r="1.8"/><circle cx="277.5" cy="323.5" r="1.8"/><circle cx="278.3" cy="324.9" r="1.8"/><circle cx="278.0" cy="335.8" r="1.8"/><circle cx="277.5" cy="339.1" r="1.8"/><circle cx="279.2" cy="369.4" r="1.8"/><circle cx="278.4" cy="370.7" r="1.8"/><circle cx="276.9" cy="370.8" r="1.8"/><circle cx="277.2" cy="383.5" r="1.8"/><circle cx="278.6" cy="383.6" r="1.8"/><circle cx="281.5" cy="287.0" r="1.8"/><circle cx="283.5" cy="290.4" r="1.8"/><circle cx="281.0" cy="297.1" r="1.8"/><circle cx="282.2" cy="312.2" r="1.8"/><circle cx="282.9" cy="317.3" r="1.8"/><circle cx="280.3" cy="326.4" r="1.8"/><circle cx="280.6" cy="330.6" r="1.8"/><circle cx="280.3" cy="335.3" r="1.8"/><circle cx="280.3" cy="335.6" r="1.8"/><circle cx="280.5" cy="335.5" r="1.8"/><circle cx="281.3" cy="335.2" r="1.8"/><circle cx="281.9" cy="341.7" r="1.8"/><circle cx="283.0" cy="341.3" r="1.8"/><circle cx="280.3" cy="341.1" r="1.8"/><circle cx="280.0" cy="352.9" r="1.8"/><circle cx="283.5" cy="353.5" r="1.8"/><circle cx="283.2" cy="364.9" r="1.8"/><circle cx="280.9" cy="378.1" r="1.8"/><circle cx="281.6" cy="378.1" r="1.8"/><circle cx="286.5" cy="297.3" r="1.8"/><circle cx="286.7" cy="301.6" r="1.8"/><circle cx="288.0" cy="308.0" r="1.8"/><circle cx="285.2" cy="323.9" r="1.8"/><circle cx="284.9" cy="333.9" r="1.8"/><circle cx="284.5" cy="346.9" r="1.8"/><circle cx="285.6" cy="348.6" r="1.8"/><circle cx="286.5" cy="351.8" r="1.8"/><circle cx="284.2" cy="366.3" r="1.8"/><circle cx="285.3" cy="368.8" r="1.8"/><circle cx="285.0" cy="382.0" r="1.8"/><circle cx="290.9" cy="286.8" r="1.8"/><circle cx="289.0" cy="297.3" r="1.8"/><circle cx="291.4" cy="317.7" r="1.8"/><circle cx="290.6" cy="321.1" r="1.8"/><circle cx="288.4" cy="331.6" r="1.8"/><circle cx="288.2" cy="344.5" r="1.8"/><circle cx="290.6" cy="355.9" r="1.8"/><circle cx="289.1" cy="360.4" r="1.8"/><circle cx="291.0" cy="360.3" r="1.8"/><circle cx="289.2" cy="367.8" r="1.8"/><circle cx="291.1" cy="375.1" r="1.8"/><circle cx="288.6" cy="377.2" r="1.8"/><circle cx="288.4" cy="381.7" r="1.8"/><circle cx="288.3" cy="381.9" r="1.8"/><circle cx="294.3" cy="294.4" r="1.8"/><circle cx="293.8" cy="295.3" r="1.8"/><circle cx="294.4" cy="299.3" r="1.8"/><circle cx="295.3" cy="303.3" r="1.8"/><circle cx="293.8" cy="302.9" r="1.8"/><circle cx="292.4" cy="304.3" r="1.8"/><circle cx="293.8" cy="303.6" r="1.8"/><circle cx="294.5" cy="303.8" r="1.8"/><circle cx="292.2" cy="314.3" r="1.8"/><circle cx="293.5" cy="322.9" r="1.8"/><circle cx="294.6" cy="327.0" r="1.8"/><circle cx="295.0" cy="331.0" r="1.8"/><circle cx="293.1" cy="336.1" r="1.8"/><circle cx="295.8" cy="338.1" r="1.8"/><circle cx="293.6" cy="347.7" r="1.8"/><circle cx="292.3" cy="358.2" r="1.8"/><circle cx="293.8" cy="360.3" r="1.8"/><circle cx="292.0" cy="368.0" r="1.8"/><circle cx="293.8" cy="369.1" r="1.8"/><circle cx="300.0" cy="299.9" r="1.8"/><circle cx="297.3" cy="302.6" r="1.8"/><circle cx="299.8" cy="308.8" r="1.8"/><circle cx="296.8" cy="316.7" r="1.8"/><circle cx="298.4" cy="317.6" r="1.8"/><circle cx="298.6" cy="322.1" r="1.8"/><circle cx="298.7" cy="324.6" r="1.8"/><circle cx="299.8" cy="327.5" r="1.8"/><circle cx="297.1" cy="329.7" r="1.8"/><circle cx="298.6" cy="342.4" r="1.8"/><circle cx="299.2" cy="356.2" r="1.8"/><circle cx="300.0" cy="357.4" r="1.8"/><circle cx="299.9" cy="363.6" r="1.8"/><circle cx="296.2" cy="367.9" r="1.8"/><circle cx="297.4" cy="375.3" r="1.8"/><circle cx="303.3" cy="286.0" r="1.8"/><circle cx="300.4" cy="287.1" r="1.8"/><circle cx="301.6" cy="289.9" r="1.8"/><circle cx="302.6" cy="291.7" r="1.8"/><circle cx="300.7" cy="289.5" r="1.8"/><circle cx="303.2" cy="299.9" r="1.8"/><circle cx="300.8" cy="308.6" r="1.8"/><circle cx="301.2" cy="306.0" r="1.8"/><circle cx="302.2" cy="312.1" r="1.8"/><circle cx="303.4" cy="316.3" r="1.8"/><circle cx="302.4" cy="313.7" r="1.8"/><circle cx="301.6" cy="328.4" r="1.8"/><circle cx="301.5" cy="325.6" r="1.8"/><circle cx="301.6" cy="335.2" r="1.8"/><circle cx="301.1" cy="335.4" r="1.8"/><circle cx="302.5" cy="333.7" r="1.8"/><circle cx="302.4" cy="340.0" r="1.8"/><circle cx="302.2" cy="347.5" r="1.8"/><circle cx="302.7" cy="358.5" r="1.8"/><circle cx="300.8" cy="364.1" r="1.8"/><circle cx="305.2" cy="287.2" r="1.8"/><circle cx="304.7" cy="285.2" r="1.8"/><circle cx="307.4" cy="293.2" r="1.8"/><circle cx="304.1" cy="306.1" r="1.8"/><circle cx="305.6" cy="307.5" r="1.8"/><circle cx="304.5" cy="310.7" r="1.8"/><circle cx="304.7" cy="316.6" r="1.8"/><circle cx="306.3" cy="319.9" r="1.8"/><circle cx="307.4" cy="320.5" r="1.8"/><circle cx="305.2" cy="324.4" r="1.8"/><circle cx="306.0" cy="325.9" r="1.8"/><circle cx="307.2" cy="333.0" r="1.8"/><circle cx="305.7" cy="347.2" r="1.8"/><circle cx="311.9" cy="290.8" r="1.8"/><circle cx="311.7" cy="292.2" r="1.8"/><circle cx="309.3" cy="304.4" r="1.8"/><circle cx="308.0" cy="301.6" r="1.8"/><circle cx="308.8" cy="305.2" r="1.8"/><circle cx="309.7" cy="312.7" r="1.8"/><circle cx="309.4" cy="309.3" r="1.8"/><circle cx="311.2" cy="312.4" r="1.8"/><circle cx="311.8" cy="309.5" r="1.8"/><circle cx="310.0" cy="316.3" r="1.8"/><circle cx="310.4" cy="320.9" r="1.8"/><circle cx="311.7" cy="322.8" r="1.8"/><circle cx="311.9" cy="332.3" r="1.8"/><circle cx="311.0" cy="330.0" r="1.8"/><circle cx="308.5" cy="333.2" r="1.8"/><circle cx="310.9" cy="335.7" r="1.8"/><circle cx="309.4" cy="337.8" r="1.8"/><circle cx="311.2" cy="341.3" r="1.8"/><circle cx="311.5" cy="362.3" r="1.8"/><circle cx="311.0" cy="367.7" r="1.8"/><circle cx="309.7" cy="368.5" r="1.8"/><circle cx="313.9" cy="285.8" r="1.8"/><circle cx="313.8" cy="291.3" r="1.8"/><circle cx="314.6" cy="289.8" r="1.8"/><circle cx="315.7" cy="296.1" r="1.8"/><circle cx="315.7" cy="294.3" r="1.8"/><circle cx="314.3" cy="299.2" r="1.8"/><circle cx="313.0" cy="301.5" r="1.8"/><circle cx="313.0" cy="304.5" r="1.8"/><circle cx="315.2" cy="301.4" r="1.8"/><circle cx="314.4" cy="301.8" r="1.8"/><circle cx="313.2" cy="314.1" r="1.8"/><circle cx="315.1" cy="328.0" r="1.8"/><circle cx="315.5" cy="330.1" r="1.8"/><circle cx="312.6" cy="329.4" r="1.8"/><circle cx="312.8" cy="339.3" r="1.8"/><circle cx="312.1" cy="337.4" r="1.8"/><circle cx="315.7" cy="351.9" r="1.8"/><circle cx="315.6" cy="355.4" r="1.8"/><circle cx="314.7" cy="364.0" r="1.8"/><circle cx="315.6" cy="383.2" r="1.8"/><circle cx="319.6" cy="291.1" r="1.8"/><circle cx="318.1" cy="292.7" r="1.8"/><circle cx="319.5" cy="293.4" r="1.8"/><circle cx="316.0" cy="307.4" r="1.8"/><circle cx="317.7" cy="333.2" r="1.8"/><circle cx="316.6" cy="336.3" r="1.8"/><circle cx="317.9" cy="352.4" r="1.8"/><circle cx="316.7" cy="376.4" r="1.8"/><circle cx="316.9" cy="382.8" r="1.8"/><circle cx="316.9" cy="381.6" r="1.8"/><circle cx="320.4" cy="289.2" r="1.8"/><circle cx="320.8" cy="291.7" r="1.8"/><circle cx="324.0" cy="296.4" r="1.8"/><circle cx="322.3" cy="294.0" r="1.8"/><circle cx="323.1" cy="298.1" r="1.8"/><circle cx="321.3" cy="298.9" r="1.8"/><circle cx="322.1" cy="306.7" r="1.8"/><circle cx="323.3" cy="306.9" r="1.8"/><circle cx="320.3" cy="309.0" r="1.8"/><circle cx="322.1" cy="312.0" r="1.8"/><circle cx="322.8" cy="323.4" r="1.8"/><circle cx="320.9" cy="323.3" r="1.8"/><circle cx="321.2" cy="327.8" r="1.8"/><circle cx="321.1" cy="327.4" r="1.8"/><circle cx="323.9" cy="328.8" r="1.8"/><circle cx="320.9" cy="326.8" r="1.8"/><circle cx="320.9" cy="331.1" r="1.8"/><circle cx="320.9" cy="351.3" r="1.8"/><circle cx="321.0" cy="354.4" r="1.8"/><circle cx="320.8" cy="365.4" r="1.8"/><circle cx="322.3" cy="375.7" r="1.8"/><circle cx="324.6" cy="291.2" r="1.8"/><circle cx="328.0" cy="296.2" r="1.8"/><circle cx="326.2" cy="300.5" r="1.8"/><circle cx="327.2" cy="306.4" r="1.8"/><circle cx="324.3" cy="305.1" r="1.8"/><circle cx="324.9" cy="323.1" r="1.8"/><circle cx="324.2" cy="329.0" r="1.8"/><circle cx="327.7" cy="327.5" r="1.8"/><circle cx="324.2" cy="331.5" r="1.8"/><circle cx="326.3" cy="331.1" r="1.8"/><circle cx="325.2" cy="339.2" r="1.8"/><circle cx="325.3" cy="344.6" r="1.8"/><circle cx="327.5" cy="343.2" r="1.8"/><circle cx="325.2" cy="357.8" r="1.8"/><circle cx="324.5" cy="381.9" r="1.8"/><circle cx="324.3" cy="384.5" r="1.8"/><circle cx="331.9" cy="288.0" r="1.8"/><circle cx="331.8" cy="292.4" r="1.8"/><circle cx="328.5" cy="289.9" r="1.8"/><circle cx="331.5" cy="293.4" r="1.8"/><circle cx="330.9" cy="293.7" r="1.8"/><circle cx="328.2" cy="311.8" r="1.8"/><circle cx="330.5" cy="310.6" r="1.8"/><circle cx="330.6" cy="312.9" r="1.8"/><circle cx="331.0" cy="311.9" r="1.8"/><circle cx="331.2" cy="314.3" r="1.8"/><circle cx="330.9" cy="320.0" r="1.8"/><circle cx="330.7" cy="318.6" r="1.8"/><circle cx="328.4" cy="318.9" r="1.8"/><circle cx="331.5" cy="318.4" r="1.8"/><circle cx="331.3" cy="319.8" r="1.8"/><circle cx="329.5" cy="326.3" r="1.8"/><circle cx="329.8" cy="325.6" r="1.8"/><circle cx="332.0" cy="332.2" r="1.8"/><circle cx="331.8" cy="339.4" r="1.8"/><circle cx="328.6" cy="351.9" r="1.8"/><circle cx="331.7" cy="356.3" r="1.8"/><circle cx="328.3" cy="370.5" r="1.8"/><circle cx="330.4" cy="372.2" r="1.8"/><circle cx="335.8" cy="286.3" r="1.8"/><circle cx="333.2" cy="292.0" r="1.8"/><circle cx="332.2" cy="292.0" r="1.8"/><circle cx="334.2" cy="296.8" r="1.8"/><circle cx="333.3" cy="295.2" r="1.8"/><circle cx="333.9" cy="296.2" r="1.8"/><circle cx="332.1" cy="295.2" r="1.8"/><circle cx="334.2" cy="298.4" r="1.8"/><circle cx="335.0" cy="303.5" r="1.8"/><circle cx="332.9" cy="310.7" r="1.8"/><circle cx="332.1" cy="309.6" r="1.8"/><circle cx="333.2" cy="314.8" r="1.8"/><circle cx="333.7" cy="316.1" r="1.8"/><circle cx="333.0" cy="315.2" r="1.8"/><circle cx="335.4" cy="325.7" r="1.8"/><circle cx="332.3" cy="335.7" r="1.8"/><circle cx="333.6" cy="339.9" r="1.8"/><circle cx="332.6" cy="337.2" r="1.8"/><circle cx="334.0" cy="348.5" r="1.8"/><circle cx="335.2" cy="349.9" r="1.8"/><circle cx="334.1" cy="381.1" r="1.8"/><circle cx="337.0" cy="291.2" r="1.8"/><circle cx="340.0" cy="289.7" r="1.8"/><circle cx="338.7" cy="300.2" r="1.8"/><circle cx="339.5" cy="304.9" r="1.8"/><circle cx="337.1" cy="309.0" r="1.8"/><circle cx="337.6" cy="311.8" r="1.8"/><circle cx="337.2" cy="318.6" r="1.8"/><circle cx="338.4" cy="320.5" r="1.8"/><circle cx="339.8" cy="328.5" r="1.8"/><circle cx="339.6" cy="335.2" r="1.8"/><circle cx="338.4" cy="333.3" r="1.8"/><circle cx="337.5" cy="341.6" r="1.8"/><circle cx="337.7" cy="343.9" r="1.8"/><circle cx="341.7" cy="295.6" r="1.8"/><circle cx="341.8" cy="298.6" r="1.8"/><circle cx="341.6" cy="299.1" r="1.8"/><circle cx="340.0" cy="299.0" r="1.8"/><circle cx="340.5" cy="303.1" r="1.8"/><circle cx="340.5" cy="302.5" r="1.8"/><circle cx="340.7" cy="309.4" r="1.8"/><circle cx="343.1" cy="310.1" r="1.8"/><circle cx="340.6" cy="315.5" r="1.8"/><circle cx="341.0" cy="313.7" r="1.8"/><circle cx="342.3" cy="320.4" r="1.8"/><circle cx="343.3" cy="320.4" r="1.8"/><circle cx="341.8" cy="323.1" r="1.8"/><circle cx="342.6" cy="329.5" r="1.8"/><circle cx="341.4" cy="335.0" r="1.8"/><circle cx="342.2" cy="344.6" r="1.8"/><circle cx="341.9" cy="368.0" r="1.8"/><circle cx="342.5" cy="369.2" r="1.8"/><circle cx="346.0" cy="292.0" r="1.8"/><circle cx="347.7" cy="290.7" r="1.8"/><circle cx="344.4" cy="289.4" r="1.8"/><circle cx="344.2" cy="291.1" r="1.8"/><circle cx="344.5" cy="292.6" r="1.8"/><circle cx="344.8" cy="293.5" r="1.8"/><circle cx="346.7" cy="296.5" r="1.8"/><circle cx="347.6" cy="298.9" r="1.8"/><circle cx="344.1" cy="303.7" r="1.8"/><circle cx="347.2" cy="307.0" r="1.8"/><circle cx="346.7" cy="309.3" r="1.8"/><circle cx="345.8" cy="318.1" r="1.8"/><circle cx="347.9" cy="317.5" r="1.8"/><circle cx="345.6" cy="317.4" r="1.8"/><circle cx="344.3" cy="323.3" r="1.8"/><circle cx="347.8" cy="325.1" r="1.8"/><circle cx="347.3" cy="329.2" r="1.8"/><circle cx="346.6" cy="334.6" r="1.8"/><circle cx="345.6" cy="342.0" r="1.8"/><circle cx="344.0" cy="349.3" r="1.8"/><circle cx="345.4" cy="357.1" r="1.8"/><circle cx="344.5" cy="367.6" r="1.8"/><circle cx="345.5" cy="369.3" r="1.8"/><circle cx="347.3" cy="371.6" r="1.8"/><circle cx="344.9" cy="374.5" r="1.8"/><circle cx="348.3" cy="286.9" r="1.8"/><circle cx="350.6" cy="288.4" r="1.8"/><circle cx="348.8" cy="290.3" r="1.8"/><circle cx="348.3" cy="289.1" r="1.8"/><circle cx="351.1" cy="292.3" r="1.8"/><circle cx="349.9" cy="290.7" r="1.8"/><circle cx="349.7" cy="294.3" r="1.8"/><circle cx="351.0" cy="298.7" r="1.8"/><circle cx="350.6" cy="298.6" r="1.8"/><circle cx="349.9" cy="308.3" r="1.8"/><circle cx="350.3" cy="306.7" r="1.8"/><circle cx="349.8" cy="310.2" r="1.8"/><circle cx="350.2" cy="317.7" r="1.8"/><circle cx="351.5" cy="322.4" r="1.8"/><circle cx="351.1" cy="324.8" r="1.8"/><circle cx="348.7" cy="323.9" r="1.8"/><circle cx="349.2" cy="328.1" r="1.8"/><circle cx="351.4" cy="334.1" r="1.8"/><circle cx="350.6" cy="333.6" r="1.8"/><circle cx="350.9" cy="344.8" r="1.8"/><circle cx="349.9" cy="350.3" r="1.8"/><circle cx="349.1" cy="350.1" r="1.8"/><circle cx="349.6" cy="359.0" r="1.8"/><circle cx="349.0" cy="358.0" r="1.8"/><circle cx="348.5" cy="359.8" r="1.8"/><circle cx="350.2" cy="374.9" r="1.8"/><circle cx="350.2" cy="375.7" r="1.8"/><circle cx="355.3" cy="286.9" r="1.8"/><circle cx="355.4" cy="290.9" r="1.8"/><circle cx="352.8" cy="296.9" r="1.8"/><circle cx="353.0" cy="298.9" r="1.8"/><circle cx="354.7" cy="299.6" r="1.8"/><circle cx="352.6" cy="303.5" r="1.8"/><circle cx="354.0" cy="306.0" r="1.8"/><circle cx="352.1" cy="311.3" r="1.8"/><circle cx="352.3" cy="319.0" r="1.8"/><circle cx="354.3" cy="318.2" r="1.8"/><circle cx="354.3" cy="318.2" r="1.8"/><circle cx="353.9" cy="321.8" r="1.8"/><circle cx="355.3" cy="325.8" r="1.8"/><circle cx="353.9" cy="332.4" r="1.8"/><circle cx="353.8" cy="338.3" r="1.8"/><circle cx="353.2" cy="372.9" r="1.8"/><circle cx="357.2" cy="286.6" r="1.8"/><circle cx="359.4" cy="285.5" r="1.8"/><circle cx="359.1" cy="289.6" r="1.8"/><circle cx="359.3" cy="300.5" r="1.8"/><circle cx="357.2" cy="300.9" r="1.8"/><circle cx="359.6" cy="312.6" r="1.8"/><circle cx="356.7" cy="315.2" r="1.8"/><circle cx="358.3" cy="324.0" r="1.8"/><circle cx="360.0" cy="342.6" r="1.8"/><circle cx="356.0" cy="342.1" r="1.8"/><circle cx="360.0" cy="356.4" r="1.8"/><circle cx="358.1" cy="353.2" r="1.8"/><circle cx="356.8" cy="354.4" r="1.8"/><circle cx="358.4" cy="357.6" r="1.8"/><circle cx="360.3" cy="287.7" r="1.8"/><circle cx="362.0" cy="290.8" r="1.8"/><circle cx="361.4" cy="294.2" r="1.8"/><circle cx="360.7" cy="298.8" r="1.8"/><circle cx="361.2" cy="304.6" r="1.8"/><circle cx="360.6" cy="306.1" r="1.8"/><circle cx="361.0" cy="309.5" r="1.8"/><circle cx="361.5" cy="309.9" r="1.8"/><circle cx="363.8" cy="319.2" r="1.8"/><circle cx="360.5" cy="324.9" r="1.8"/><circle cx="363.9" cy="324.8" r="1.8"/><circle cx="363.6" cy="325.7" r="1.8"/><circle cx="362.5" cy="343.2" r="1.8"/><circle cx="360.8" cy="347.6" r="1.8"/><circle cx="361.4" cy="356.3" r="1.8"/><circle cx="362.9" cy="362.7" r="1.8"/><circle cx="365.3" cy="287.7" r="1.8"/><circle cx="367.1" cy="292.5" r="1.8"/><circle cx="366.4" cy="292.4" r="1.8"/><circle cx="364.3" cy="290.4" r="1.8"/><circle cx="367.1" cy="297.6" r="1.8"/><circle cx="364.1" cy="303.0" r="1.8"/><circle cx="365.9" cy="308.7" r="1.8"/><circle cx="365.3" cy="305.0" r="1.8"/><circle cx="366.1" cy="309.3" r="1.8"/><circle cx="364.9" cy="316.3" r="1.8"/><circle cx="366.2" cy="318.5" r="1.8"/><circle cx="364.9" cy="318.2" r="1.8"/><circle cx="366.3" cy="323.9" r="1.8"/><circle cx="366.6" cy="322.8" r="1.8"/><circle cx="366.1" cy="321.0" r="1.8"/><circle cx="366.0" cy="327.0" r="1.8"/><circle cx="367.9" cy="325.9" r="1.8"/><circle cx="366.1" cy="332.5" r="1.8"/><circle cx="367.6" cy="338.1" r="1.8"/><circle cx="366.2" cy="342.6" r="1.8"/><circle cx="368.4" cy="287.4" r="1.8"/><circle cx="370.6" cy="286.9" r="1.8"/><circle cx="372.0" cy="287.1" r="1.8"/><circle cx="369.4" cy="287.6" r="1.8"/><circle cx="371.4" cy="293.2" r="1.8"/><circle cx="371.1" cy="301.2" r="1.8"/><circle cx="370.1" cy="311.7" r="1.8"/><circle cx="370.9" cy="309.5" r="1.8"/><circle cx="368.2" cy="309.0" r="1.8"/><circle cx="368.3" cy="319.2" r="1.8"/><circle cx="371.0" cy="324.4" r="1.8"/><circle cx="368.4" cy="323.4" r="1.8"/><circle cx="369.6" cy="322.4" r="1.8"/><circle cx="371.1" cy="331.7" r="1.8"/><circle cx="368.2" cy="343.1" r="1.8"/><circle cx="370.4" cy="358.6" r="1.8"/><circle cx="371.4" cy="370.6" r="1.8"/><circle cx="372.4" cy="287.4" r="1.8"/><circle cx="374.5" cy="287.0" r="1.8"/><circle cx="372.5" cy="289.9" r="1.8"/><circle cx="372.0" cy="293.0" r="1.8"/><circle cx="376.0" cy="291.2" r="1.8"/><circle cx="374.6" cy="294.6" r="1.8"/><circle cx="374.2" cy="303.8" r="1.8"/><circle cx="374.5" cy="305.0" r="1.8"/><circle cx="374.9" cy="306.8" r="1.8"/><circle cx="375.0" cy="309.3" r="1.8"/><circle cx="375.3" cy="315.5" r="1.8"/><circle cx="375.7" cy="318.5" r="1.8"/><circle cx="374.7" cy="332.2" r="1.8"/><circle cx="374.0" cy="329.4" r="1.8"/><circle cx="375.7" cy="336.3" r="1.8"/><circle cx="374.2" cy="339.2" r="1.8"/><circle cx="375.6" cy="346.0" r="1.8"/><circle cx="373.8" cy="349.3" r="1.8"/><circle cx="375.0" cy="349.9" r="1.8"/><circle cx="372.6" cy="360.3" r="1.8"/><circle cx="375.5" cy="384.5" r="1.8"/><circle cx="378.7" cy="288.6" r="1.8"/><circle cx="377.8" cy="286.3" r="1.8"/><circle cx="379.4" cy="291.5" r="1.8"/><circle cx="377.1" cy="289.7" r="1.8"/><circle cx="377.4" cy="293.1" r="1.8"/><circle cx="378.0" cy="299.2" r="1.8"/><circle cx="376.4" cy="298.7" r="1.8"/><circle cx="379.0" cy="305.3" r="1.8"/><circle cx="377.6" cy="311.5" r="1.8"/><circle cx="377.7" cy="319.9" r="1.8"/><circle cx="377.5" cy="317.9" r="1.8"/><circle cx="379.6" cy="324.9" r="1.8"/><circle cx="377.6" cy="335.7" r="1.8"/><circle cx="379.0" cy="334.4" r="1.8"/><circle cx="379.2" cy="342.8" r="1.8"/><circle cx="377.9" cy="352.8" r="1.8"/><circle cx="379.3" cy="356.0" r="1.8"/><circle cx="376.7" cy="375.7" r="1.8"/><circle cx="382.5" cy="291.3" r="1.8"/><circle cx="381.1" cy="289.2" r="1.8"/><circle cx="384.0" cy="293.0" r="1.8"/><circle cx="380.6" cy="298.6" r="1.8"/><circle cx="380.4" cy="303.5" r="1.8"/><circle cx="382.7" cy="305.4" r="1.8"/><circle cx="382.6" cy="307.2" r="1.8"/><circle cx="383.6" cy="308.9" r="1.8"/><circle cx="383.0" cy="306.7" r="1.8"/><circle cx="381.3" cy="312.0" r="1.8"/><circle cx="383.2" cy="313.4" r="1.8"/><circle cx="381.1" cy="313.7" r="1.8"/><circle cx="382.6" cy="314.2" r="1.8"/><circle cx="380.7" cy="320.8" r="1.8"/><circle cx="382.6" cy="323.5" r="1.8"/><circle cx="382.4" cy="326.9" r="1.8"/><circle cx="382.7" cy="335.9" r="1.8"/><circle cx="382.4" cy="339.5" r="1.8"/><circle cx="381.9" cy="362.4" r="1.8"/><circle cx="381.9" cy="367.3" r="1.8"/><circle cx="380.8" cy="381.1" r="1.8"/><circle cx="382.4" cy="384.3" r="1.8"/><circle cx="387.2" cy="288.3" r="1.8"/><circle cx="386.3" cy="287.5" r="1.8"/><circle cx="387.4" cy="295.4" r="1.8"/><circle cx="387.9" cy="300.9" r="1.8"/><circle cx="384.7" cy="300.4" r="1.8"/><circle cx="386.4" cy="297.5" r="1.8"/><circle cx="386.9" cy="303.1" r="1.8"/><circle cx="386.2" cy="304.1" r="1.8"/><circle cx="384.9" cy="304.1" r="1.8"/><circle cx="384.2" cy="311.6" r="1.8"/><circle cx="384.2" cy="316.1" r="1.8"/><circle cx="387.2" cy="324.4" r="1.8"/><circle cx="387.7" cy="326.8" r="1.8"/><circle cx="387.4" cy="330.3" r="1.8"/><circle cx="385.7" cy="341.5" r="1.8"/><circle cx="384.5" cy="343.9" r="1.8"/><circle cx="385.1" cy="354.0" r="1.8"/><circle cx="384.9" cy="357.7" r="1.8"/><circle cx="385.3" cy="360.8" r="1.8"/><circle cx="385.0" cy="372.2" r="1.8"/><circle cx="388.1" cy="292.5" r="1.8"/><circle cx="391.6" cy="295.7" r="1.8"/><circle cx="390.3" cy="304.0" r="1.8"/><circle cx="389.8" cy="306.6" r="1.8"/><circle cx="391.4" cy="310.7" r="1.8"/><circle cx="391.2" cy="330.4" r="1.8"/><circle cx="388.8" cy="337.3" r="1.8"/><circle cx="389.3" cy="339.4" r="1.8"/><circle cx="390.2" cy="339.8" r="1.8"/><circle cx="389.5" cy="342.3" r="1.8"/><circle cx="389.1" cy="356.1" r="1.8"/><circle cx="388.0" cy="364.9" r="1.8"/><circle cx="390.7" cy="368.1" r="1.8"/><circle cx="390.5" cy="370.3" r="1.8"/><circle cx="388.8" cy="369.0" r="1.8"/><circle cx="389.6" cy="373.6" r="1.8"/><circle cx="390.7" cy="373.1" r="1.8"/><circle cx="390.8" cy="373.7" r="1.8"/><circle cx="388.9" cy="384.3" r="1.8"/><circle cx="395.6" cy="286.1" r="1.8"/><circle cx="394.1" cy="286.9" r="1.8"/><circle cx="392.9" cy="299.7" r="1.8"/><circle cx="392.9" cy="299.7" r="1.8"/><circle cx="393.9" cy="300.7" r="1.8"/><circle cx="395.5" cy="300.2" r="1.8"/><circle cx="393.2" cy="304.8" r="1.8"/><circle cx="395.2" cy="312.2" r="1.8"/><circle cx="393.4" cy="322.6" r="1.8"/><circle cx="394.5" cy="324.6" r="1.8"/><circle cx="394.4" cy="323.1" r="1.8"/><circle cx="394.5" cy="344.3" r="1.8"/><circle cx="392.1" cy="344.6" r="1.8"/><circle cx="393.7" cy="344.2" r="1.8"/><circle cx="395.8" cy="357.3" r="1.8"/><circle cx="394.7" cy="364.7" r="1.8"/><circle cx="392.6" cy="370.9" r="1.8"/><circle cx="395.0" cy="375.1" r="1.8"/><circle cx="399.4" cy="287.9" r="1.8"/><circle cx="397.7" cy="286.1" r="1.8"/><circle cx="398.6" cy="289.3" r="1.8"/><circle cx="399.4" cy="290.6" r="1.8"/><circle cx="399.3" cy="289.0" r="1.8"/><circle cx="397.3" cy="295.2" r="1.8"/><circle cx="397.4" cy="300.6" r="1.8"/><circle cx="399.0" cy="303.8" r="1.8"/><circle cx="398.3" cy="301.3" r="1.8"/><circle cx="399.6" cy="308.9" r="1.8"/><circle cx="399.7" cy="311.9" r="1.8"/><circle cx="399.8" cy="312.8" r="1.8"/><circle cx="398.7" cy="316.4" r="1.8"/><circle cx="396.5" cy="315.4" r="1.8"/><circle cx="399.4" cy="316.2" r="1.8"/><circle cx="398.9" cy="321.0" r="1.8"/><circle cx="396.0" cy="319.1" r="1.8"/><circle cx="397.4" cy="327.8" r="1.8"/><circle cx="400.0" cy="332.2" r="1.8"/><circle cx="399.5" cy="345.0" r="1.8"/><circle cx="396.9" cy="347.9" r="1.8"/><circle cx="398.5" cy="359.6" r="1.8"/><circle cx="398.2" cy="373.4" r="1.8"/><circle cx="403.6" cy="287.3" r="1.8"/><circle cx="403.7" cy="291.4" r="1.8"/><circle cx="400.8" cy="298.1" r="1.8"/><circle cx="402.7" cy="301.5" r="1.8"/><circle cx="402.4" cy="306.3" r="1.8"/><circle cx="402.8" cy="306.1" r="1.8"/><circle cx="402.2" cy="307.2" r="1.8"/><circle cx="402.8" cy="318.1" r="1.8"/><circle cx="402.0" cy="325.8" r="1.8"/><circle cx="402.0" cy="328.4" r="1.8"/><circle cx="401.9" cy="345.9" r="1.8"/><circle cx="402.2" cy="351.0" r="1.8"/><circle cx="402.1" cy="361.9" r="1.8"/><circle cx="405.0" cy="289.6" r="1.8"/><circle cx="404.4" cy="306.8" r="1.8"/><circle cx="406.9" cy="308.7" r="1.8"/><circle cx="404.8" cy="310.4" r="1.8"/><circle cx="407.1" cy="313.0" r="1.8"/><circle cx="406.1" cy="316.1" r="1.8"/><circle cx="406.3" cy="328.0" r="1.8"/><circle cx="405.9" cy="325.4" r="1.8"/><circle cx="405.8" cy="332.6" r="1.8"/><circle cx="404.0" cy="332.9" r="1.8"/><circle cx="405.9" cy="331.4" r="1.8"/><circle cx="404.5" cy="339.2" r="1.8"/><circle cx="406.8" cy="346.8" r="1.8"/><circle cx="407.7" cy="352.6" r="1.8"/><circle cx="405.8" cy="367.3" r="1.8"/><circle cx="404.7" cy="366.1" r="1.8"/><circle cx="405.2" cy="370.0" r="1.8"/><circle cx="406.8" cy="384.0" r="1.8"/><circle cx="411.9" cy="288.6" r="1.8"/><circle cx="410.3" cy="291.8" r="1.8"/><circle cx="408.1" cy="299.4" r="1.8"/><circle cx="409.2" cy="304.5" r="1.8"/><circle cx="408.1" cy="316.4" r="1.8"/><circle cx="408.6" cy="316.3" r="1.8"/><circle cx="408.6" cy="323.0" r="1.8"/><circle cx="411.2" cy="321.3" r="1.8"/><circle cx="411.2" cy="322.2" r="1.8"/><circle cx="410.4" cy="325.6" r="1.8"/><circle cx="410.6" cy="330.8" r="1.8"/><circle cx="410.0" cy="330.2" r="1.8"/><circle cx="408.4" cy="337.1" r="1.8"/><circle cx="408.2" cy="357.2" r="1.8"/><circle cx="408.6" cy="361.3" r="1.8"/><circle cx="408.5" cy="379.7" r="1.8"/><circle cx="414.7" cy="293.5" r="1.8"/><circle cx="414.0" cy="293.4" r="1.8"/><circle cx="412.7" cy="302.4" r="1.8"/><circle cx="414.2" cy="302.8" r="1.8"/><circle cx="413.9" cy="312.0" r="1.8"/><circle cx="415.0" cy="314.4" r="1.8"/><circle cx="414.2" cy="334.9" r="1.8"/><circle cx="412.6" cy="333.3" r="1.8"/><circle cx="414.5" cy="333.4" r="1.8"/><circle cx="415.2" cy="335.6" r="1.8"/><circle cx="415.4" cy="337.9" r="1.8"/><circle cx="413.3" cy="350.7" r="1.8"/><circle cx="413.0" cy="355.7" r="1.8"/><circle cx="414.6" cy="364.6" r="1.8"/><circle cx="413.5" cy="371.2" r="1.8"/><circle cx="415.7" cy="373.6" r="1.8"/><circle cx="415.8" cy="374.6" r="1.8"/><circle cx="413.5" cy="375.8" r="1.8"/><circle cx="414.6" cy="374.3" r="1.8"/><circle cx="416.7" cy="288.3" r="1.8"/><circle cx="417.0" cy="286.3" r="1.8"/><circle cx="418.8" cy="292.4" r="1.8"/><circle cx="419.2" cy="290.1" r="1.8"/><circle cx="417.0" cy="293.6" r="1.8"/><circle cx="417.0" cy="299.8" r="1.8"/><circle cx="419.8" cy="306.0" r="1.8"/><circle cx="419.9" cy="306.9" r="1.8"/><circle cx="417.4" cy="305.5" r="1.8"/><circle cx="419.1" cy="308.2" r="1.8"/><circle cx="418.1" cy="312.9" r="1.8"/><circle cx="418.3" cy="319.1" r="1.8"/><circle cx="416.6" cy="347.3" r="1.8"/><circle cx="417.4" cy="355.9" r="1.8"/><circle cx="419.5" cy="368.6" r="1.8"/><circle cx="191.1" cy="461.3" r="1.8"/><circle cx="194.1" cy="478.3" r="1.8"/><circle cx="202.4" cy="463.0" r="1.8"/></g><path d="M130.9,352.1 L133.9,355.8 L136.9,358.8 L139.9,361.1 L142.9,362.8 L145.9,363.9 L148.9,364.5 L151.9,364.7 L154.9,364.5 L157.9,364.0 L160.9,363.2 L163.9,362.1 L166.9,360.9 L169.9,359.6 L172.9,358.2 L175.9,356.6 L178.9,355.0 L181.9,353.3 L184.9,351.6 L187.9,349.8 L190.9,348.0 L193.9,346.2 L196.9,344.4 L199.9,342.6 L202.9,340.9 L205.9,339.3 L208.9,337.7 L211.9,336.2 L214.9,334.8 L217.9,333.6 L220.9,332.4 L223.9,331.5 L226.9,330.7 L229.9,330.0 L232.9,329.5 L235.9,329.1 L238.9,328.8 L241.9,328.6 L244.9,328.6 L247.9,328.5 L250.9,328.6 L253.9,328.7 L256.9,328.8 L259.9,329.0 L262.9,329.2 L265.9,329.3 L268.9,329.5 L271.9,329.7 L274.9,329.8 L277.9,329.9 L280.9,329.9 L283.9,329.8 L286.9,329.7 L289.9,329.5 L292.9,329.1 L295.9,328.7 L298.9,328.2 L301.9,327.6 L304.9,326.9 L307.9,326.2 L310.9,325.5 L313.9,324.7 L316.9,323.8 L319.9,323.0 L322.9,322.1 L325.9,321.2 L328.9,320.4 L331.9,319.5 L334.9,318.7 L337.9,317.9 L340.9,317.2 L343.9,316.5 L346.9,315.8 L349.9,315.2 L352.9,314.6 L355.9,314.0 L358.9,313.5 L361.9,313.1 L364.9,312.6 L367.9,312.3 L370.9,311.9 L373.9,311.6 L376.9,311.4 L379.9,311.2 L382.9,311.0 L385.9,310.9 L388.9,310.8 L391.9,310.8 L394.9,310.8 L397.9,310.9 L400.9,311.0 L403.9,311.2 L406.9,311.4 L409.9,311.6 L412.9,311.9 L415.9,312.2 L418.9,312.5 L421.9,312.8 L424.9,313.1 L427.9,313.4 L430.9,313.6 L433.9,313.7 L436.9,313.7 L439.9,313.7 L442.9,313.5 L445.9,313.1 L448.9,312.7 L451.9,312.0 L454.9,311.2 L457.9,310.1 L460.9,308.9 L463.9,307.6 L466.9,306.1 L469.9,304.7 L472.9,303.2 L475.9,301.8 L478.9,300.5 L481.9,299.3 L484.9,298.2 L487.9,297.3 L490.9,296.4 L493.9,295.7 L496.9,295.1 L499.9,294.5 L502.9,294.1 L505.9,293.6 L508.9,293.3 L511.9,292.9 L514.9,292.6 L517.9,292.3 L520.9,292.0 L523.9,291.7 L526.9,291.4 L529.9,291.0 L532.9,290.7 L535.9,290.2 L538.9,289.7 L541.9,289.1 L544.9,288.5 L547.9,287.7 L550.9,286.8 L553.9,285.9 L556.9,284.8 L559.9,283.5 L562.9,282.1 L565.9,280.6 L568.9,278.8 L571.9,276.9 L574.9,274.8 L577.9,272.6 L580.9,270.1 L583.9,267.5 L586.9,264.7 L589.9,261.8 L592.9,258.8 L595.9,255.6 L598.9,252.3 L601.9,248.9 L604.9,245.4 L607.9,241.8 L610.9,238.1 L613.9,234.4 L616.9,230.6 L619.9,226.7 L622.9,222.9 L625.9,219.1 L628.9,215.5 L631.9,212.1 L634.9,209.0 L637.9,206.2 L640.9,203.8 L643.9,202.0 L646.9,200.6 L649.9,199.9 L652.9,199.9 L655.9,200.5 L658.9,201.7 L661.9,203.3 L664.9,205.3 L667.9,207.5 L670.9,209.8 L673.9,212.1 L676.9,214.4 L679.9,216.4 L682.9,218.1 L685.9,219.4 L688.9,220.2 L691.9,220.6 L694.9,220.7 L697.9,220.4 L700.9,219.9 L703.9,219.1 L706.9,218.1 L709.9,216.9 L712.9,215.7 L715.9,214.4 L718.9,213.2 L721.9,212.0 L724.9,211.0 L727.9,210.2 L730.9,209.6 L733.9,209.4 L736.9,209.5 L739.9,210.1 L742.9,211.1 L745.9,212.6 L748.9,214.4 L751.9,216.4 L754.9,218.7 L757.9,221.2 L760.9,223.7 L763.9,226.3 L766.9,228.9 L769.9,231.6 L772.9,234.2 L775.9,236.9 L778.9,239.6 L781.9,242.3 L784.9,245.0 L787.9,247.6 L790.9,250.2 L793.9,252.7 L795.0,253.3 L807.2,263.9 L814.2,268.9 L822.2,272.2 L828.9,270.8 L835.0,264.7 L843.3,251.7 L847.2,243.3 L852.4,233.0 L859.0,222.8 L866.4,215.4 L883.1,285.5" fill="none" stroke="#000" stroke-width="2.0" stroke-dasharray="16 8" stroke-dashoffset="3.5" stroke-linejoin="round"/><rect x="111.1" y="78.9" width="972.5" height="516" fill="none" stroke="#000" stroke-width="1.7"/><line x1="111.1" y1="78" x2="111.1" y2="596" stroke="#000" stroke-width="2.1"/><line x1="110" y1="595" x2="1084.4" y2="595" stroke="#000" stroke-width="2.1"/><line x1="99.4" y1="106.19" x2="111" y2="106.19" stroke="#000" stroke-width="1.3"/><text transform="translate(88,106.19) rotate(-90) scale(1,1.08)" text-anchor="middle" class="t28">.4</text><line x1="99.4" y1="224.07" x2="111" y2="224.07" stroke="#000" stroke-width="1.3"/><text transform="translate(88,224.07) rotate(-90) scale(1,1.08)" text-anchor="middle" class="t28">.2</text><line x1="99.4" y1="341.95" x2="111" y2="341.95" stroke="#000" stroke-width="1.3"/><text transform="translate(88,341.95) rotate(-90) scale(1,1.08)" text-anchor="middle" class="t28">0</text><line x1="99.4" y1="459.83" x2="111" y2="459.83" stroke="#000" stroke-width="1.3"/><text transform="translate(88,459.83) rotate(-90) scale(1,1.08)" text-anchor="middle" class="t28">-.2</text><line x1="99.4" y1="577.71" x2="111" y2="577.71" stroke="#000" stroke-width="1.3"/><text transform="translate(88,577.71) rotate(-90) scale(1,1.08)" text-anchor="middle" class="t28">-.4</text><line x1="128.20" y1="596" x2="128.20" y2="606.5" stroke="#000" stroke-width="1.3"/><text transform="translate(128.20,635) scale(1,1.08)" text-anchor="middle" class="t28">0</text><line x1="440.97" y1="596" x2="440.97" y2="606.5" stroke="#000" stroke-width="1.3"/><text transform="translate(440.97,635) scale(1,1.08)" text-anchor="middle" class="t28">50000</text><line x1="753.73" y1="596" x2="753.73" y2="606.5" stroke="#000" stroke-width="1.3"/><text transform="translate(753.73,635) scale(1,1.08)" text-anchor="middle" class="t28">100000</text><line x1="1066.50" y1="596" x2="1066.50" y2="606.5" stroke="#000" stroke-width="1.3"/><text transform="translate(1066.50,635) scale(1,1.08)" text-anchor="middle" class="t28">150000</text><text x="597.3" y="65" text-anchor="middle" class="t38">Local polynomial smooth logaz N</text><text x="597.3" y="664.5" text-anchor="middle" class="t28">gdppp2017</text><text transform="translate(56.0,336.8) rotate(-90)" text-anchor="middle" class="t28">Linear prediction</text><rect x="170.35" y="687.05" width="854.6" height="51" fill="none" stroke="#000" stroke-width="1.45"/><rect x="181.5" y="698.7" width="105.3" height="28" fill="#bebebe"/><text x="304.1" y="725" class="t28">95% CI</text><circle cx="445.8" cy="712.7" r="1.8" fill="#008000" fill-opacity="0.3"/><text x="469" y="725" class="t28">Linear prediction</text><line x1="725.9" y1="712.7" x2="831" y2="712.7" stroke="#000" stroke-width="2.1" stroke-dasharray="16.2 8.1"/><text x="848.4" y="725" class="t28">lpoly smooth</text><text x="115.4" y="771" class="t22">kernel = epanechnikov, degree = 4, bandwidth = 9385.09, pwidth = 14077.64</text></svg>
</body></html>
